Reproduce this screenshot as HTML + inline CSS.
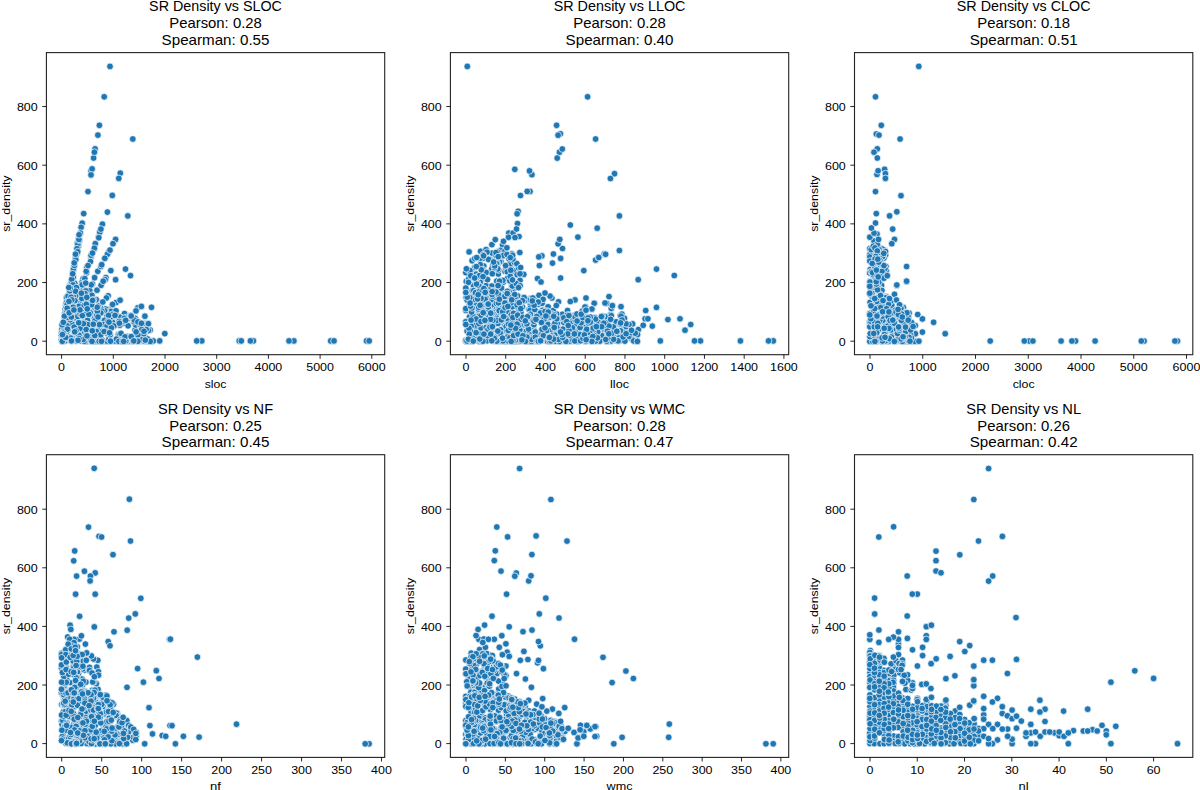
<!DOCTYPE html>
<html><head><meta charset="utf-8"><style>
html,body{margin:0;padding:0;background:#fff;width:1200px;height:790px;overflow:hidden}
svg{display:block}
text{font-family:"Liberation Sans",sans-serif;fill:#000}
</style></head><body>
<svg width="1200" height="790" viewBox="0 0 1200 790">
<defs><clipPath id="c0"><rect x="46.40" y="52.60" width="338.30" height="302.10"/></clipPath><clipPath id="c1"><rect x="450.40" y="52.60" width="338.30" height="302.10"/></clipPath><clipPath id="c2"><rect x="854.50" y="52.60" width="338.30" height="302.10"/></clipPath><clipPath id="c3"><rect x="46.40" y="454.70" width="338.30" height="302.70"/></clipPath><clipPath id="c4"><rect x="450.40" y="454.70" width="338.30" height="302.70"/></clipPath><clipPath id="c5"><rect x="854.50" y="454.70" width="338.30" height="302.70"/></clipPath><filter id="bl" x="0" y="0" width="1200" height="790" filterUnits="userSpaceOnUse"><feGaussianBlur stdDeviation="0"/></filter></defs>
<g>
<rect width="1200" height="790" fill="#fff"/>
<text x="215.55" y="11.20" font-size="14.2" text-anchor="middle" textLength="132.83" lengthAdjust="spacingAndGlyphs">SR Density vs SLOC</text>
<text x="215.55" y="28.30" font-size="14.2" text-anchor="middle" textLength="92.54" lengthAdjust="spacingAndGlyphs">Pearson: 0.28</text>
<text x="215.55" y="45.40" font-size="14.2" text-anchor="middle" textLength="107.91" lengthAdjust="spacingAndGlyphs">Spearman: 0.55</text>
<g clip-path="url(#c0)">

<g fill="#1f77b4" stroke="#fff" stroke-width="0.7">
<circle cx="71.3" cy="340.8" r="3.35"/>
<circle cx="129.6" cy="341.2" r="3.35"/>
<circle cx="108.1" cy="295.8" r="3.35"/>
<circle cx="98.1" cy="319.6" r="3.35"/>
<circle cx="77.0" cy="248.5" r="3.35"/>
<circle cx="119.8" cy="323.2" r="3.35"/>
<circle cx="75.0" cy="317.7" r="3.35"/>
<circle cx="105.4" cy="329.7" r="3.35"/>
<circle cx="150.2" cy="330.0" r="3.35"/>
<circle cx="98.6" cy="237.2" r="3.35"/>
<circle cx="81.9" cy="290.5" r="3.35"/>
<circle cx="100.4" cy="341.4" r="3.35"/>
<circle cx="66.6" cy="338.1" r="3.35"/>
<circle cx="77.3" cy="243.2" r="3.35"/>
<circle cx="65.2" cy="309.0" r="3.35"/>
<circle cx="106.8" cy="341.4" r="3.35"/>
<circle cx="92.5" cy="283.9" r="3.35"/>
<circle cx="72.0" cy="282.0" r="3.35"/>
<circle cx="65.6" cy="321.4" r="3.35"/>
<circle cx="123.3" cy="318.4" r="3.35"/>
<circle cx="104.1" cy="311.0" r="3.35"/>
<circle cx="82.8" cy="311.5" r="3.35"/>
<circle cx="64.4" cy="333.0" r="3.35"/>
<circle cx="75.6" cy="313.6" r="3.35"/>
<circle cx="100.8" cy="341.1" r="3.35"/>
<circle cx="99.8" cy="232.2" r="3.35"/>
<circle cx="108.5" cy="321.6" r="3.35"/>
<circle cx="143.7" cy="334.1" r="3.35"/>
<circle cx="72.7" cy="289.9" r="3.35"/>
<circle cx="95.3" cy="243.7" r="3.35"/>
<circle cx="73.6" cy="285.0" r="3.35"/>
<circle cx="69.4" cy="293.1" r="3.35"/>
<circle cx="84.4" cy="295.4" r="3.35"/>
<circle cx="106.4" cy="298.0" r="3.35"/>
<circle cx="107.0" cy="315.5" r="3.35"/>
<circle cx="73.5" cy="269.1" r="3.35"/>
<circle cx="69.8" cy="285.2" r="3.35"/>
<circle cx="128.1" cy="318.4" r="3.35"/>
<circle cx="70.7" cy="283.9" r="3.35"/>
<circle cx="74.5" cy="296.2" r="3.35"/>
<circle cx="62.6" cy="327.2" r="3.35"/>
<circle cx="68.1" cy="330.1" r="3.35"/>
<circle cx="77.3" cy="335.9" r="3.35"/>
<circle cx="114.3" cy="340.9" r="3.35"/>
<circle cx="85.9" cy="339.0" r="3.35"/>
<circle cx="99.4" cy="125.3" r="3.35"/>
<circle cx="85.3" cy="319.7" r="3.35"/>
<circle cx="148.5" cy="330.6" r="3.35"/>
<circle cx="79.4" cy="309.2" r="3.35"/>
<circle cx="73.0" cy="271.2" r="3.35"/>
<circle cx="65.8" cy="304.0" r="3.35"/>
<circle cx="101.1" cy="334.2" r="3.35"/>
<circle cx="102.3" cy="341.4" r="3.35"/>
<circle cx="78.4" cy="245.9" r="3.35"/>
<circle cx="83.1" cy="278.9" r="3.35"/>
<circle cx="105.0" cy="258.4" r="3.35"/>
<circle cx="131.3" cy="316.9" r="3.35"/>
<circle cx="96.9" cy="300.6" r="3.35"/>
<circle cx="82.8" cy="289.2" r="3.35"/>
<circle cx="144.5" cy="323.7" r="3.35"/>
<circle cx="104.0" cy="341.0" r="3.35"/>
<circle cx="96.0" cy="315.9" r="3.35"/>
<circle cx="138.8" cy="340.9" r="3.35"/>
<circle cx="253.4" cy="340.9" r="3.35"/>
<circle cx="94.1" cy="341.4" r="3.35"/>
<circle cx="129.9" cy="336.8" r="3.35"/>
<circle cx="127.8" cy="215.9" r="3.35"/>
<circle cx="112.1" cy="325.1" r="3.35"/>
<circle cx="62.7" cy="322.8" r="3.35"/>
<circle cx="107.8" cy="309.3" r="3.35"/>
<circle cx="91.2" cy="337.7" r="3.35"/>
<circle cx="107.7" cy="333.8" r="3.35"/>
<circle cx="77.4" cy="308.1" r="3.35"/>
<circle cx="105.5" cy="309.0" r="3.35"/>
<circle cx="71.7" cy="298.9" r="3.35"/>
<circle cx="126.7" cy="340.9" r="3.35"/>
<circle cx="108.0" cy="325.0" r="3.35"/>
<circle cx="81.9" cy="282.7" r="3.35"/>
<circle cx="97.4" cy="321.3" r="3.35"/>
<circle cx="116.1" cy="322.4" r="3.35"/>
<circle cx="100.7" cy="327.1" r="3.35"/>
<circle cx="67.8" cy="296.1" r="3.35"/>
<circle cx="71.3" cy="282.7" r="3.35"/>
<circle cx="91.5" cy="324.6" r="3.35"/>
<circle cx="74.7" cy="283.3" r="3.35"/>
<circle cx="65.1" cy="340.9" r="3.35"/>
<circle cx="104.2" cy="324.9" r="3.35"/>
<circle cx="84.2" cy="332.9" r="3.35"/>
<circle cx="115.6" cy="279.7" r="3.35"/>
<circle cx="120.7" cy="340.9" r="3.35"/>
<circle cx="86.9" cy="267.2" r="3.35"/>
<circle cx="108.6" cy="252.2" r="3.35"/>
<circle cx="66.5" cy="332.4" r="3.35"/>
<circle cx="104.7" cy="310.9" r="3.35"/>
<circle cx="75.1" cy="333.3" r="3.35"/>
<circle cx="74.4" cy="310.1" r="3.35"/>
<circle cx="151.7" cy="341.2" r="3.35"/>
<circle cx="88.0" cy="340.9" r="3.35"/>
<circle cx="84.4" cy="323.1" r="3.35"/>
<circle cx="110.8" cy="270.6" r="3.35"/>
<circle cx="87.3" cy="329.8" r="3.35"/>
<circle cx="82.1" cy="302.7" r="3.35"/>
<circle cx="74.8" cy="303.8" r="3.35"/>
<circle cx="94.5" cy="318.3" r="3.35"/>
<circle cx="80.7" cy="332.4" r="3.35"/>
<circle cx="71.2" cy="297.8" r="3.35"/>
<circle cx="78.8" cy="295.6" r="3.35"/>
<circle cx="81.1" cy="335.2" r="3.35"/>
<circle cx="69.0" cy="294.5" r="3.35"/>
<circle cx="111.5" cy="311.1" r="3.35"/>
<circle cx="87.4" cy="306.1" r="3.35"/>
<circle cx="137.8" cy="307.8" r="3.35"/>
<circle cx="94.0" cy="249.5" r="3.35"/>
<circle cx="66.5" cy="297.5" r="3.35"/>
<circle cx="75.8" cy="302.5" r="3.35"/>
<circle cx="84.7" cy="320.4" r="3.35"/>
<circle cx="88.4" cy="306.2" r="3.35"/>
<circle cx="135.0" cy="330.1" r="3.35"/>
<circle cx="124.2" cy="323.3" r="3.35"/>
<circle cx="135.6" cy="325.0" r="3.35"/>
<circle cx="64.3" cy="318.1" r="3.35"/>
<circle cx="107.6" cy="324.1" r="3.35"/>
<circle cx="74.3" cy="263.7" r="3.35"/>
<circle cx="112.1" cy="305.1" r="3.35"/>
<circle cx="93.3" cy="340.9" r="3.35"/>
<circle cx="72.8" cy="297.2" r="3.35"/>
<circle cx="62.0" cy="328.9" r="3.35"/>
<circle cx="147.1" cy="341.4" r="3.35"/>
<circle cx="64.0" cy="323.6" r="3.35"/>
<circle cx="102.4" cy="224.2" r="3.35"/>
<circle cx="103.4" cy="322.9" r="3.35"/>
<circle cx="104.9" cy="329.6" r="3.35"/>
<circle cx="103.6" cy="330.7" r="3.35"/>
<circle cx="116.1" cy="302.5" r="3.35"/>
<circle cx="330.7" cy="340.9" r="3.35"/>
<circle cx="95.1" cy="148.9" r="3.35"/>
<circle cx="71.7" cy="298.2" r="3.35"/>
<circle cx="146.4" cy="324.3" r="3.35"/>
<circle cx="83.1" cy="303.0" r="3.35"/>
<circle cx="61.4" cy="340.0" r="3.35"/>
<circle cx="79.6" cy="303.2" r="3.35"/>
<circle cx="89.7" cy="290.4" r="3.35"/>
<circle cx="77.8" cy="296.6" r="3.35"/>
<circle cx="100.0" cy="332.4" r="3.35"/>
<circle cx="80.3" cy="290.6" r="3.35"/>
<circle cx="73.5" cy="268.6" r="3.35"/>
<circle cx="98.8" cy="237.7" r="3.35"/>
<circle cx="83.1" cy="303.3" r="3.35"/>
<circle cx="104.5" cy="320.3" r="3.35"/>
<circle cx="135.5" cy="320.1" r="3.35"/>
<circle cx="91.0" cy="256.9" r="3.35"/>
<circle cx="112.3" cy="195.4" r="3.35"/>
<circle cx="293.9" cy="340.9" r="3.35"/>
<circle cx="72.2" cy="324.2" r="3.35"/>
<circle cx="124.5" cy="313.5" r="3.35"/>
<circle cx="77.0" cy="309.9" r="3.35"/>
<circle cx="141.4" cy="337.8" r="3.35"/>
<circle cx="91.0" cy="170.9" r="3.35"/>
<circle cx="84.7" cy="332.9" r="3.35"/>
<circle cx="90.8" cy="336.9" r="3.35"/>
<circle cx="79.3" cy="311.7" r="3.35"/>
<circle cx="91.1" cy="255.3" r="3.35"/>
<circle cx="91.2" cy="284.8" r="3.35"/>
<circle cx="133.8" cy="321.7" r="3.35"/>
<circle cx="79.0" cy="312.9" r="3.35"/>
<circle cx="86.6" cy="272.8" r="3.35"/>
<circle cx="111.7" cy="319.0" r="3.35"/>
<circle cx="148.7" cy="341.0" r="3.35"/>
<circle cx="70.8" cy="336.8" r="3.35"/>
<circle cx="135.2" cy="318.4" r="3.35"/>
<circle cx="78.2" cy="302.6" r="3.35"/>
<circle cx="93.7" cy="308.1" r="3.35"/>
<circle cx="69.7" cy="339.7" r="3.35"/>
<circle cx="107.4" cy="254.3" r="3.35"/>
<circle cx="67.0" cy="309.2" r="3.35"/>
<circle cx="64.5" cy="326.6" r="3.35"/>
<circle cx="140.9" cy="340.9" r="3.35"/>
<circle cx="120.5" cy="340.9" r="3.35"/>
<circle cx="117.9" cy="316.2" r="3.35"/>
<circle cx="97.3" cy="322.1" r="3.35"/>
<circle cx="98.4" cy="313.0" r="3.35"/>
<circle cx="92.0" cy="328.7" r="3.35"/>
<circle cx="63.3" cy="334.2" r="3.35"/>
<circle cx="100.8" cy="308.4" r="3.35"/>
<circle cx="66.9" cy="325.7" r="3.35"/>
<circle cx="118.1" cy="321.4" r="3.35"/>
<circle cx="76.9" cy="315.5" r="3.35"/>
<circle cx="72.3" cy="304.4" r="3.35"/>
<circle cx="133.0" cy="341.3" r="3.35"/>
<circle cx="107.2" cy="341.2" r="3.35"/>
<circle cx="61.4" cy="333.0" r="3.35"/>
<circle cx="120.9" cy="335.4" r="3.35"/>
<circle cx="94.4" cy="248.2" r="3.35"/>
<circle cx="108.9" cy="339.1" r="3.35"/>
<circle cx="85.1" cy="324.3" r="3.35"/>
<circle cx="144.6" cy="335.3" r="3.35"/>
<circle cx="107.4" cy="212.1" r="3.35"/>
<circle cx="67.8" cy="310.9" r="3.35"/>
<circle cx="72.2" cy="307.6" r="3.35"/>
<circle cx="164.8" cy="333.6" r="3.35"/>
<circle cx="64.0" cy="329.5" r="3.35"/>
<circle cx="78.0" cy="306.0" r="3.35"/>
<circle cx="76.5" cy="332.8" r="3.35"/>
<circle cx="99.7" cy="327.6" r="3.35"/>
<circle cx="66.2" cy="303.0" r="3.35"/>
<circle cx="88.1" cy="336.1" r="3.35"/>
<circle cx="101.8" cy="339.6" r="3.35"/>
<circle cx="126.2" cy="317.5" r="3.35"/>
<circle cx="95.5" cy="335.6" r="3.35"/>
<circle cx="77.8" cy="244.3" r="3.35"/>
<circle cx="61.4" cy="335.3" r="3.35"/>
<circle cx="97.9" cy="135.1" r="3.35"/>
<circle cx="70.6" cy="313.6" r="3.35"/>
<circle cx="147.7" cy="339.0" r="3.35"/>
<circle cx="98.4" cy="306.0" r="3.35"/>
<circle cx="64.2" cy="332.9" r="3.35"/>
<circle cx="83.7" cy="213.6" r="3.35"/>
<circle cx="64.3" cy="320.7" r="3.35"/>
<circle cx="91.9" cy="300.5" r="3.35"/>
<circle cx="101.9" cy="311.2" r="3.35"/>
<circle cx="112.5" cy="322.4" r="3.35"/>
<circle cx="97.0" cy="290.2" r="3.35"/>
<circle cx="84.6" cy="314.4" r="3.35"/>
<circle cx="66.2" cy="307.1" r="3.35"/>
<circle cx="101.1" cy="285.3" r="3.35"/>
<circle cx="76.5" cy="298.2" r="3.35"/>
<circle cx="85.7" cy="317.6" r="3.35"/>
<circle cx="106.2" cy="325.5" r="3.35"/>
<circle cx="80.4" cy="297.7" r="3.35"/>
<circle cx="104.8" cy="258.3" r="3.35"/>
<circle cx="65.1" cy="312.8" r="3.35"/>
<circle cx="94.1" cy="307.9" r="3.35"/>
<circle cx="84.8" cy="278.7" r="3.35"/>
<circle cx="102.8" cy="302.0" r="3.35"/>
<circle cx="134.3" cy="320.1" r="3.35"/>
<circle cx="70.9" cy="314.2" r="3.35"/>
<circle cx="66.2" cy="314.0" r="3.35"/>
<circle cx="130.8" cy="315.4" r="3.35"/>
<circle cx="127.3" cy="336.6" r="3.35"/>
<circle cx="62.7" cy="334.8" r="3.35"/>
<circle cx="104.2" cy="96.8" r="3.35"/>
<circle cx="67.0" cy="301.7" r="3.35"/>
<circle cx="68.8" cy="299.1" r="3.35"/>
<circle cx="79.5" cy="339.8" r="3.35"/>
<circle cx="73.6" cy="339.1" r="3.35"/>
<circle cx="148.4" cy="323.7" r="3.35"/>
<circle cx="118.3" cy="334.6" r="3.35"/>
<circle cx="146.2" cy="329.5" r="3.35"/>
<circle cx="74.2" cy="327.1" r="3.35"/>
<circle cx="151.5" cy="307.3" r="3.35"/>
<circle cx="75.8" cy="295.6" r="3.35"/>
<circle cx="116.0" cy="310.8" r="3.35"/>
<circle cx="96.4" cy="315.6" r="3.35"/>
<circle cx="143.7" cy="340.9" r="3.35"/>
<circle cx="96.7" cy="341.4" r="3.35"/>
<circle cx="120.3" cy="173.2" r="3.35"/>
<circle cx="90.9" cy="323.5" r="3.35"/>
<circle cx="125.7" cy="340.3" r="3.35"/>
<circle cx="78.9" cy="237.8" r="3.35"/>
<circle cx="119.3" cy="334.9" r="3.35"/>
<circle cx="80.4" cy="340.8" r="3.35"/>
<circle cx="139.8" cy="324.2" r="3.35"/>
<circle cx="96.6" cy="340.8" r="3.35"/>
<circle cx="86.2" cy="271.3" r="3.35"/>
<circle cx="93.0" cy="338.4" r="3.35"/>
<circle cx="95.9" cy="321.2" r="3.35"/>
<circle cx="85.3" cy="310.3" r="3.35"/>
<circle cx="94.6" cy="277.7" r="3.35"/>
<circle cx="95.0" cy="320.8" r="3.35"/>
<circle cx="87.2" cy="338.5" r="3.35"/>
<circle cx="82.2" cy="223.2" r="3.35"/>
<circle cx="82.1" cy="300.3" r="3.35"/>
<circle cx="153.3" cy="340.9" r="3.35"/>
<circle cx="96.3" cy="309.5" r="3.35"/>
<circle cx="93.8" cy="324.3" r="3.35"/>
<circle cx="78.9" cy="301.9" r="3.35"/>
<circle cx="73.4" cy="296.8" r="3.35"/>
<circle cx="81.1" cy="227.3" r="3.35"/>
<circle cx="85.9" cy="341.4" r="3.35"/>
<circle cx="141.4" cy="306.4" r="3.35"/>
<circle cx="103.0" cy="324.5" r="3.35"/>
<circle cx="75.5" cy="259.5" r="3.35"/>
<circle cx="72.0" cy="292.0" r="3.35"/>
<circle cx="77.6" cy="289.5" r="3.35"/>
<circle cx="121.0" cy="333.4" r="3.35"/>
<circle cx="141.8" cy="329.5" r="3.35"/>
<circle cx="92.1" cy="168.9" r="3.35"/>
<circle cx="115.6" cy="239.4" r="3.35"/>
<circle cx="87.5" cy="339.5" r="3.35"/>
<circle cx="62.7" cy="339.2" r="3.35"/>
<circle cx="88.8" cy="300.3" r="3.35"/>
<circle cx="100.8" cy="313.0" r="3.35"/>
<circle cx="334.0" cy="340.9" r="3.35"/>
<circle cx="105.9" cy="277.7" r="3.35"/>
<circle cx="76.1" cy="340.9" r="3.35"/>
<circle cx="201.8" cy="340.9" r="3.35"/>
<circle cx="89.0" cy="298.0" r="3.35"/>
<circle cx="112.6" cy="304.4" r="3.35"/>
<circle cx="77.8" cy="316.5" r="3.35"/>
<circle cx="110.0" cy="250.1" r="3.35"/>
<circle cx="97.3" cy="311.2" r="3.35"/>
<circle cx="83.2" cy="322.5" r="3.35"/>
<circle cx="80.3" cy="328.2" r="3.35"/>
<circle cx="96.2" cy="299.6" r="3.35"/>
<circle cx="84.2" cy="341.3" r="3.35"/>
<circle cx="87.5" cy="320.3" r="3.35"/>
<circle cx="71.3" cy="317.8" r="3.35"/>
<circle cx="130.5" cy="275.6" r="3.35"/>
<circle cx="102.5" cy="331.2" r="3.35"/>
<circle cx="67.2" cy="304.4" r="3.35"/>
<circle cx="66.8" cy="311.8" r="3.35"/>
<circle cx="132.8" cy="139.0" r="3.35"/>
<circle cx="80.5" cy="338.0" r="3.35"/>
<circle cx="119.8" cy="325.2" r="3.35"/>
<circle cx="79.0" cy="306.3" r="3.35"/>
<circle cx="239.2" cy="340.9" r="3.35"/>
<circle cx="82.0" cy="300.4" r="3.35"/>
<circle cx="99.0" cy="336.7" r="3.35"/>
<circle cx="83.2" cy="312.7" r="3.35"/>
<circle cx="128.1" cy="325.8" r="3.35"/>
<circle cx="62.3" cy="341.4" r="3.35"/>
<circle cx="66.2" cy="315.8" r="3.35"/>
<circle cx="85.8" cy="335.4" r="3.35"/>
<circle cx="70.0" cy="319.8" r="3.35"/>
<circle cx="117.8" cy="340.8" r="3.35"/>
<circle cx="107.0" cy="326.0" r="3.35"/>
<circle cx="85.6" cy="323.6" r="3.35"/>
<circle cx="121.8" cy="320.9" r="3.35"/>
<circle cx="79.4" cy="240.4" r="3.35"/>
<circle cx="69.7" cy="317.5" r="3.35"/>
<circle cx="80.5" cy="337.6" r="3.35"/>
<circle cx="120.4" cy="317.3" r="3.35"/>
<circle cx="66.1" cy="313.9" r="3.35"/>
<circle cx="83.8" cy="283.5" r="3.35"/>
<circle cx="87.6" cy="328.4" r="3.35"/>
<circle cx="96.4" cy="331.5" r="3.35"/>
<circle cx="125.8" cy="341.0" r="3.35"/>
<circle cx="83.4" cy="339.4" r="3.35"/>
<circle cx="99.2" cy="341.3" r="3.35"/>
<circle cx="100.9" cy="229.1" r="3.35"/>
<circle cx="88.8" cy="337.2" r="3.35"/>
<circle cx="92.5" cy="253.1" r="3.35"/>
<circle cx="86.0" cy="304.8" r="3.35"/>
<circle cx="71.9" cy="303.2" r="3.35"/>
<circle cx="70.2" cy="340.1" r="3.35"/>
<circle cx="91.9" cy="295.3" r="3.35"/>
<circle cx="366.5" cy="340.9" r="3.35"/>
<circle cx="77.0" cy="253.6" r="3.35"/>
<circle cx="125.5" cy="269.1" r="3.35"/>
<circle cx="97.8" cy="271.3" r="3.35"/>
<circle cx="66.6" cy="310.3" r="3.35"/>
<circle cx="124.2" cy="318.3" r="3.35"/>
<circle cx="77.0" cy="248.7" r="3.35"/>
<circle cx="71.8" cy="282.9" r="3.35"/>
<circle cx="78.9" cy="335.2" r="3.35"/>
<circle cx="74.9" cy="300.6" r="3.35"/>
<circle cx="63.3" cy="332.0" r="3.35"/>
<circle cx="88.8" cy="336.5" r="3.35"/>
<circle cx="70.2" cy="295.8" r="3.35"/>
<circle cx="88.6" cy="309.8" r="3.35"/>
<circle cx="62.3" cy="341.3" r="3.35"/>
<circle cx="90.8" cy="313.2" r="3.35"/>
<circle cx="85.9" cy="296.5" r="3.35"/>
<circle cx="72.8" cy="275.6" r="3.35"/>
<circle cx="85.3" cy="302.7" r="3.35"/>
<circle cx="105.1" cy="279.8" r="3.35"/>
<circle cx="80.1" cy="314.0" r="3.35"/>
<circle cx="73.4" cy="277.0" r="3.35"/>
<circle cx="69.6" cy="291.9" r="3.35"/>
<circle cx="79.0" cy="338.5" r="3.35"/>
<circle cx="69.6" cy="337.3" r="3.35"/>
<circle cx="81.9" cy="298.4" r="3.35"/>
<circle cx="91.0" cy="339.8" r="3.35"/>
<circle cx="125.0" cy="336.9" r="3.35"/>
<circle cx="82.2" cy="284.8" r="3.35"/>
<circle cx="70.9" cy="338.1" r="3.35"/>
<circle cx="73.9" cy="308.2" r="3.35"/>
<circle cx="136.0" cy="310.9" r="3.35"/>
<circle cx="112.1" cy="314.4" r="3.35"/>
<circle cx="72.4" cy="340.7" r="3.35"/>
<circle cx="118.8" cy="178.4" r="3.35"/>
<circle cx="289.0" cy="340.9" r="3.35"/>
<circle cx="131.2" cy="316.0" r="3.35"/>
<circle cx="85.7" cy="283.1" r="3.35"/>
<circle cx="114.9" cy="341.0" r="3.35"/>
<circle cx="78.0" cy="340.3" r="3.35"/>
<circle cx="75.7" cy="257.3" r="3.35"/>
<circle cx="74.3" cy="265.4" r="3.35"/>
<circle cx="143.5" cy="334.1" r="3.35"/>
<circle cx="75.8" cy="259.8" r="3.35"/>
<circle cx="144.0" cy="331.2" r="3.35"/>
<circle cx="93.6" cy="158.0" r="3.35"/>
<circle cx="82.1" cy="314.5" r="3.35"/>
<circle cx="100.9" cy="266.5" r="3.35"/>
<circle cx="76.0" cy="330.9" r="3.35"/>
<circle cx="90.2" cy="312.8" r="3.35"/>
<circle cx="71.7" cy="279.3" r="3.35"/>
<circle cx="141.4" cy="339.6" r="3.35"/>
<circle cx="120.1" cy="300.2" r="3.35"/>
<circle cx="68.2" cy="317.5" r="3.35"/>
<circle cx="67.5" cy="329.1" r="3.35"/>
<circle cx="101.5" cy="341.3" r="3.35"/>
<circle cx="73.2" cy="307.3" r="3.35"/>
<circle cx="241.3" cy="340.9" r="3.35"/>
<circle cx="72.8" cy="289.9" r="3.35"/>
<circle cx="64.4" cy="316.2" r="3.35"/>
<circle cx="73.0" cy="284.9" r="3.35"/>
<circle cx="71.4" cy="317.0" r="3.35"/>
<circle cx="137.9" cy="321.9" r="3.35"/>
<circle cx="68.0" cy="296.1" r="3.35"/>
<circle cx="62.1" cy="324.8" r="3.35"/>
<circle cx="137.8" cy="334.8" r="3.35"/>
<circle cx="65.7" cy="337.5" r="3.35"/>
<circle cx="91.4" cy="330.9" r="3.35"/>
<circle cx="71.0" cy="297.1" r="3.35"/>
<circle cx="131.2" cy="336.6" r="3.35"/>
<circle cx="137.9" cy="341.3" r="3.35"/>
<circle cx="116.4" cy="339.1" r="3.35"/>
<circle cx="76.4" cy="287.6" r="3.35"/>
<circle cx="123.4" cy="321.3" r="3.35"/>
<circle cx="78.9" cy="239.4" r="3.35"/>
<circle cx="136.1" cy="331.9" r="3.35"/>
<circle cx="84.7" cy="314.6" r="3.35"/>
<circle cx="110.2" cy="334.7" r="3.35"/>
<circle cx="88.0" cy="191.6" r="3.35"/>
<circle cx="74.2" cy="262.9" r="3.35"/>
<circle cx="100.8" cy="334.7" r="3.35"/>
<circle cx="74.7" cy="331.8" r="3.35"/>
<circle cx="84.5" cy="292.9" r="3.35"/>
<circle cx="94.4" cy="152.2" r="3.35"/>
<circle cx="109.9" cy="317.9" r="3.35"/>
<circle cx="68.7" cy="311.0" r="3.35"/>
<circle cx="110.5" cy="341.2" r="3.35"/>
<circle cx="69.8" cy="290.8" r="3.35"/>
<circle cx="105.1" cy="331.2" r="3.35"/>
<circle cx="77.7" cy="251.7" r="3.35"/>
<circle cx="70.9" cy="311.6" r="3.35"/>
<circle cx="85.9" cy="290.9" r="3.35"/>
<circle cx="97.2" cy="307.2" r="3.35"/>
<circle cx="141.4" cy="323.3" r="3.35"/>
<circle cx="90.5" cy="261.6" r="3.35"/>
<circle cx="88.1" cy="324.7" r="3.35"/>
<circle cx="110.0" cy="66.4" r="3.35"/>
<circle cx="91.6" cy="304.7" r="3.35"/>
<circle cx="113.0" cy="243.7" r="3.35"/>
<circle cx="71.8" cy="299.9" r="3.35"/>
<circle cx="82.3" cy="315.6" r="3.35"/>
<circle cx="80.4" cy="233.1" r="3.35"/>
<circle cx="119.1" cy="321.5" r="3.35"/>
<circle cx="93.5" cy="299.7" r="3.35"/>
<circle cx="94.7" cy="335.5" r="3.35"/>
<circle cx="63.3" cy="322.3" r="3.35"/>
<circle cx="114.0" cy="325.9" r="3.35"/>
<circle cx="108.6" cy="315.4" r="3.35"/>
<circle cx="111.4" cy="327.8" r="3.35"/>
<circle cx="85.1" cy="293.6" r="3.35"/>
<circle cx="67.2" cy="308.3" r="3.35"/>
<circle cx="125.7" cy="320.3" r="3.35"/>
<circle cx="83.4" cy="323.7" r="3.35"/>
<circle cx="118.9" cy="341.4" r="3.35"/>
<circle cx="86.2" cy="329.5" r="3.35"/>
<circle cx="71.5" cy="340.9" r="3.35"/>
<circle cx="84.2" cy="305.3" r="3.35"/>
<circle cx="150.2" cy="341.4" r="3.35"/>
<circle cx="86.3" cy="304.3" r="3.35"/>
<circle cx="87.0" cy="335.9" r="3.35"/>
<circle cx="99.5" cy="324.6" r="3.35"/>
<circle cx="92.0" cy="341.4" r="3.35"/>
<circle cx="72.7" cy="273.8" r="3.35"/>
<circle cx="145.3" cy="340.1" r="3.35"/>
<circle cx="69.0" cy="301.4" r="3.35"/>
<circle cx="107.9" cy="321.3" r="3.35"/>
<circle cx="92.3" cy="330.8" r="3.35"/>
<circle cx="369.2" cy="340.9" r="3.35"/>
<circle cx="159.7" cy="340.9" r="3.35"/>
<circle cx="93.3" cy="324.2" r="3.35"/>
<circle cx="122.4" cy="341.4" r="3.35"/>
<circle cx="104.1" cy="331.5" r="3.35"/>
<circle cx="92.5" cy="300.4" r="3.35"/>
<circle cx="79.1" cy="234.8" r="3.35"/>
<circle cx="133.8" cy="340.9" r="3.35"/>
<circle cx="63.3" cy="333.3" r="3.35"/>
<circle cx="109.0" cy="322.1" r="3.35"/>
<circle cx="109.5" cy="332.8" r="3.35"/>
<circle cx="98.0" cy="317.0" r="3.35"/>
<circle cx="80.0" cy="309.9" r="3.35"/>
<circle cx="75.5" cy="291.2" r="3.35"/>
<circle cx="101.7" cy="264.7" r="3.35"/>
<circle cx="88.9" cy="314.3" r="3.35"/>
<circle cx="103.2" cy="281.2" r="3.35"/>
<circle cx="70.3" cy="288.0" r="3.35"/>
<circle cx="144.9" cy="316.2" r="3.35"/>
<circle cx="123.7" cy="341.4" r="3.35"/>
<circle cx="88.0" cy="265.6" r="3.35"/>
<circle cx="250.4" cy="340.9" r="3.35"/>
<circle cx="75.5" cy="254.2" r="3.35"/>
<circle cx="69.2" cy="312.8" r="3.35"/>
<circle cx="62.4" cy="334.6" r="3.35"/>
<circle cx="119.4" cy="323.2" r="3.35"/>
<circle cx="91.0" cy="174.9" r="3.35"/>
<circle cx="73.9" cy="310.0" r="3.35"/>
<circle cx="78.7" cy="322.8" r="3.35"/>
<circle cx="196.7" cy="340.9" r="3.35"/>
<circle cx="86.8" cy="297.3" r="3.35"/>
<circle cx="115.0" cy="315.4" r="3.35"/>
<circle cx="81.4" cy="293.2" r="3.35"/>
<circle cx="87.3" cy="308.9" r="3.35"/>
<circle cx="68.8" cy="287.5" r="3.35"/>
</g></g>
<rect x="46.40" y="52.60" width="338.30" height="302.10" fill="none" stroke="#222" stroke-width="1.1"/>
<line x1="61.60" y1="354.70" x2="61.60" y2="358.80" stroke="#000" stroke-width="0.85"/>
<text x="61.60" y="371.40" font-size="11.8" text-anchor="middle" textLength="6.93" lengthAdjust="spacingAndGlyphs">0</text>
<line x1="113.30" y1="354.70" x2="113.30" y2="358.80" stroke="#000" stroke-width="0.85"/>
<text x="113.30" y="371.40" font-size="11.8" text-anchor="middle" textLength="27.74" lengthAdjust="spacingAndGlyphs">1000</text>
<line x1="165.00" y1="354.70" x2="165.00" y2="358.80" stroke="#000" stroke-width="0.85"/>
<text x="165.00" y="371.40" font-size="11.8" text-anchor="middle" textLength="27.74" lengthAdjust="spacingAndGlyphs">2000</text>
<line x1="216.70" y1="354.70" x2="216.70" y2="358.80" stroke="#000" stroke-width="0.85"/>
<text x="216.70" y="371.40" font-size="11.8" text-anchor="middle" textLength="27.74" lengthAdjust="spacingAndGlyphs">3000</text>
<line x1="268.40" y1="354.70" x2="268.40" y2="358.80" stroke="#000" stroke-width="0.85"/>
<text x="268.40" y="371.40" font-size="11.8" text-anchor="middle" textLength="27.74" lengthAdjust="spacingAndGlyphs">4000</text>
<line x1="320.10" y1="354.70" x2="320.10" y2="358.80" stroke="#000" stroke-width="0.85"/>
<text x="320.10" y="371.40" font-size="11.8" text-anchor="middle" textLength="27.74" lengthAdjust="spacingAndGlyphs">5000</text>
<line x1="371.80" y1="354.70" x2="371.80" y2="358.80" stroke="#000" stroke-width="0.85"/>
<text x="371.80" y="371.40" font-size="11.8" text-anchor="middle" textLength="27.74" lengthAdjust="spacingAndGlyphs">6000</text>
<line x1="42.30" y1="341.20" x2="46.40" y2="341.20" stroke="#000" stroke-width="0.85"/>
<text x="37.70" y="345.70" font-size="11.8" text-anchor="end" textLength="6.93" lengthAdjust="spacingAndGlyphs">0</text>
<line x1="42.30" y1="282.53" x2="46.40" y2="282.53" stroke="#000" stroke-width="0.85"/>
<text x="37.70" y="287.03" font-size="11.8" text-anchor="end" textLength="20.80" lengthAdjust="spacingAndGlyphs">200</text>
<line x1="42.30" y1="223.86" x2="46.40" y2="223.86" stroke="#000" stroke-width="0.85"/>
<text x="37.70" y="228.36" font-size="11.8" text-anchor="end" textLength="20.80" lengthAdjust="spacingAndGlyphs">400</text>
<line x1="42.30" y1="165.19" x2="46.40" y2="165.19" stroke="#000" stroke-width="0.85"/>
<text x="37.70" y="169.69" font-size="11.8" text-anchor="end" textLength="20.80" lengthAdjust="spacingAndGlyphs">600</text>
<line x1="42.30" y1="106.52" x2="46.40" y2="106.52" stroke="#000" stroke-width="0.85"/>
<text x="37.70" y="111.02" font-size="11.8" text-anchor="end" textLength="20.80" lengthAdjust="spacingAndGlyphs">800</text>
<text x="215.55" y="387.60" font-size="11.8" text-anchor="middle" textLength="21.66" lengthAdjust="spacingAndGlyphs">sloc</text>
<g transform="translate(9.80,203.65) rotate(-90)"><text x="0.00" y="0.00" font-size="11.8" text-anchor="middle" textLength="56.34" lengthAdjust="spacingAndGlyphs">sr_density</text></g>
<text x="619.55" y="11.20" font-size="14.2" text-anchor="middle" textLength="131.78" lengthAdjust="spacingAndGlyphs">SR Density vs LLOC</text>
<text x="619.55" y="28.30" font-size="14.2" text-anchor="middle" textLength="92.54" lengthAdjust="spacingAndGlyphs">Pearson: 0.28</text>
<text x="619.55" y="45.40" font-size="14.2" text-anchor="middle" textLength="107.91" lengthAdjust="spacingAndGlyphs">Spearman: 0.40</text>
<g clip-path="url(#c1)">

<g fill="#1f77b4" stroke="#fff" stroke-width="0.7">
<circle cx="531.9" cy="314.5" r="3.35"/>
<circle cx="510.2" cy="271.9" r="3.35"/>
<circle cx="505.0" cy="271.3" r="3.35"/>
<circle cx="512.7" cy="333.2" r="3.35"/>
<circle cx="519.7" cy="273.5" r="3.35"/>
<circle cx="603.8" cy="331.6" r="3.35"/>
<circle cx="599.7" cy="336.2" r="3.35"/>
<circle cx="601.7" cy="335.3" r="3.35"/>
<circle cx="471.5" cy="337.4" r="3.35"/>
<circle cx="565.7" cy="332.8" r="3.35"/>
<circle cx="584.6" cy="337.0" r="3.35"/>
<circle cx="510.2" cy="336.6" r="3.35"/>
<circle cx="534.7" cy="298.9" r="3.35"/>
<circle cx="560.4" cy="133.8" r="3.35"/>
<circle cx="515.5" cy="325.8" r="3.35"/>
<circle cx="519.8" cy="252.5" r="3.35"/>
<circle cx="515.8" cy="341.1" r="3.35"/>
<circle cx="512.2" cy="341.4" r="3.35"/>
<circle cx="472.1" cy="260.7" r="3.35"/>
<circle cx="517.1" cy="319.9" r="3.35"/>
<circle cx="562.2" cy="333.8" r="3.35"/>
<circle cx="503.8" cy="300.9" r="3.35"/>
<circle cx="477.8" cy="337.9" r="3.35"/>
<circle cx="502.6" cy="324.3" r="3.35"/>
<circle cx="581.5" cy="336.3" r="3.35"/>
<circle cx="530.5" cy="313.6" r="3.35"/>
<circle cx="510.0" cy="341.4" r="3.35"/>
<circle cx="529.8" cy="298.5" r="3.35"/>
<circle cx="502.4" cy="293.7" r="3.35"/>
<circle cx="558.5" cy="301.8" r="3.35"/>
<circle cx="469.0" cy="292.1" r="3.35"/>
<circle cx="575.0" cy="299.9" r="3.35"/>
<circle cx="477.9" cy="299.0" r="3.35"/>
<circle cx="494.0" cy="340.4" r="3.35"/>
<circle cx="549.8" cy="340.9" r="3.35"/>
<circle cx="562.5" cy="248.5" r="3.35"/>
<circle cx="600.0" cy="324.2" r="3.35"/>
<circle cx="511.7" cy="329.7" r="3.35"/>
<circle cx="488.2" cy="293.5" r="3.35"/>
<circle cx="570.3" cy="225.0" r="3.35"/>
<circle cx="501.0" cy="261.6" r="3.35"/>
<circle cx="521.4" cy="299.1" r="3.35"/>
<circle cx="584.7" cy="335.9" r="3.35"/>
<circle cx="536.5" cy="316.5" r="3.35"/>
<circle cx="514.2" cy="336.9" r="3.35"/>
<circle cx="467.5" cy="273.1" r="3.35"/>
<circle cx="551.9" cy="298.0" r="3.35"/>
<circle cx="494.8" cy="305.9" r="3.35"/>
<circle cx="523.8" cy="274.4" r="3.35"/>
<circle cx="524.3" cy="331.7" r="3.35"/>
<circle cx="539.0" cy="295.3" r="3.35"/>
<circle cx="490.4" cy="306.1" r="3.35"/>
<circle cx="638.2" cy="279.7" r="3.35"/>
<circle cx="516.7" cy="300.9" r="3.35"/>
<circle cx="474.0" cy="284.9" r="3.35"/>
<circle cx="541.3" cy="330.8" r="3.35"/>
<circle cx="483.8" cy="266.0" r="3.35"/>
<circle cx="539.7" cy="312.3" r="3.35"/>
<circle cx="512.1" cy="293.8" r="3.35"/>
<circle cx="519.8" cy="334.1" r="3.35"/>
<circle cx="528.5" cy="335.8" r="3.35"/>
<circle cx="559.5" cy="152.2" r="3.35"/>
<circle cx="531.9" cy="174.7" r="3.35"/>
<circle cx="524.1" cy="338.7" r="3.35"/>
<circle cx="497.1" cy="259.2" r="3.35"/>
<circle cx="474.7" cy="267.4" r="3.35"/>
<circle cx="493.0" cy="327.6" r="3.35"/>
<circle cx="484.6" cy="287.4" r="3.35"/>
<circle cx="500.2" cy="292.3" r="3.35"/>
<circle cx="479.5" cy="332.4" r="3.35"/>
<circle cx="498.8" cy="307.8" r="3.35"/>
<circle cx="520.4" cy="320.7" r="3.35"/>
<circle cx="536.2" cy="316.4" r="3.35"/>
<circle cx="509.3" cy="297.2" r="3.35"/>
<circle cx="523.8" cy="298.3" r="3.35"/>
<circle cx="510.4" cy="337.9" r="3.35"/>
<circle cx="485.9" cy="303.3" r="3.35"/>
<circle cx="597.2" cy="228.2" r="3.35"/>
<circle cx="588.1" cy="320.2" r="3.35"/>
<circle cx="465.8" cy="321.5" r="3.35"/>
<circle cx="604.0" cy="330.7" r="3.35"/>
<circle cx="496.3" cy="322.5" r="3.35"/>
<circle cx="585.3" cy="341.4" r="3.35"/>
<circle cx="562.4" cy="314.3" r="3.35"/>
<circle cx="740.4" cy="340.9" r="3.35"/>
<circle cx="539.3" cy="333.7" r="3.35"/>
<circle cx="566.8" cy="341.0" r="3.35"/>
<circle cx="486.3" cy="305.4" r="3.35"/>
<circle cx="597.3" cy="330.1" r="3.35"/>
<circle cx="607.1" cy="334.6" r="3.35"/>
<circle cx="480.2" cy="338.4" r="3.35"/>
<circle cx="623.5" cy="318.2" r="3.35"/>
<circle cx="550.0" cy="296.1" r="3.35"/>
<circle cx="526.8" cy="336.0" r="3.35"/>
<circle cx="503.3" cy="330.9" r="3.35"/>
<circle cx="479.1" cy="328.9" r="3.35"/>
<circle cx="636.2" cy="338.9" r="3.35"/>
<circle cx="472.0" cy="316.6" r="3.35"/>
<circle cx="491.6" cy="289.5" r="3.35"/>
<circle cx="573.1" cy="334.0" r="3.35"/>
<circle cx="517.4" cy="274.9" r="3.35"/>
<circle cx="571.3" cy="319.2" r="3.35"/>
<circle cx="577.2" cy="334.1" r="3.35"/>
<circle cx="493.1" cy="293.5" r="3.35"/>
<circle cx="511.1" cy="264.4" r="3.35"/>
<circle cx="512.8" cy="316.2" r="3.35"/>
<circle cx="510.5" cy="312.8" r="3.35"/>
<circle cx="568.9" cy="316.7" r="3.35"/>
<circle cx="538.1" cy="304.4" r="3.35"/>
<circle cx="588.1" cy="322.3" r="3.35"/>
<circle cx="535.5" cy="341.2" r="3.35"/>
<circle cx="513.8" cy="297.2" r="3.35"/>
<circle cx="545.5" cy="332.3" r="3.35"/>
<circle cx="506.0" cy="253.1" r="3.35"/>
<circle cx="517.3" cy="341.4" r="3.35"/>
<circle cx="700.5" cy="340.9" r="3.35"/>
<circle cx="495.9" cy="339.5" r="3.35"/>
<circle cx="512.0" cy="295.0" r="3.35"/>
<circle cx="465.8" cy="272.6" r="3.35"/>
<circle cx="537.2" cy="319.3" r="3.35"/>
<circle cx="606.9" cy="341.4" r="3.35"/>
<circle cx="553.6" cy="331.4" r="3.35"/>
<circle cx="512.5" cy="255.0" r="3.35"/>
<circle cx="538.2" cy="302.3" r="3.35"/>
<circle cx="573.2" cy="317.0" r="3.35"/>
<circle cx="488.2" cy="325.3" r="3.35"/>
<circle cx="519.7" cy="297.6" r="3.35"/>
<circle cx="507.5" cy="341.4" r="3.35"/>
<circle cx="503.7" cy="299.4" r="3.35"/>
<circle cx="510.9" cy="268.1" r="3.35"/>
<circle cx="477.7" cy="309.8" r="3.35"/>
<circle cx="509.6" cy="303.5" r="3.35"/>
<circle cx="548.6" cy="311.8" r="3.35"/>
<circle cx="540.6" cy="302.6" r="3.35"/>
<circle cx="478.2" cy="334.0" r="3.35"/>
<circle cx="527.9" cy="341.4" r="3.35"/>
<circle cx="471.0" cy="317.4" r="3.35"/>
<circle cx="523.8" cy="324.4" r="3.35"/>
<circle cx="529.4" cy="317.3" r="3.35"/>
<circle cx="482.6" cy="290.5" r="3.35"/>
<circle cx="517.7" cy="298.7" r="3.35"/>
<circle cx="511.9" cy="293.0" r="3.35"/>
<circle cx="559.3" cy="319.1" r="3.35"/>
<circle cx="602.9" cy="326.1" r="3.35"/>
<circle cx="530.0" cy="191.4" r="3.35"/>
<circle cx="610.6" cy="328.2" r="3.35"/>
<circle cx="540.9" cy="333.6" r="3.35"/>
<circle cx="487.1" cy="326.2" r="3.35"/>
<circle cx="544.7" cy="330.3" r="3.35"/>
<circle cx="572.9" cy="338.8" r="3.35"/>
<circle cx="467.1" cy="331.0" r="3.35"/>
<circle cx="595.7" cy="260.0" r="3.35"/>
<circle cx="502.1" cy="313.0" r="3.35"/>
<circle cx="562.3" cy="149.0" r="3.35"/>
<circle cx="514.6" cy="298.1" r="3.35"/>
<circle cx="501.7" cy="250.4" r="3.35"/>
<circle cx="585.1" cy="327.4" r="3.35"/>
<circle cx="479.7" cy="335.7" r="3.35"/>
<circle cx="500.8" cy="295.0" r="3.35"/>
<circle cx="469.4" cy="317.0" r="3.35"/>
<circle cx="486.2" cy="304.4" r="3.35"/>
<circle cx="620.2" cy="315.5" r="3.35"/>
<circle cx="545.7" cy="324.8" r="3.35"/>
<circle cx="511.2" cy="314.4" r="3.35"/>
<circle cx="484.6" cy="336.1" r="3.35"/>
<circle cx="486.0" cy="307.9" r="3.35"/>
<circle cx="515.6" cy="341.4" r="3.35"/>
<circle cx="612.9" cy="335.7" r="3.35"/>
<circle cx="467.5" cy="295.1" r="3.35"/>
<circle cx="533.5" cy="328.2" r="3.35"/>
<circle cx="587.6" cy="96.8" r="3.35"/>
<circle cx="607.7" cy="327.7" r="3.35"/>
<circle cx="490.2" cy="295.4" r="3.35"/>
<circle cx="542.1" cy="303.3" r="3.35"/>
<circle cx="495.5" cy="285.8" r="3.35"/>
<circle cx="495.3" cy="320.2" r="3.35"/>
<circle cx="553.4" cy="254.0" r="3.35"/>
<circle cx="600.3" cy="322.3" r="3.35"/>
<circle cx="509.3" cy="293.6" r="3.35"/>
<circle cx="519.2" cy="340.8" r="3.35"/>
<circle cx="577.9" cy="237.1" r="3.35"/>
<circle cx="564.4" cy="333.8" r="3.35"/>
<circle cx="526.5" cy="338.3" r="3.35"/>
<circle cx="496.0" cy="317.2" r="3.35"/>
<circle cx="680.0" cy="318.8" r="3.35"/>
<circle cx="509.1" cy="336.4" r="3.35"/>
<circle cx="600.1" cy="331.0" r="3.35"/>
<circle cx="602.9" cy="329.5" r="3.35"/>
<circle cx="532.7" cy="305.6" r="3.35"/>
<circle cx="511.7" cy="285.7" r="3.35"/>
<circle cx="597.0" cy="321.1" r="3.35"/>
<circle cx="632.6" cy="323.9" r="3.35"/>
<circle cx="483.3" cy="293.3" r="3.35"/>
<circle cx="503.4" cy="282.1" r="3.35"/>
<circle cx="526.8" cy="317.1" r="3.35"/>
<circle cx="471.9" cy="319.9" r="3.35"/>
<circle cx="619.4" cy="336.2" r="3.35"/>
<circle cx="575.0" cy="333.6" r="3.35"/>
<circle cx="479.2" cy="319.8" r="3.35"/>
<circle cx="510.0" cy="263.8" r="3.35"/>
<circle cx="576.1" cy="324.1" r="3.35"/>
<circle cx="527.7" cy="300.1" r="3.35"/>
<circle cx="569.3" cy="319.3" r="3.35"/>
<circle cx="552.8" cy="335.8" r="3.35"/>
<circle cx="488.0" cy="337.2" r="3.35"/>
<circle cx="576.2" cy="315.2" r="3.35"/>
<circle cx="480.3" cy="259.2" r="3.35"/>
<circle cx="499.5" cy="262.0" r="3.35"/>
<circle cx="482.5" cy="294.8" r="3.35"/>
<circle cx="530.5" cy="304.7" r="3.35"/>
<circle cx="556.9" cy="322.0" r="3.35"/>
<circle cx="621.9" cy="314.1" r="3.35"/>
<circle cx="557.8" cy="335.5" r="3.35"/>
<circle cx="503.1" cy="253.5" r="3.35"/>
<circle cx="507.3" cy="278.5" r="3.35"/>
<circle cx="587.0" cy="317.9" r="3.35"/>
<circle cx="466.3" cy="281.4" r="3.35"/>
<circle cx="557.9" cy="323.7" r="3.35"/>
<circle cx="556.5" cy="339.6" r="3.35"/>
<circle cx="482.7" cy="269.6" r="3.35"/>
<circle cx="558.5" cy="340.7" r="3.35"/>
<circle cx="623.2" cy="328.9" r="3.35"/>
<circle cx="557.3" cy="323.6" r="3.35"/>
<circle cx="497.8" cy="341.3" r="3.35"/>
<circle cx="583.6" cy="336.4" r="3.35"/>
<circle cx="490.7" cy="323.8" r="3.35"/>
<circle cx="526.0" cy="321.1" r="3.35"/>
<circle cx="490.4" cy="271.5" r="3.35"/>
<circle cx="502.8" cy="280.4" r="3.35"/>
<circle cx="525.0" cy="318.1" r="3.35"/>
<circle cx="484.1" cy="319.9" r="3.35"/>
<circle cx="508.8" cy="233.1" r="3.35"/>
<circle cx="631.9" cy="339.2" r="3.35"/>
<circle cx="624.5" cy="318.3" r="3.35"/>
<circle cx="485.4" cy="278.8" r="3.35"/>
<circle cx="497.4" cy="265.6" r="3.35"/>
<circle cx="528.5" cy="300.1" r="3.35"/>
<circle cx="513.5" cy="288.3" r="3.35"/>
<circle cx="537.4" cy="313.5" r="3.35"/>
<circle cx="516.4" cy="299.9" r="3.35"/>
<circle cx="516.7" cy="331.3" r="3.35"/>
<circle cx="577.6" cy="330.8" r="3.35"/>
<circle cx="521.0" cy="340.9" r="3.35"/>
<circle cx="472.1" cy="336.3" r="3.35"/>
<circle cx="498.0" cy="332.0" r="3.35"/>
<circle cx="518.4" cy="273.3" r="3.35"/>
<circle cx="565.5" cy="324.6" r="3.35"/>
<circle cx="556.6" cy="314.0" r="3.35"/>
<circle cx="474.3" cy="307.5" r="3.35"/>
<circle cx="517.5" cy="223.5" r="3.35"/>
<circle cx="486.1" cy="285.6" r="3.35"/>
<circle cx="624.4" cy="330.7" r="3.35"/>
<circle cx="484.6" cy="332.3" r="3.35"/>
<circle cx="588.4" cy="335.8" r="3.35"/>
<circle cx="480.6" cy="251.3" r="3.35"/>
<circle cx="501.4" cy="291.2" r="3.35"/>
<circle cx="475.5" cy="328.0" r="3.35"/>
<circle cx="553.1" cy="310.5" r="3.35"/>
<circle cx="507.3" cy="320.3" r="3.35"/>
<circle cx="548.9" cy="317.7" r="3.35"/>
<circle cx="594.6" cy="328.8" r="3.35"/>
<circle cx="515.6" cy="263.8" r="3.35"/>
<circle cx="501.1" cy="308.7" r="3.35"/>
<circle cx="563.8" cy="322.3" r="3.35"/>
<circle cx="567.5" cy="310.5" r="3.35"/>
<circle cx="491.5" cy="305.0" r="3.35"/>
<circle cx="502.5" cy="245.0" r="3.35"/>
<circle cx="548.1" cy="306.8" r="3.35"/>
<circle cx="638.4" cy="329.5" r="3.35"/>
<circle cx="516.9" cy="316.5" r="3.35"/>
<circle cx="572.3" cy="341.0" r="3.35"/>
<circle cx="508.7" cy="326.6" r="3.35"/>
<circle cx="613.7" cy="331.8" r="3.35"/>
<circle cx="511.9" cy="253.9" r="3.35"/>
<circle cx="486.4" cy="335.7" r="3.35"/>
<circle cx="503.9" cy="303.9" r="3.35"/>
<circle cx="515.3" cy="340.2" r="3.35"/>
<circle cx="488.0" cy="316.0" r="3.35"/>
<circle cx="500.7" cy="250.4" r="3.35"/>
<circle cx="496.9" cy="284.3" r="3.35"/>
<circle cx="570.0" cy="323.1" r="3.35"/>
<circle cx="560.6" cy="278.0" r="3.35"/>
<circle cx="509.4" cy="302.0" r="3.35"/>
<circle cx="514.5" cy="271.1" r="3.35"/>
<circle cx="494.3" cy="336.8" r="3.35"/>
<circle cx="488.3" cy="309.1" r="3.35"/>
<circle cx="496.0" cy="293.0" r="3.35"/>
<circle cx="490.2" cy="333.4" r="3.35"/>
<circle cx="561.0" cy="331.8" r="3.35"/>
<circle cx="477.4" cy="283.2" r="3.35"/>
<circle cx="497.9" cy="297.4" r="3.35"/>
<circle cx="557.6" cy="331.6" r="3.35"/>
<circle cx="487.1" cy="300.5" r="3.35"/>
<circle cx="506.0" cy="268.6" r="3.35"/>
<circle cx="500.9" cy="341.1" r="3.35"/>
<circle cx="497.5" cy="251.9" r="3.35"/>
<circle cx="499.7" cy="297.3" r="3.35"/>
<circle cx="619.4" cy="250.5" r="3.35"/>
<circle cx="616.3" cy="340.7" r="3.35"/>
<circle cx="479.8" cy="317.2" r="3.35"/>
<circle cx="536.8" cy="340.3" r="3.35"/>
<circle cx="517.1" cy="298.9" r="3.35"/>
<circle cx="542.5" cy="310.4" r="3.35"/>
<circle cx="562.9" cy="329.2" r="3.35"/>
<circle cx="501.9" cy="319.0" r="3.35"/>
<circle cx="520.5" cy="331.7" r="3.35"/>
<circle cx="532.7" cy="320.6" r="3.35"/>
<circle cx="515.7" cy="316.3" r="3.35"/>
<circle cx="474.7" cy="258.5" r="3.35"/>
<circle cx="488.7" cy="333.6" r="3.35"/>
<circle cx="544.8" cy="332.6" r="3.35"/>
<circle cx="485.5" cy="329.0" r="3.35"/>
<circle cx="525.8" cy="341.0" r="3.35"/>
<circle cx="491.3" cy="271.9" r="3.35"/>
<circle cx="498.5" cy="297.6" r="3.35"/>
<circle cx="518.4" cy="320.8" r="3.35"/>
<circle cx="489.4" cy="335.1" r="3.35"/>
<circle cx="531.3" cy="340.2" r="3.35"/>
<circle cx="507.3" cy="271.8" r="3.35"/>
<circle cx="481.1" cy="341.2" r="3.35"/>
<circle cx="643.2" cy="325.3" r="3.35"/>
<circle cx="500.9" cy="322.4" r="3.35"/>
<circle cx="554.3" cy="332.7" r="3.35"/>
<circle cx="466.8" cy="321.4" r="3.35"/>
<circle cx="486.6" cy="293.5" r="3.35"/>
<circle cx="522.5" cy="306.9" r="3.35"/>
<circle cx="580.2" cy="327.6" r="3.35"/>
<circle cx="574.7" cy="315.3" r="3.35"/>
<circle cx="473.6" cy="285.8" r="3.35"/>
<circle cx="603.5" cy="321.0" r="3.35"/>
<circle cx="621.0" cy="306.7" r="3.35"/>
<circle cx="528.4" cy="325.9" r="3.35"/>
<circle cx="471.1" cy="327.0" r="3.35"/>
<circle cx="471.6" cy="299.5" r="3.35"/>
<circle cx="471.5" cy="333.9" r="3.35"/>
<circle cx="543.8" cy="339.0" r="3.35"/>
<circle cx="518.3" cy="321.5" r="3.35"/>
<circle cx="608.6" cy="334.1" r="3.35"/>
<circle cx="614.5" cy="173.7" r="3.35"/>
<circle cx="588.3" cy="335.3" r="3.35"/>
<circle cx="477.9" cy="288.2" r="3.35"/>
<circle cx="588.6" cy="331.6" r="3.35"/>
<circle cx="690.7" cy="324.5" r="3.35"/>
<circle cx="472.2" cy="310.6" r="3.35"/>
<circle cx="501.4" cy="300.7" r="3.35"/>
<circle cx="473.0" cy="293.2" r="3.35"/>
<circle cx="503.0" cy="255.3" r="3.35"/>
<circle cx="472.8" cy="324.2" r="3.35"/>
<circle cx="537.8" cy="336.3" r="3.35"/>
<circle cx="517.8" cy="303.1" r="3.35"/>
<circle cx="528.9" cy="309.5" r="3.35"/>
<circle cx="505.7" cy="292.3" r="3.35"/>
<circle cx="694.5" cy="340.9" r="3.35"/>
<circle cx="481.3" cy="309.8" r="3.35"/>
<circle cx="546.8" cy="340.9" r="3.35"/>
<circle cx="595.4" cy="322.9" r="3.35"/>
<circle cx="493.1" cy="292.8" r="3.35"/>
<circle cx="541.1" cy="318.0" r="3.35"/>
<circle cx="628.9" cy="336.5" r="3.35"/>
<circle cx="547.2" cy="311.0" r="3.35"/>
<circle cx="526.5" cy="299.9" r="3.35"/>
<circle cx="773.3" cy="340.9" r="3.35"/>
<circle cx="479.6" cy="331.9" r="3.35"/>
<circle cx="507.1" cy="313.5" r="3.35"/>
<circle cx="500.1" cy="312.4" r="3.35"/>
<circle cx="467.3" cy="322.3" r="3.35"/>
<circle cx="520.7" cy="310.4" r="3.35"/>
<circle cx="552.8" cy="340.9" r="3.35"/>
<circle cx="611.7" cy="339.0" r="3.35"/>
<circle cx="480.0" cy="341.4" r="3.35"/>
<circle cx="537.5" cy="278.6" r="3.35"/>
<circle cx="486.5" cy="305.9" r="3.35"/>
<circle cx="473.1" cy="315.7" r="3.35"/>
<circle cx="487.0" cy="252.2" r="3.35"/>
<circle cx="482.8" cy="258.3" r="3.35"/>
<circle cx="610.9" cy="340.9" r="3.35"/>
<circle cx="505.4" cy="341.4" r="3.35"/>
<circle cx="494.4" cy="313.1" r="3.35"/>
<circle cx="497.9" cy="323.4" r="3.35"/>
<circle cx="626.1" cy="326.5" r="3.35"/>
<circle cx="481.4" cy="333.8" r="3.35"/>
<circle cx="508.0" cy="315.4" r="3.35"/>
<circle cx="620.3" cy="330.8" r="3.35"/>
<circle cx="607.4" cy="323.8" r="3.35"/>
<circle cx="478.3" cy="308.9" r="3.35"/>
<circle cx="480.2" cy="264.7" r="3.35"/>
<circle cx="592.1" cy="332.5" r="3.35"/>
<circle cx="592.6" cy="328.0" r="3.35"/>
<circle cx="505.6" cy="265.6" r="3.35"/>
<circle cx="492.1" cy="253.1" r="3.35"/>
<circle cx="564.3" cy="319.4" r="3.35"/>
<circle cx="578.1" cy="341.4" r="3.35"/>
<circle cx="569.7" cy="336.7" r="3.35"/>
<circle cx="465.8" cy="321.8" r="3.35"/>
<circle cx="555.6" cy="341.2" r="3.35"/>
<circle cx="531.6" cy="323.9" r="3.35"/>
<circle cx="468.7" cy="279.0" r="3.35"/>
<circle cx="468.8" cy="306.5" r="3.35"/>
<circle cx="568.7" cy="314.9" r="3.35"/>
<circle cx="547.5" cy="323.3" r="3.35"/>
<circle cx="500.8" cy="292.0" r="3.35"/>
<circle cx="543.1" cy="299.3" r="3.35"/>
<circle cx="491.0" cy="299.7" r="3.35"/>
<circle cx="595.6" cy="260.0" r="3.35"/>
<circle cx="511.3" cy="337.9" r="3.35"/>
<circle cx="513.1" cy="233.1" r="3.35"/>
<circle cx="504.9" cy="251.0" r="3.35"/>
<circle cx="505.1" cy="311.4" r="3.35"/>
<circle cx="598.0" cy="331.6" r="3.35"/>
<circle cx="534.3" cy="332.3" r="3.35"/>
<circle cx="524.5" cy="324.9" r="3.35"/>
<circle cx="471.2" cy="326.6" r="3.35"/>
<circle cx="610.4" cy="314.9" r="3.35"/>
<circle cx="495.2" cy="337.4" r="3.35"/>
<circle cx="519.1" cy="326.3" r="3.35"/>
<circle cx="633.7" cy="340.9" r="3.35"/>
<circle cx="486.3" cy="297.6" r="3.35"/>
<circle cx="580.0" cy="327.6" r="3.35"/>
<circle cx="472.7" cy="273.7" r="3.35"/>
<circle cx="508.0" cy="312.4" r="3.35"/>
<circle cx="507.7" cy="340.7" r="3.35"/>
<circle cx="541.7" cy="340.7" r="3.35"/>
<circle cx="496.3" cy="258.1" r="3.35"/>
<circle cx="491.0" cy="318.5" r="3.35"/>
<circle cx="592.1" cy="337.1" r="3.35"/>
<circle cx="501.0" cy="329.8" r="3.35"/>
<circle cx="593.4" cy="323.9" r="3.35"/>
<circle cx="483.9" cy="290.1" r="3.35"/>
<circle cx="484.6" cy="254.0" r="3.35"/>
<circle cx="485.0" cy="329.1" r="3.35"/>
<circle cx="606.3" cy="322.9" r="3.35"/>
<circle cx="621.0" cy="316.1" r="3.35"/>
<circle cx="465.8" cy="310.5" r="3.35"/>
<circle cx="543.3" cy="321.2" r="3.35"/>
<circle cx="645.1" cy="318.8" r="3.35"/>
<circle cx="508.5" cy="237.3" r="3.35"/>
<circle cx="554.8" cy="335.0" r="3.35"/>
<circle cx="575.5" cy="339.8" r="3.35"/>
<circle cx="489.8" cy="292.9" r="3.35"/>
<circle cx="567.0" cy="315.3" r="3.35"/>
<circle cx="470.4" cy="305.9" r="3.35"/>
<circle cx="490.0" cy="259.4" r="3.35"/>
<circle cx="474.5" cy="333.3" r="3.35"/>
<circle cx="513.9" cy="330.5" r="3.35"/>
<circle cx="518.5" cy="267.8" r="3.35"/>
<circle cx="512.1" cy="286.5" r="3.35"/>
<circle cx="528.6" cy="323.1" r="3.35"/>
<circle cx="569.9" cy="341.2" r="3.35"/>
<circle cx="560.5" cy="341.2" r="3.35"/>
<circle cx="542.0" cy="333.2" r="3.35"/>
<circle cx="548.0" cy="324.5" r="3.35"/>
<circle cx="541.0" cy="339.9" r="3.35"/>
<circle cx="549.5" cy="341.4" r="3.35"/>
<circle cx="523.4" cy="297.3" r="3.35"/>
<circle cx="496.7" cy="281.1" r="3.35"/>
<circle cx="469.8" cy="323.2" r="3.35"/>
<circle cx="529.1" cy="334.3" r="3.35"/>
<circle cx="472.3" cy="290.7" r="3.35"/>
<circle cx="491.2" cy="300.2" r="3.35"/>
<circle cx="479.2" cy="315.9" r="3.35"/>
<circle cx="579.8" cy="336.3" r="3.35"/>
<circle cx="491.8" cy="286.0" r="3.35"/>
<circle cx="617.5" cy="331.8" r="3.35"/>
<circle cx="585.3" cy="319.3" r="3.35"/>
<circle cx="480.4" cy="258.1" r="3.35"/>
<circle cx="600.3" cy="320.9" r="3.35"/>
<circle cx="503.0" cy="340.9" r="3.35"/>
<circle cx="546.0" cy="336.1" r="3.35"/>
<circle cx="585.4" cy="317.4" r="3.35"/>
<circle cx="520.1" cy="321.0" r="3.35"/>
<circle cx="529.5" cy="170.9" r="3.35"/>
<circle cx="551.1" cy="330.2" r="3.35"/>
<circle cx="564.7" cy="339.4" r="3.35"/>
<circle cx="523.8" cy="319.5" r="3.35"/>
<circle cx="629.0" cy="324.5" r="3.35"/>
<circle cx="495.1" cy="341.3" r="3.35"/>
<circle cx="509.3" cy="302.8" r="3.35"/>
<circle cx="506.0" cy="302.9" r="3.35"/>
<circle cx="585.0" cy="341.1" r="3.35"/>
<circle cx="519.0" cy="236.5" r="3.35"/>
<circle cx="477.2" cy="289.8" r="3.35"/>
<circle cx="558.1" cy="135.2" r="3.35"/>
<circle cx="477.2" cy="340.7" r="3.35"/>
<circle cx="582.2" cy="311.2" r="3.35"/>
<circle cx="486.1" cy="249.6" r="3.35"/>
<circle cx="466.1" cy="297.4" r="3.35"/>
<circle cx="507.6" cy="321.1" r="3.35"/>
<circle cx="580.3" cy="335.0" r="3.35"/>
<circle cx="539.8" cy="313.6" r="3.35"/>
<circle cx="466.0" cy="341.4" r="3.35"/>
<circle cx="479.3" cy="301.9" r="3.35"/>
<circle cx="496.1" cy="255.4" r="3.35"/>
<circle cx="578.4" cy="338.4" r="3.35"/>
<circle cx="620.0" cy="340.8" r="3.35"/>
<circle cx="605.2" cy="316.6" r="3.35"/>
<circle cx="600.9" cy="319.9" r="3.35"/>
<circle cx="497.5" cy="300.8" r="3.35"/>
<circle cx="483.8" cy="313.7" r="3.35"/>
<circle cx="492.9" cy="299.6" r="3.35"/>
<circle cx="469.7" cy="296.5" r="3.35"/>
<circle cx="496.8" cy="320.4" r="3.35"/>
<circle cx="551.2" cy="335.6" r="3.35"/>
<circle cx="508.2" cy="310.2" r="3.35"/>
<circle cx="595.0" cy="318.9" r="3.35"/>
<circle cx="528.3" cy="336.8" r="3.35"/>
<circle cx="585.0" cy="333.3" r="3.35"/>
<circle cx="572.9" cy="340.2" r="3.35"/>
<circle cx="471.3" cy="297.7" r="3.35"/>
<circle cx="573.1" cy="329.4" r="3.35"/>
<circle cx="514.0" cy="298.0" r="3.35"/>
<circle cx="481.8" cy="328.0" r="3.35"/>
<circle cx="631.3" cy="332.7" r="3.35"/>
<circle cx="472.0" cy="304.9" r="3.35"/>
<circle cx="656.5" cy="307.4" r="3.35"/>
<circle cx="614.7" cy="326.2" r="3.35"/>
<circle cx="556.3" cy="305.5" r="3.35"/>
<circle cx="585.2" cy="310.8" r="3.35"/>
<circle cx="514.4" cy="262.4" r="3.35"/>
<circle cx="488.1" cy="331.6" r="3.35"/>
<circle cx="471.1" cy="337.2" r="3.35"/>
<circle cx="570.3" cy="301.5" r="3.35"/>
<circle cx="518.2" cy="308.0" r="3.35"/>
<circle cx="586.0" cy="298.0" r="3.35"/>
<circle cx="590.8" cy="340.9" r="3.35"/>
<circle cx="575.2" cy="319.9" r="3.35"/>
<circle cx="610.8" cy="329.8" r="3.35"/>
<circle cx="685.0" cy="330.2" r="3.35"/>
<circle cx="473.7" cy="290.6" r="3.35"/>
<circle cx="618.1" cy="340.9" r="3.35"/>
<circle cx="493.1" cy="312.4" r="3.35"/>
<circle cx="518.1" cy="211.3" r="3.35"/>
<circle cx="611.4" cy="340.9" r="3.35"/>
<circle cx="559.4" cy="341.4" r="3.35"/>
<circle cx="539.2" cy="316.8" r="3.35"/>
<circle cx="478.1" cy="297.6" r="3.35"/>
<circle cx="498.1" cy="270.1" r="3.35"/>
<circle cx="583.7" cy="320.5" r="3.35"/>
<circle cx="558.6" cy="339.5" r="3.35"/>
<circle cx="465.8" cy="308.7" r="3.35"/>
<circle cx="533.6" cy="337.2" r="3.35"/>
<circle cx="540.1" cy="317.4" r="3.35"/>
<circle cx="517.9" cy="319.2" r="3.35"/>
<circle cx="490.0" cy="292.0" r="3.35"/>
<circle cx="565.0" cy="338.4" r="3.35"/>
<circle cx="516.2" cy="331.0" r="3.35"/>
<circle cx="530.4" cy="308.0" r="3.35"/>
<circle cx="512.3" cy="306.8" r="3.35"/>
<circle cx="497.3" cy="263.3" r="3.35"/>
<circle cx="616.1" cy="321.8" r="3.35"/>
<circle cx="539.4" cy="318.8" r="3.35"/>
<circle cx="477.5" cy="305.3" r="3.35"/>
<circle cx="541.3" cy="316.3" r="3.35"/>
<circle cx="569.3" cy="335.3" r="3.35"/>
<circle cx="594.4" cy="303.0" r="3.35"/>
<circle cx="601.4" cy="335.3" r="3.35"/>
<circle cx="626.1" cy="323.8" r="3.35"/>
<circle cx="587.3" cy="331.2" r="3.35"/>
<circle cx="471.8" cy="309.0" r="3.35"/>
<circle cx="541.0" cy="282.0" r="3.35"/>
<circle cx="516.5" cy="229.0" r="3.35"/>
<circle cx="507.0" cy="330.9" r="3.35"/>
<circle cx="597.9" cy="340.1" r="3.35"/>
<circle cx="510.2" cy="295.0" r="3.35"/>
<circle cx="660.3" cy="340.9" r="3.35"/>
<circle cx="598.4" cy="331.1" r="3.35"/>
<circle cx="591.0" cy="319.5" r="3.35"/>
<circle cx="546.5" cy="330.9" r="3.35"/>
<circle cx="584.0" cy="336.0" r="3.35"/>
<circle cx="593.4" cy="318.5" r="3.35"/>
<circle cx="481.0" cy="327.9" r="3.35"/>
<circle cx="475.7" cy="325.0" r="3.35"/>
<circle cx="505.2" cy="325.1" r="3.35"/>
<circle cx="486.2" cy="327.4" r="3.35"/>
<circle cx="497.5" cy="271.3" r="3.35"/>
<circle cx="492.9" cy="329.8" r="3.35"/>
<circle cx="539.5" cy="318.1" r="3.35"/>
<circle cx="593.1" cy="322.4" r="3.35"/>
<circle cx="480.2" cy="282.1" r="3.35"/>
<circle cx="476.7" cy="257.5" r="3.35"/>
<circle cx="496.0" cy="252.6" r="3.35"/>
<circle cx="478.8" cy="323.5" r="3.35"/>
<circle cx="565.9" cy="341.4" r="3.35"/>
<circle cx="586.3" cy="337.4" r="3.35"/>
<circle cx="487.0" cy="340.8" r="3.35"/>
<circle cx="552.2" cy="314.4" r="3.35"/>
<circle cx="556.7" cy="327.6" r="3.35"/>
<circle cx="465.8" cy="340.4" r="3.35"/>
<circle cx="479.6" cy="341.4" r="3.35"/>
<circle cx="551.2" cy="339.7" r="3.35"/>
<circle cx="492.6" cy="290.7" r="3.35"/>
<circle cx="512.9" cy="285.8" r="3.35"/>
<circle cx="476.8" cy="304.3" r="3.35"/>
<circle cx="492.9" cy="320.2" r="3.35"/>
<circle cx="531.9" cy="341.2" r="3.35"/>
<circle cx="476.1" cy="336.1" r="3.35"/>
<circle cx="613.4" cy="327.0" r="3.35"/>
<circle cx="522.7" cy="319.8" r="3.35"/>
<circle cx="637.5" cy="334.6" r="3.35"/>
<circle cx="552.7" cy="337.5" r="3.35"/>
<circle cx="598.5" cy="257.3" r="3.35"/>
<circle cx="563.8" cy="317.8" r="3.35"/>
<circle cx="585.6" cy="306.8" r="3.35"/>
<circle cx="484.6" cy="320.5" r="3.35"/>
<circle cx="529.0" cy="341.4" r="3.35"/>
<circle cx="530.0" cy="310.4" r="3.35"/>
<circle cx="583.9" cy="320.9" r="3.35"/>
<circle cx="491.8" cy="313.7" r="3.35"/>
<circle cx="519.8" cy="329.8" r="3.35"/>
<circle cx="613.6" cy="339.3" r="3.35"/>
<circle cx="516.8" cy="263.6" r="3.35"/>
<circle cx="548.5" cy="336.6" r="3.35"/>
<circle cx="496.3" cy="263.5" r="3.35"/>
<circle cx="528.5" cy="322.9" r="3.35"/>
<circle cx="531.7" cy="319.0" r="3.35"/>
<circle cx="506.7" cy="311.5" r="3.35"/>
<circle cx="502.1" cy="255.9" r="3.35"/>
<circle cx="667.9" cy="319.6" r="3.35"/>
<circle cx="517.5" cy="295.8" r="3.35"/>
<circle cx="520.3" cy="307.1" r="3.35"/>
<circle cx="513.6" cy="338.7" r="3.35"/>
<circle cx="598.6" cy="322.4" r="3.35"/>
<circle cx="552.0" cy="314.0" r="3.35"/>
<circle cx="481.5" cy="297.0" r="3.35"/>
<circle cx="645.7" cy="310.5" r="3.35"/>
<circle cx="502.0" cy="320.2" r="3.35"/>
<circle cx="480.9" cy="340.8" r="3.35"/>
<circle cx="517.2" cy="274.7" r="3.35"/>
<circle cx="468.9" cy="296.3" r="3.35"/>
<circle cx="492.4" cy="327.2" r="3.35"/>
<circle cx="768.5" cy="340.9" r="3.35"/>
<circle cx="498.3" cy="309.7" r="3.35"/>
<circle cx="520.3" cy="324.8" r="3.35"/>
<circle cx="539.1" cy="315.7" r="3.35"/>
<circle cx="558.1" cy="243.8" r="3.35"/>
<circle cx="489.8" cy="330.8" r="3.35"/>
<circle cx="656.5" cy="269.1" r="3.35"/>
<circle cx="476.2" cy="274.2" r="3.35"/>
<circle cx="504.9" cy="294.8" r="3.35"/>
<circle cx="482.6" cy="288.4" r="3.35"/>
<circle cx="496.7" cy="341.1" r="3.35"/>
<circle cx="572.4" cy="327.8" r="3.35"/>
<circle cx="507.6" cy="336.9" r="3.35"/>
<circle cx="480.9" cy="315.8" r="3.35"/>
<circle cx="605.9" cy="329.1" r="3.35"/>
<circle cx="494.3" cy="338.5" r="3.35"/>
<circle cx="652.3" cy="326.1" r="3.35"/>
<circle cx="468.5" cy="282.4" r="3.35"/>
<circle cx="480.0" cy="299.6" r="3.35"/>
<circle cx="606.7" cy="303.3" r="3.35"/>
<circle cx="588.7" cy="334.4" r="3.35"/>
<circle cx="551.0" cy="341.0" r="3.35"/>
<circle cx="467.4" cy="326.0" r="3.35"/>
<circle cx="539.1" cy="312.3" r="3.35"/>
<circle cx="515.0" cy="297.2" r="3.35"/>
<circle cx="520.6" cy="267.5" r="3.35"/>
<circle cx="506.2" cy="326.4" r="3.35"/>
<circle cx="575.0" cy="316.8" r="3.35"/>
<circle cx="506.9" cy="247.8" r="3.35"/>
<circle cx="606.6" cy="341.2" r="3.35"/>
<circle cx="482.7" cy="304.7" r="3.35"/>
<circle cx="532.7" cy="319.8" r="3.35"/>
<circle cx="567.7" cy="332.7" r="3.35"/>
<circle cx="515.3" cy="303.0" r="3.35"/>
<circle cx="547.2" cy="316.4" r="3.35"/>
<circle cx="611.3" cy="308.4" r="3.35"/>
<circle cx="516.3" cy="321.5" r="3.35"/>
<circle cx="490.6" cy="319.4" r="3.35"/>
<circle cx="499.2" cy="310.7" r="3.35"/>
<circle cx="611.7" cy="333.3" r="3.35"/>
<circle cx="500.3" cy="333.3" r="3.35"/>
<circle cx="566.8" cy="321.6" r="3.35"/>
<circle cx="488.0" cy="329.5" r="3.35"/>
<circle cx="501.3" cy="296.6" r="3.35"/>
<circle cx="518.9" cy="312.2" r="3.35"/>
<circle cx="585.6" cy="331.7" r="3.35"/>
<circle cx="580.4" cy="334.5" r="3.35"/>
<circle cx="517.8" cy="320.5" r="3.35"/>
<circle cx="503.0" cy="314.7" r="3.35"/>
<circle cx="478.2" cy="291.5" r="3.35"/>
<circle cx="502.5" cy="338.2" r="3.35"/>
<circle cx="480.6" cy="301.7" r="3.35"/>
<circle cx="467.1" cy="300.0" r="3.35"/>
<circle cx="531.5" cy="341.4" r="3.35"/>
<circle cx="498.7" cy="292.2" r="3.35"/>
<circle cx="492.9" cy="265.6" r="3.35"/>
<circle cx="609.0" cy="296.6" r="3.35"/>
<circle cx="635.2" cy="333.2" r="3.35"/>
<circle cx="468.0" cy="341.4" r="3.35"/>
<circle cx="610.4" cy="178.5" r="3.35"/>
<circle cx="531.6" cy="339.4" r="3.35"/>
<circle cx="487.7" cy="335.6" r="3.35"/>
<circle cx="512.3" cy="286.1" r="3.35"/>
<circle cx="520.9" cy="312.3" r="3.35"/>
<circle cx="527.8" cy="326.3" r="3.35"/>
<circle cx="540.8" cy="315.3" r="3.35"/>
<circle cx="486.3" cy="272.5" r="3.35"/>
<circle cx="471.6" cy="312.0" r="3.35"/>
<circle cx="502.7" cy="311.8" r="3.35"/>
<circle cx="535.2" cy="332.0" r="3.35"/>
<circle cx="538.2" cy="302.0" r="3.35"/>
<circle cx="498.3" cy="291.9" r="3.35"/>
<circle cx="588.5" cy="321.1" r="3.35"/>
<circle cx="511.3" cy="314.8" r="3.35"/>
<circle cx="526.9" cy="337.1" r="3.35"/>
<circle cx="553.4" cy="325.9" r="3.35"/>
<circle cx="609.0" cy="326.1" r="3.35"/>
<circle cx="512.5" cy="322.1" r="3.35"/>
<circle cx="616.8" cy="331.3" r="3.35"/>
<circle cx="477.6" cy="283.6" r="3.35"/>
<circle cx="524.3" cy="300.7" r="3.35"/>
<circle cx="496.4" cy="303.4" r="3.35"/>
<circle cx="489.7" cy="326.3" r="3.35"/>
<circle cx="520.5" cy="195.5" r="3.35"/>
<circle cx="520.0" cy="280.3" r="3.35"/>
<circle cx="594.2" cy="303.3" r="3.35"/>
<circle cx="592.9" cy="319.8" r="3.35"/>
<circle cx="479.0" cy="290.9" r="3.35"/>
<circle cx="540.5" cy="313.0" r="3.35"/>
<circle cx="467.0" cy="341.1" r="3.35"/>
<circle cx="501.3" cy="319.9" r="3.35"/>
<circle cx="605.0" cy="303.0" r="3.35"/>
<circle cx="482.9" cy="341.2" r="3.35"/>
<circle cx="533.9" cy="324.7" r="3.35"/>
<circle cx="556.6" cy="125.3" r="3.35"/>
<circle cx="542.1" cy="329.3" r="3.35"/>
<circle cx="508.5" cy="324.3" r="3.35"/>
<circle cx="595.6" cy="139.0" r="3.35"/>
<circle cx="624.9" cy="341.1" r="3.35"/>
<circle cx="498.3" cy="274.0" r="3.35"/>
<circle cx="513.5" cy="313.3" r="3.35"/>
<circle cx="503.7" cy="316.5" r="3.35"/>
<circle cx="509.9" cy="337.6" r="3.35"/>
<circle cx="471.2" cy="326.1" r="3.35"/>
<circle cx="483.2" cy="312.7" r="3.35"/>
<circle cx="468.5" cy="270.3" r="3.35"/>
<circle cx="512.9" cy="340.9" r="3.35"/>
<circle cx="477.5" cy="276.8" r="3.35"/>
<circle cx="509.3" cy="328.7" r="3.35"/>
<circle cx="509.0" cy="258.8" r="3.35"/>
<circle cx="581.1" cy="322.7" r="3.35"/>
<circle cx="583.8" cy="270.6" r="3.35"/>
<circle cx="512.8" cy="317.5" r="3.35"/>
<circle cx="524.1" cy="297.6" r="3.35"/>
<circle cx="569.0" cy="330.5" r="3.35"/>
<circle cx="472.0" cy="341.4" r="3.35"/>
<circle cx="585.0" cy="307.0" r="3.35"/>
<circle cx="631.5" cy="330.3" r="3.35"/>
<circle cx="503.5" cy="241.3" r="3.35"/>
<circle cx="470.5" cy="331.0" r="3.35"/>
<circle cx="515.6" cy="323.9" r="3.35"/>
<circle cx="541.9" cy="255.9" r="3.35"/>
<circle cx="485.2" cy="299.4" r="3.35"/>
<circle cx="594.9" cy="317.7" r="3.35"/>
<circle cx="557.2" cy="158.1" r="3.35"/>
<circle cx="487.1" cy="291.5" r="3.35"/>
<circle cx="591.9" cy="309.0" r="3.35"/>
<circle cx="474.8" cy="294.6" r="3.35"/>
<circle cx="535.3" cy="337.2" r="3.35"/>
<circle cx="588.5" cy="323.3" r="3.35"/>
<circle cx="504.7" cy="296.5" r="3.35"/>
<circle cx="589.8" cy="332.8" r="3.35"/>
<circle cx="491.9" cy="268.8" r="3.35"/>
<circle cx="599.8" cy="341.2" r="3.35"/>
<circle cx="474.9" cy="299.5" r="3.35"/>
<circle cx="597.7" cy="332.0" r="3.35"/>
<circle cx="545.1" cy="311.5" r="3.35"/>
<circle cx="517.1" cy="213.8" r="3.35"/>
<circle cx="525.9" cy="319.4" r="3.35"/>
<circle cx="488.4" cy="306.9" r="3.35"/>
<circle cx="595.6" cy="319.1" r="3.35"/>
<circle cx="496.0" cy="297.5" r="3.35"/>
<circle cx="489.2" cy="290.1" r="3.35"/>
<circle cx="544.1" cy="319.1" r="3.35"/>
<circle cx="559.8" cy="239.4" r="3.35"/>
<circle cx="512.9" cy="258.9" r="3.35"/>
<circle cx="554.3" cy="314.9" r="3.35"/>
<circle cx="548.2" cy="312.1" r="3.35"/>
<circle cx="607.7" cy="338.2" r="3.35"/>
<circle cx="469.0" cy="328.3" r="3.35"/>
<circle cx="508.3" cy="330.5" r="3.35"/>
<circle cx="513.5" cy="335.7" r="3.35"/>
<circle cx="532.9" cy="319.8" r="3.35"/>
<circle cx="591.9" cy="309.0" r="3.35"/>
<circle cx="469.3" cy="334.2" r="3.35"/>
<circle cx="530.4" cy="314.3" r="3.35"/>
<circle cx="517.6" cy="315.2" r="3.35"/>
<circle cx="487.5" cy="279.6" r="3.35"/>
<circle cx="501.5" cy="288.1" r="3.35"/>
<circle cx="509.8" cy="280.8" r="3.35"/>
<circle cx="479.1" cy="286.2" r="3.35"/>
<circle cx="545.9" cy="316.0" r="3.35"/>
<circle cx="498.7" cy="270.0" r="3.35"/>
<circle cx="492.6" cy="296.2" r="3.35"/>
<circle cx="476.4" cy="292.1" r="3.35"/>
<circle cx="519.0" cy="303.4" r="3.35"/>
<circle cx="528.5" cy="329.0" r="3.35"/>
<circle cx="577.1" cy="321.0" r="3.35"/>
<circle cx="476.5" cy="284.0" r="3.35"/>
<circle cx="598.8" cy="257.5" r="3.35"/>
<circle cx="586.7" cy="329.3" r="3.35"/>
<circle cx="518.5" cy="325.3" r="3.35"/>
<circle cx="554.5" cy="328.4" r="3.35"/>
<circle cx="475.5" cy="292.7" r="3.35"/>
<circle cx="477.5" cy="339.2" r="3.35"/>
<circle cx="528.5" cy="316.0" r="3.35"/>
<circle cx="499.3" cy="302.4" r="3.35"/>
<circle cx="469.9" cy="270.5" r="3.35"/>
<circle cx="472.0" cy="307.9" r="3.35"/>
<circle cx="503.5" cy="255.4" r="3.35"/>
<circle cx="509.0" cy="291.6" r="3.35"/>
<circle cx="537.2" cy="341.0" r="3.35"/>
<circle cx="515.0" cy="237.5" r="3.35"/>
<circle cx="498.3" cy="294.4" r="3.35"/>
<circle cx="465.8" cy="288.1" r="3.35"/>
<circle cx="492.1" cy="294.5" r="3.35"/>
<circle cx="490.7" cy="334.1" r="3.35"/>
<circle cx="511.2" cy="341.4" r="3.35"/>
<circle cx="554.9" cy="323.2" r="3.35"/>
<circle cx="604.4" cy="253.8" r="3.35"/>
<circle cx="507.0" cy="254.5" r="3.35"/>
<circle cx="590.2" cy="317.0" r="3.35"/>
<circle cx="485.6" cy="290.8" r="3.35"/>
<circle cx="611.3" cy="315.7" r="3.35"/>
<circle cx="574.8" cy="341.0" r="3.35"/>
<circle cx="499.5" cy="281.2" r="3.35"/>
<circle cx="470.8" cy="275.7" r="3.35"/>
<circle cx="510.3" cy="276.4" r="3.35"/>
<circle cx="674.3" cy="275.5" r="3.35"/>
<circle cx="541.4" cy="322.5" r="3.35"/>
<circle cx="469.8" cy="297.7" r="3.35"/>
<circle cx="479.9" cy="291.1" r="3.35"/>
<circle cx="605.7" cy="339.5" r="3.35"/>
<circle cx="496.0" cy="292.0" r="3.35"/>
<circle cx="511.3" cy="302.8" r="3.35"/>
<circle cx="514.7" cy="294.5" r="3.35"/>
<circle cx="476.1" cy="332.7" r="3.35"/>
<circle cx="511.7" cy="299.8" r="3.35"/>
<circle cx="491.9" cy="244.6" r="3.35"/>
<circle cx="602.6" cy="323.6" r="3.35"/>
<circle cx="521.2" cy="319.4" r="3.35"/>
<circle cx="504.9" cy="303.0" r="3.35"/>
<circle cx="560.6" cy="258.4" r="3.35"/>
<circle cx="466.4" cy="268.8" r="3.35"/>
<circle cx="637.4" cy="341.4" r="3.35"/>
<circle cx="487.5" cy="304.2" r="3.35"/>
<circle cx="593.0" cy="331.0" r="3.35"/>
<circle cx="479.6" cy="275.5" r="3.35"/>
<circle cx="470.6" cy="306.1" r="3.35"/>
<circle cx="470.1" cy="303.0" r="3.35"/>
<circle cx="594.5" cy="335.6" r="3.35"/>
<circle cx="482.2" cy="290.9" r="3.35"/>
<circle cx="507.3" cy="291.3" r="3.35"/>
<circle cx="556.7" cy="318.8" r="3.35"/>
<circle cx="607.5" cy="331.2" r="3.35"/>
<circle cx="538.5" cy="341.4" r="3.35"/>
<circle cx="622.0" cy="320.0" r="3.35"/>
<circle cx="517.1" cy="304.9" r="3.35"/>
<circle cx="567.8" cy="333.9" r="3.35"/>
<circle cx="623.1" cy="336.9" r="3.35"/>
<circle cx="514.8" cy="169.3" r="3.35"/>
<circle cx="586.0" cy="341.1" r="3.35"/>
<circle cx="526.8" cy="323.8" r="3.35"/>
<circle cx="543.4" cy="335.7" r="3.35"/>
<circle cx="589.0" cy="339.1" r="3.35"/>
<circle cx="549.3" cy="336.8" r="3.35"/>
<circle cx="582.7" cy="317.6" r="3.35"/>
<circle cx="497.8" cy="268.9" r="3.35"/>
<circle cx="476.1" cy="319.0" r="3.35"/>
<circle cx="523.0" cy="317.4" r="3.35"/>
<circle cx="539.4" cy="265.6" r="3.35"/>
<circle cx="468.4" cy="339.2" r="3.35"/>
<circle cx="478.7" cy="307.2" r="3.35"/>
<circle cx="647.9" cy="318.8" r="3.35"/>
<circle cx="605.6" cy="254.3" r="3.35"/>
<circle cx="580.6" cy="340.7" r="3.35"/>
<circle cx="490.7" cy="313.1" r="3.35"/>
<circle cx="518.0" cy="334.1" r="3.35"/>
<circle cx="516.4" cy="283.8" r="3.35"/>
<circle cx="520.1" cy="285.8" r="3.35"/>
<circle cx="602.3" cy="316.0" r="3.35"/>
<circle cx="479.8" cy="339.0" r="3.35"/>
<circle cx="603.8" cy="323.2" r="3.35"/>
<circle cx="595.6" cy="341.1" r="3.35"/>
<circle cx="481.1" cy="298.3" r="3.35"/>
<circle cx="487.0" cy="252.2" r="3.35"/>
<circle cx="588.1" cy="317.9" r="3.35"/>
<circle cx="562.6" cy="337.4" r="3.35"/>
<circle cx="512.6" cy="255.3" r="3.35"/>
<circle cx="626.1" cy="333.7" r="3.35"/>
<circle cx="552.5" cy="263.1" r="3.35"/>
<circle cx="480.9" cy="321.5" r="3.35"/>
<circle cx="536.7" cy="316.5" r="3.35"/>
<circle cx="467.2" cy="297.1" r="3.35"/>
<circle cx="465.8" cy="292.5" r="3.35"/>
<circle cx="553.6" cy="339.1" r="3.35"/>
<circle cx="505.1" cy="307.6" r="3.35"/>
<circle cx="489.9" cy="327.2" r="3.35"/>
<circle cx="612.4" cy="305.7" r="3.35"/>
<circle cx="597.5" cy="337.9" r="3.35"/>
<circle cx="467.3" cy="66.4" r="3.35"/>
<circle cx="507.9" cy="306.4" r="3.35"/>
<circle cx="507.2" cy="293.5" r="3.35"/>
<circle cx="491.8" cy="340.8" r="3.35"/>
<circle cx="590.3" cy="322.2" r="3.35"/>
<circle cx="517.1" cy="324.2" r="3.35"/>
<circle cx="522.5" cy="300.6" r="3.35"/>
<circle cx="534.7" cy="309.5" r="3.35"/>
<circle cx="592.8" cy="336.5" r="3.35"/>
<circle cx="532.8" cy="298.0" r="3.35"/>
<circle cx="480.1" cy="305.3" r="3.35"/>
<circle cx="534.1" cy="305.2" r="3.35"/>
<circle cx="601.4" cy="316.6" r="3.35"/>
<circle cx="534.0" cy="321.2" r="3.35"/>
<circle cx="601.6" cy="326.7" r="3.35"/>
<circle cx="532.3" cy="300.9" r="3.35"/>
<circle cx="512.5" cy="279.9" r="3.35"/>
<circle cx="576.9" cy="314.0" r="3.35"/>
<circle cx="483.3" cy="254.7" r="3.35"/>
<circle cx="540.6" cy="340.8" r="3.35"/>
<circle cx="562.1" cy="334.5" r="3.35"/>
<circle cx="545.0" cy="327.9" r="3.35"/>
<circle cx="469.1" cy="251.9" r="3.35"/>
<circle cx="492.3" cy="273.7" r="3.35"/>
<circle cx="510.8" cy="327.7" r="3.35"/>
<circle cx="481.3" cy="269.8" r="3.35"/>
<circle cx="560.5" cy="332.0" r="3.35"/>
<circle cx="549.4" cy="337.5" r="3.35"/>
<circle cx="515.6" cy="328.3" r="3.35"/>
<circle cx="488.5" cy="259.4" r="3.35"/>
<circle cx="510.8" cy="325.1" r="3.35"/>
<circle cx="494.5" cy="267.6" r="3.35"/>
<circle cx="519.2" cy="302.8" r="3.35"/>
<circle cx="553.7" cy="316.3" r="3.35"/>
<circle cx="494.7" cy="265.9" r="3.35"/>
<circle cx="498.4" cy="302.8" r="3.35"/>
<circle cx="593.2" cy="328.0" r="3.35"/>
<circle cx="608.8" cy="333.8" r="3.35"/>
<circle cx="477.5" cy="298.9" r="3.35"/>
<circle cx="510.3" cy="257.6" r="3.35"/>
<circle cx="520.0" cy="273.8" r="3.35"/>
<circle cx="476.3" cy="266.5" r="3.35"/>
<circle cx="498.2" cy="256.6" r="3.35"/>
<circle cx="620.4" cy="323.8" r="3.35"/>
<circle cx="527.2" cy="191.4" r="3.35"/>
<circle cx="483.9" cy="334.1" r="3.35"/>
<circle cx="535.9" cy="319.4" r="3.35"/>
<circle cx="583.6" cy="336.9" r="3.35"/>
<circle cx="568.3" cy="325.5" r="3.35"/>
<circle cx="471.1" cy="320.1" r="3.35"/>
<circle cx="545.0" cy="293.0" r="3.35"/>
<circle cx="474.7" cy="278.0" r="3.35"/>
<circle cx="478.2" cy="294.7" r="3.35"/>
<circle cx="483.6" cy="255.8" r="3.35"/>
<circle cx="518.6" cy="287.6" r="3.35"/>
<circle cx="538.8" cy="256.9" r="3.35"/>
<circle cx="492.4" cy="326.7" r="3.35"/>
<circle cx="620.3" cy="324.0" r="3.35"/>
<circle cx="483.9" cy="288.5" r="3.35"/>
<circle cx="499.3" cy="299.2" r="3.35"/>
<circle cx="619.4" cy="215.9" r="3.35"/>
<circle cx="493.6" cy="262.0" r="3.35"/>
<circle cx="610.6" cy="319.3" r="3.35"/>
<circle cx="525.5" cy="341.4" r="3.35"/>
<circle cx="527.5" cy="316.8" r="3.35"/>
<circle cx="596.3" cy="326.6" r="3.35"/>
<circle cx="620.6" cy="322.9" r="3.35"/>
<circle cx="582.9" cy="338.4" r="3.35"/>
<circle cx="483.0" cy="276.6" r="3.35"/>
<circle cx="498.1" cy="285.6" r="3.35"/>
<circle cx="473.3" cy="341.1" r="3.35"/>
<circle cx="584.4" cy="334.9" r="3.35"/>
<circle cx="581.2" cy="314.2" r="3.35"/>
<circle cx="587.9" cy="320.8" r="3.35"/>
<circle cx="497.8" cy="331.1" r="3.35"/>
<circle cx="522.9" cy="335.8" r="3.35"/>
<circle cx="495.3" cy="239.6" r="3.35"/>
<circle cx="492.1" cy="291.6" r="3.35"/>
<circle cx="465.8" cy="324.5" r="3.35"/>
<circle cx="521.9" cy="339.9" r="3.35"/>
<circle cx="586.0" cy="310.2" r="3.35"/>
<circle cx="488.2" cy="304.1" r="3.35"/>
<circle cx="554.3" cy="327.5" r="3.35"/>
<circle cx="591.9" cy="341.4" r="3.35"/>
<circle cx="485.2" cy="292.4" r="3.35"/>
<circle cx="484.9" cy="320.4" r="3.35"/>
<circle cx="568.9" cy="315.6" r="3.35"/>
<circle cx="574.4" cy="333.9" r="3.35"/>
<circle cx="586.1" cy="339.7" r="3.35"/>
<circle cx="520.8" cy="308.7" r="3.35"/>
<circle cx="525.3" cy="320.9" r="3.35"/>
<circle cx="510.8" cy="270.2" r="3.35"/>
</g></g>
<rect x="450.40" y="52.60" width="338.30" height="302.10" fill="none" stroke="#222" stroke-width="1.1"/>
<line x1="466.00" y1="354.70" x2="466.00" y2="358.80" stroke="#000" stroke-width="0.85"/>
<text x="466.00" y="371.40" font-size="11.8" text-anchor="middle" textLength="6.93" lengthAdjust="spacingAndGlyphs">0</text>
<line x1="505.74" y1="354.70" x2="505.74" y2="358.80" stroke="#000" stroke-width="0.85"/>
<text x="505.74" y="371.40" font-size="11.8" text-anchor="middle" textLength="20.80" lengthAdjust="spacingAndGlyphs">200</text>
<line x1="545.48" y1="354.70" x2="545.48" y2="358.80" stroke="#000" stroke-width="0.85"/>
<text x="545.48" y="371.40" font-size="11.8" text-anchor="middle" textLength="20.80" lengthAdjust="spacingAndGlyphs">400</text>
<line x1="585.22" y1="354.70" x2="585.22" y2="358.80" stroke="#000" stroke-width="0.85"/>
<text x="585.22" y="371.40" font-size="11.8" text-anchor="middle" textLength="20.80" lengthAdjust="spacingAndGlyphs">600</text>
<line x1="624.96" y1="354.70" x2="624.96" y2="358.80" stroke="#000" stroke-width="0.85"/>
<text x="624.96" y="371.40" font-size="11.8" text-anchor="middle" textLength="20.80" lengthAdjust="spacingAndGlyphs">800</text>
<line x1="664.70" y1="354.70" x2="664.70" y2="358.80" stroke="#000" stroke-width="0.85"/>
<text x="664.70" y="371.40" font-size="11.8" text-anchor="middle" textLength="27.74" lengthAdjust="spacingAndGlyphs">1000</text>
<line x1="704.44" y1="354.70" x2="704.44" y2="358.80" stroke="#000" stroke-width="0.85"/>
<text x="704.44" y="371.40" font-size="11.8" text-anchor="middle" textLength="27.74" lengthAdjust="spacingAndGlyphs">1200</text>
<line x1="744.18" y1="354.70" x2="744.18" y2="358.80" stroke="#000" stroke-width="0.85"/>
<text x="744.18" y="371.40" font-size="11.8" text-anchor="middle" textLength="27.74" lengthAdjust="spacingAndGlyphs">1400</text>
<line x1="783.92" y1="354.70" x2="783.92" y2="358.80" stroke="#000" stroke-width="0.85"/>
<text x="783.92" y="371.40" font-size="11.8" text-anchor="middle" textLength="27.74" lengthAdjust="spacingAndGlyphs">1600</text>
<line x1="446.30" y1="341.20" x2="450.40" y2="341.20" stroke="#000" stroke-width="0.85"/>
<text x="441.70" y="345.70" font-size="11.8" text-anchor="end" textLength="6.93" lengthAdjust="spacingAndGlyphs">0</text>
<line x1="446.30" y1="282.53" x2="450.40" y2="282.53" stroke="#000" stroke-width="0.85"/>
<text x="441.70" y="287.03" font-size="11.8" text-anchor="end" textLength="20.80" lengthAdjust="spacingAndGlyphs">200</text>
<line x1="446.30" y1="223.86" x2="450.40" y2="223.86" stroke="#000" stroke-width="0.85"/>
<text x="441.70" y="228.36" font-size="11.8" text-anchor="end" textLength="20.80" lengthAdjust="spacingAndGlyphs">400</text>
<line x1="446.30" y1="165.19" x2="450.40" y2="165.19" stroke="#000" stroke-width="0.85"/>
<text x="441.70" y="169.69" font-size="11.8" text-anchor="end" textLength="20.80" lengthAdjust="spacingAndGlyphs">600</text>
<line x1="446.30" y1="106.52" x2="450.40" y2="106.52" stroke="#000" stroke-width="0.85"/>
<text x="441.70" y="111.02" font-size="11.8" text-anchor="end" textLength="20.80" lengthAdjust="spacingAndGlyphs">800</text>
<text x="619.55" y="387.60" font-size="11.8" text-anchor="middle" textLength="18.98" lengthAdjust="spacingAndGlyphs">lloc</text>
<g transform="translate(413.80,203.65) rotate(-90)"><text x="0.00" y="0.00" font-size="11.8" text-anchor="middle" textLength="56.34" lengthAdjust="spacingAndGlyphs">sr_density</text></g>
<text x="1023.65" y="11.20" font-size="14.2" text-anchor="middle" textLength="133.69" lengthAdjust="spacingAndGlyphs">SR Density vs CLOC</text>
<text x="1023.65" y="28.30" font-size="14.2" text-anchor="middle" textLength="92.54" lengthAdjust="spacingAndGlyphs">Pearson: 0.18</text>
<text x="1023.65" y="45.40" font-size="14.2" text-anchor="middle" textLength="107.91" lengthAdjust="spacingAndGlyphs">Spearman: 0.51</text>
<g clip-path="url(#c2)">

<g fill="#1f77b4" stroke="#fff" stroke-width="0.7">
<circle cx="875.4" cy="265.4" r="3.35"/>
<circle cx="891.1" cy="326.0" r="3.35"/>
<circle cx="888.6" cy="341.4" r="3.35"/>
<circle cx="869.8" cy="341.4" r="3.35"/>
<circle cx="872.9" cy="275.5" r="3.35"/>
<circle cx="879.7" cy="295.5" r="3.35"/>
<circle cx="876.1" cy="324.3" r="3.35"/>
<circle cx="878.7" cy="247.7" r="3.35"/>
<circle cx="875.6" cy="262.6" r="3.35"/>
<circle cx="880.1" cy="340.5" r="3.35"/>
<circle cx="884.6" cy="251.6" r="3.35"/>
<circle cx="884.7" cy="308.8" r="3.35"/>
<circle cx="879.5" cy="247.9" r="3.35"/>
<circle cx="894.5" cy="294.3" r="3.35"/>
<circle cx="900.5" cy="340.9" r="3.35"/>
<circle cx="893.8" cy="338.3" r="3.35"/>
<circle cx="882.2" cy="306.9" r="3.35"/>
<circle cx="881.3" cy="327.1" r="3.35"/>
<circle cx="872.5" cy="271.1" r="3.35"/>
<circle cx="879.8" cy="255.6" r="3.35"/>
<circle cx="881.5" cy="285.3" r="3.35"/>
<circle cx="908.1" cy="317.2" r="3.35"/>
<circle cx="913.0" cy="327.6" r="3.35"/>
<circle cx="871.9" cy="263.1" r="3.35"/>
<circle cx="873.2" cy="279.1" r="3.35"/>
<circle cx="886.3" cy="272.1" r="3.35"/>
<circle cx="889.9" cy="340.8" r="3.35"/>
<circle cx="909.1" cy="313.1" r="3.35"/>
<circle cx="903.3" cy="307.3" r="3.35"/>
<circle cx="872.0" cy="322.6" r="3.35"/>
<circle cx="889.7" cy="302.8" r="3.35"/>
<circle cx="898.6" cy="319.0" r="3.35"/>
<circle cx="878.8" cy="290.2" r="3.35"/>
<circle cx="878.2" cy="264.7" r="3.35"/>
<circle cx="873.9" cy="274.8" r="3.35"/>
<circle cx="904.9" cy="326.6" r="3.35"/>
<circle cx="877.3" cy="148.9" r="3.35"/>
<circle cx="885.6" cy="255.1" r="3.35"/>
<circle cx="889.6" cy="318.1" r="3.35"/>
<circle cx="870.3" cy="324.2" r="3.35"/>
<circle cx="879.5" cy="280.3" r="3.35"/>
<circle cx="872.8" cy="306.2" r="3.35"/>
<circle cx="879.7" cy="261.1" r="3.35"/>
<circle cx="874.1" cy="298.5" r="3.35"/>
<circle cx="905.2" cy="315.7" r="3.35"/>
<circle cx="871.8" cy="314.1" r="3.35"/>
<circle cx="886.2" cy="296.5" r="3.35"/>
<circle cx="1144.1" cy="341.0" r="3.35"/>
<circle cx="876.3" cy="134.0" r="3.35"/>
<circle cx="886.1" cy="270.6" r="3.35"/>
<circle cx="871.4" cy="261.5" r="3.35"/>
<circle cx="869.8" cy="321.7" r="3.35"/>
<circle cx="869.8" cy="285.2" r="3.35"/>
<circle cx="870.4" cy="253.9" r="3.35"/>
<circle cx="873.0" cy="302.0" r="3.35"/>
<circle cx="1029.2" cy="341.0" r="3.35"/>
<circle cx="869.9" cy="281.3" r="3.35"/>
<circle cx="896.8" cy="285.4" r="3.35"/>
<circle cx="870.1" cy="302.3" r="3.35"/>
<circle cx="870.1" cy="281.9" r="3.35"/>
<circle cx="877.6" cy="303.5" r="3.35"/>
<circle cx="909.6" cy="330.0" r="3.35"/>
<circle cx="908.5" cy="318.1" r="3.35"/>
<circle cx="882.5" cy="325.0" r="3.35"/>
<circle cx="880.1" cy="260.9" r="3.35"/>
<circle cx="878.8" cy="306.7" r="3.35"/>
<circle cx="885.3" cy="340.9" r="3.35"/>
<circle cx="871.9" cy="284.4" r="3.35"/>
<circle cx="901.4" cy="309.5" r="3.35"/>
<circle cx="896.5" cy="340.1" r="3.35"/>
<circle cx="888.0" cy="330.2" r="3.35"/>
<circle cx="876.7" cy="256.0" r="3.35"/>
<circle cx="893.7" cy="323.3" r="3.35"/>
<circle cx="884.7" cy="250.3" r="3.35"/>
<circle cx="892.2" cy="309.6" r="3.35"/>
<circle cx="906.5" cy="314.1" r="3.35"/>
<circle cx="885.4" cy="330.8" r="3.35"/>
<circle cx="907.5" cy="341.3" r="3.35"/>
<circle cx="910.2" cy="338.0" r="3.35"/>
<circle cx="881.2" cy="296.9" r="3.35"/>
<circle cx="869.8" cy="313.4" r="3.35"/>
<circle cx="881.8" cy="341.4" r="3.35"/>
<circle cx="1177.5" cy="341.0" r="3.35"/>
<circle cx="900.4" cy="316.2" r="3.35"/>
<circle cx="897.8" cy="314.2" r="3.35"/>
<circle cx="879.7" cy="288.9" r="3.35"/>
<circle cx="1075.6" cy="341.0" r="3.35"/>
<circle cx="872.6" cy="260.0" r="3.35"/>
<circle cx="896.2" cy="313.1" r="3.35"/>
<circle cx="909.7" cy="340.6" r="3.35"/>
<circle cx="903.7" cy="334.6" r="3.35"/>
<circle cx="870.2" cy="269.6" r="3.35"/>
<circle cx="874.0" cy="241.0" r="3.35"/>
<circle cx="877.4" cy="285.2" r="3.35"/>
<circle cx="873.0" cy="340.1" r="3.35"/>
<circle cx="875.5" cy="253.4" r="3.35"/>
<circle cx="896.8" cy="211.8" r="3.35"/>
<circle cx="882.0" cy="322.7" r="3.35"/>
<circle cx="869.9" cy="272.3" r="3.35"/>
<circle cx="885.9" cy="266.4" r="3.35"/>
<circle cx="895.7" cy="341.2" r="3.35"/>
<circle cx="894.4" cy="336.5" r="3.35"/>
<circle cx="877.7" cy="287.2" r="3.35"/>
<circle cx="869.8" cy="321.9" r="3.35"/>
<circle cx="915.4" cy="333.7" r="3.35"/>
<circle cx="872.8" cy="331.8" r="3.35"/>
<circle cx="876.1" cy="254.1" r="3.35"/>
<circle cx="894.7" cy="328.9" r="3.35"/>
<circle cx="878.5" cy="265.4" r="3.35"/>
<circle cx="896.4" cy="331.5" r="3.35"/>
<circle cx="890.0" cy="338.7" r="3.35"/>
<circle cx="911.9" cy="324.7" r="3.35"/>
<circle cx="896.8" cy="285.0" r="3.35"/>
<circle cx="871.9" cy="335.6" r="3.35"/>
<circle cx="905.4" cy="341.1" r="3.35"/>
<circle cx="876.9" cy="322.0" r="3.35"/>
<circle cx="880.4" cy="319.4" r="3.35"/>
<circle cx="910.8" cy="341.2" r="3.35"/>
<circle cx="922.4" cy="332.1" r="3.35"/>
<circle cx="908.3" cy="340.9" r="3.35"/>
<circle cx="871.0" cy="288.4" r="3.35"/>
<circle cx="869.8" cy="237.2" r="3.35"/>
<circle cx="883.8" cy="322.0" r="3.35"/>
<circle cx="990.2" cy="341.0" r="3.35"/>
<circle cx="900.6" cy="306.0" r="3.35"/>
<circle cx="882.5" cy="341.0" r="3.35"/>
<circle cx="892.2" cy="317.8" r="3.35"/>
<circle cx="869.8" cy="273.0" r="3.35"/>
<circle cx="876.1" cy="321.4" r="3.35"/>
<circle cx="869.8" cy="286.0" r="3.35"/>
<circle cx="885.1" cy="304.9" r="3.35"/>
<circle cx="873.5" cy="297.8" r="3.35"/>
<circle cx="878.2" cy="330.1" r="3.35"/>
<circle cx="874.8" cy="338.7" r="3.35"/>
<circle cx="884.8" cy="332.2" r="3.35"/>
<circle cx="911.7" cy="324.9" r="3.35"/>
<circle cx="880.6" cy="295.3" r="3.35"/>
<circle cx="869.8" cy="326.8" r="3.35"/>
<circle cx="871.9" cy="296.3" r="3.35"/>
<circle cx="877.0" cy="234.1" r="3.35"/>
<circle cx="881.4" cy="294.3" r="3.35"/>
<circle cx="869.8" cy="254.6" r="3.35"/>
<circle cx="883.9" cy="258.0" r="3.35"/>
<circle cx="878.6" cy="257.9" r="3.35"/>
<circle cx="875.6" cy="303.3" r="3.35"/>
<circle cx="892.5" cy="318.1" r="3.35"/>
<circle cx="900.1" cy="318.9" r="3.35"/>
<circle cx="918.8" cy="66.4" r="3.35"/>
<circle cx="903.8" cy="316.0" r="3.35"/>
<circle cx="884.9" cy="268.6" r="3.35"/>
<circle cx="903.4" cy="325.1" r="3.35"/>
<circle cx="882.0" cy="302.4" r="3.35"/>
<circle cx="872.4" cy="322.9" r="3.35"/>
<circle cx="877.8" cy="337.9" r="3.35"/>
<circle cx="882.7" cy="320.7" r="3.35"/>
<circle cx="869.8" cy="257.0" r="3.35"/>
<circle cx="885.7" cy="297.7" r="3.35"/>
<circle cx="902.1" cy="316.5" r="3.35"/>
<circle cx="933.6" cy="322.3" r="3.35"/>
<circle cx="888.1" cy="303.2" r="3.35"/>
<circle cx="915.5" cy="340.9" r="3.35"/>
<circle cx="893.0" cy="313.3" r="3.35"/>
<circle cx="884.6" cy="169.3" r="3.35"/>
<circle cx="885.3" cy="334.0" r="3.35"/>
<circle cx="894.5" cy="239.4" r="3.35"/>
<circle cx="878.2" cy="275.5" r="3.35"/>
<circle cx="874.4" cy="274.4" r="3.35"/>
<circle cx="882.6" cy="278.2" r="3.35"/>
<circle cx="896.8" cy="338.7" r="3.35"/>
<circle cx="877.3" cy="259.2" r="3.35"/>
<circle cx="892.2" cy="335.9" r="3.35"/>
<circle cx="910.0" cy="332.1" r="3.35"/>
<circle cx="901.5" cy="327.2" r="3.35"/>
<circle cx="879.6" cy="275.7" r="3.35"/>
<circle cx="878.0" cy="264.8" r="3.35"/>
<circle cx="888.7" cy="338.5" r="3.35"/>
<circle cx="909.0" cy="338.5" r="3.35"/>
<circle cx="891.1" cy="329.9" r="3.35"/>
<circle cx="891.3" cy="337.0" r="3.35"/>
<circle cx="878.4" cy="261.3" r="3.35"/>
<circle cx="910.6" cy="334.6" r="3.35"/>
<circle cx="896.5" cy="329.6" r="3.35"/>
<circle cx="879.5" cy="304.4" r="3.35"/>
<circle cx="875.5" cy="191.6" r="3.35"/>
<circle cx="900.1" cy="139.0" r="3.35"/>
<circle cx="901.2" cy="314.9" r="3.35"/>
<circle cx="901.9" cy="311.2" r="3.35"/>
<circle cx="879.7" cy="320.6" r="3.35"/>
<circle cx="897.3" cy="314.9" r="3.35"/>
<circle cx="889.6" cy="303.3" r="3.35"/>
<circle cx="884.3" cy="250.0" r="3.35"/>
<circle cx="872.4" cy="272.4" r="3.35"/>
<circle cx="908.0" cy="316.2" r="3.35"/>
<circle cx="872.6" cy="341.3" r="3.35"/>
<circle cx="914.8" cy="341.4" r="3.35"/>
<circle cx="901.0" cy="195.7" r="3.35"/>
<circle cx="873.1" cy="274.6" r="3.35"/>
<circle cx="886.0" cy="327.9" r="3.35"/>
<circle cx="891.8" cy="305.1" r="3.35"/>
<circle cx="911.4" cy="338.0" r="3.35"/>
<circle cx="869.8" cy="286.4" r="3.35"/>
<circle cx="885.5" cy="326.3" r="3.35"/>
<circle cx="885.5" cy="307.2" r="3.35"/>
<circle cx="906.6" cy="266.5" r="3.35"/>
<circle cx="885.1" cy="314.6" r="3.35"/>
<circle cx="876.3" cy="273.0" r="3.35"/>
<circle cx="902.4" cy="341.4" r="3.35"/>
<circle cx="909.1" cy="337.4" r="3.35"/>
<circle cx="882.4" cy="249.1" r="3.35"/>
<circle cx="884.7" cy="313.9" r="3.35"/>
<circle cx="1024.3" cy="341.0" r="3.35"/>
<circle cx="887.8" cy="326.1" r="3.35"/>
<circle cx="882.4" cy="316.2" r="3.35"/>
<circle cx="881.7" cy="263.9" r="3.35"/>
<circle cx="899.9" cy="317.6" r="3.35"/>
<circle cx="877.0" cy="174.4" r="3.35"/>
<circle cx="896.4" cy="300.0" r="3.35"/>
<circle cx="897.6" cy="339.8" r="3.35"/>
<circle cx="909.1" cy="341.4" r="3.35"/>
<circle cx="881.9" cy="290.5" r="3.35"/>
<circle cx="879.7" cy="250.0" r="3.35"/>
<circle cx="871.5" cy="337.4" r="3.35"/>
<circle cx="875.9" cy="300.7" r="3.35"/>
<circle cx="874.6" cy="265.1" r="3.35"/>
<circle cx="897.4" cy="309.3" r="3.35"/>
<circle cx="875.5" cy="223.0" r="3.35"/>
<circle cx="900.0" cy="333.1" r="3.35"/>
<circle cx="1061.1" cy="341.0" r="3.35"/>
<circle cx="876.0" cy="272.8" r="3.35"/>
<circle cx="874.4" cy="269.1" r="3.35"/>
<circle cx="871.0" cy="285.0" r="3.35"/>
<circle cx="882.7" cy="256.5" r="3.35"/>
<circle cx="902.3" cy="322.2" r="3.35"/>
<circle cx="1141.3" cy="341.0" r="3.35"/>
<circle cx="869.8" cy="248.7" r="3.35"/>
<circle cx="877.3" cy="244.4" r="3.35"/>
<circle cx="906.7" cy="281.4" r="3.35"/>
<circle cx="903.2" cy="338.7" r="3.35"/>
<circle cx="890.5" cy="301.4" r="3.35"/>
<circle cx="870.6" cy="321.1" r="3.35"/>
<circle cx="901.2" cy="338.9" r="3.35"/>
<circle cx="871.2" cy="249.6" r="3.35"/>
<circle cx="905.1" cy="336.9" r="3.35"/>
<circle cx="877.1" cy="301.4" r="3.35"/>
<circle cx="897.5" cy="333.6" r="3.35"/>
<circle cx="1095.1" cy="341.0" r="3.35"/>
<circle cx="904.9" cy="323.5" r="3.35"/>
<circle cx="875.3" cy="289.9" r="3.35"/>
<circle cx="905.8" cy="331.5" r="3.35"/>
<circle cx="888.4" cy="304.2" r="3.35"/>
<circle cx="895.5" cy="310.1" r="3.35"/>
<circle cx="899.3" cy="330.1" r="3.35"/>
<circle cx="883.1" cy="312.7" r="3.35"/>
<circle cx="875.4" cy="286.8" r="3.35"/>
<circle cx="881.3" cy="125.3" r="3.35"/>
<circle cx="892.1" cy="323.4" r="3.35"/>
<circle cx="885.1" cy="297.8" r="3.35"/>
<circle cx="915.3" cy="325.6" r="3.35"/>
<circle cx="894.4" cy="323.3" r="3.35"/>
<circle cx="889.4" cy="298.6" r="3.35"/>
<circle cx="880.3" cy="294.5" r="3.35"/>
<circle cx="890.3" cy="313.7" r="3.35"/>
<circle cx="874.5" cy="287.4" r="3.35"/>
<circle cx="871.3" cy="271.8" r="3.35"/>
<circle cx="903.6" cy="336.9" r="3.35"/>
<circle cx="899.2" cy="328.4" r="3.35"/>
<circle cx="872.6" cy="272.7" r="3.35"/>
<circle cx="878.4" cy="325.4" r="3.35"/>
<circle cx="876.1" cy="341.4" r="3.35"/>
<circle cx="910.2" cy="324.1" r="3.35"/>
<circle cx="882.4" cy="306.8" r="3.35"/>
<circle cx="883.0" cy="307.6" r="3.35"/>
<circle cx="888.2" cy="316.8" r="3.35"/>
<circle cx="871.8" cy="293.3" r="3.35"/>
<circle cx="877.3" cy="275.6" r="3.35"/>
<circle cx="900.9" cy="308.1" r="3.35"/>
<circle cx="874.0" cy="152.2" r="3.35"/>
<circle cx="874.5" cy="321.6" r="3.35"/>
<circle cx="903.1" cy="336.8" r="3.35"/>
<circle cx="877.2" cy="297.7" r="3.35"/>
<circle cx="882.7" cy="256.5" r="3.35"/>
<circle cx="882.0" cy="271.3" r="3.35"/>
<circle cx="884.3" cy="334.5" r="3.35"/>
<circle cx="875.1" cy="332.4" r="3.35"/>
<circle cx="945.2" cy="333.7" r="3.35"/>
<circle cx="911.5" cy="323.9" r="3.35"/>
<circle cx="881.8" cy="305.2" r="3.35"/>
<circle cx="878.8" cy="314.6" r="3.35"/>
<circle cx="877.3" cy="158.0" r="3.35"/>
<circle cx="875.6" cy="262.4" r="3.35"/>
<circle cx="880.6" cy="307.7" r="3.35"/>
<circle cx="1032.9" cy="341.0" r="3.35"/>
<circle cx="889.5" cy="338.7" r="3.35"/>
<circle cx="1071.9" cy="341.0" r="3.35"/>
<circle cx="911.6" cy="322.6" r="3.35"/>
<circle cx="874.6" cy="259.2" r="3.35"/>
<circle cx="877.5" cy="289.8" r="3.35"/>
<circle cx="870.9" cy="318.7" r="3.35"/>
<circle cx="1174.9" cy="341.0" r="3.35"/>
<circle cx="918.9" cy="341.2" r="3.35"/>
<circle cx="896.0" cy="312.2" r="3.35"/>
<circle cx="883.5" cy="300.8" r="3.35"/>
<circle cx="880.8" cy="276.7" r="3.35"/>
<circle cx="906.6" cy="281.2" r="3.35"/>
<circle cx="885.4" cy="173.7" r="3.35"/>
<circle cx="875.5" cy="96.8" r="3.35"/>
<circle cx="902.0" cy="314.5" r="3.35"/>
<circle cx="869.9" cy="336.6" r="3.35"/>
<circle cx="906.9" cy="312.8" r="3.35"/>
<circle cx="873.3" cy="246.2" r="3.35"/>
<circle cx="884.5" cy="337.2" r="3.35"/>
<circle cx="878.7" cy="282.3" r="3.35"/>
<circle cx="869.8" cy="294.0" r="3.35"/>
<circle cx="869.8" cy="261.1" r="3.35"/>
<circle cx="890.1" cy="320.5" r="3.35"/>
<circle cx="894.4" cy="341.4" r="3.35"/>
<circle cx="874.9" cy="247.9" r="3.35"/>
<circle cx="873.7" cy="310.7" r="3.35"/>
<circle cx="877.0" cy="339.2" r="3.35"/>
<circle cx="876.7" cy="332.7" r="3.35"/>
<circle cx="880.5" cy="295.6" r="3.35"/>
<circle cx="881.8" cy="252.3" r="3.35"/>
<circle cx="878.3" cy="252.6" r="3.35"/>
<circle cx="874.3" cy="326.9" r="3.35"/>
<circle cx="874.0" cy="233.1" r="3.35"/>
<circle cx="876.3" cy="213.6" r="3.35"/>
<circle cx="879.8" cy="260.3" r="3.35"/>
<circle cx="876.4" cy="284.0" r="3.35"/>
<circle cx="891.8" cy="243.7" r="3.35"/>
<circle cx="885.4" cy="178.4" r="3.35"/>
<circle cx="899.5" cy="304.8" r="3.35"/>
<circle cx="877.3" cy="251.0" r="3.35"/>
<circle cx="874.7" cy="308.6" r="3.35"/>
<circle cx="886.6" cy="308.7" r="3.35"/>
<circle cx="877.3" cy="316.9" r="3.35"/>
<circle cx="870.3" cy="287.3" r="3.35"/>
<circle cx="877.8" cy="323.3" r="3.35"/>
<circle cx="911.2" cy="328.3" r="3.35"/>
<circle cx="875.8" cy="256.5" r="3.35"/>
<circle cx="892.7" cy="229.1" r="3.35"/>
<circle cx="883.9" cy="278.2" r="3.35"/>
<circle cx="910.6" cy="330.0" r="3.35"/>
<circle cx="905.5" cy="327.1" r="3.35"/>
<circle cx="922.4" cy="318.9" r="3.35"/>
<circle cx="878.5" cy="239.4" r="3.35"/>
<circle cx="870.0" cy="282.0" r="3.35"/>
<circle cx="885.5" cy="251.5" r="3.35"/>
<circle cx="887.3" cy="275.7" r="3.35"/>
<circle cx="879.0" cy="135.1" r="3.35"/>
<circle cx="913.1" cy="326.5" r="3.35"/>
<circle cx="875.9" cy="340.9" r="3.35"/>
<circle cx="883.9" cy="265.6" r="3.35"/>
<circle cx="901.4" cy="320.3" r="3.35"/>
<circle cx="908.2" cy="320.1" r="3.35"/>
<circle cx="882.6" cy="311.7" r="3.35"/>
<circle cx="883.8" cy="253.4" r="3.35"/>
<circle cx="889.0" cy="328.4" r="3.35"/>
<circle cx="877.0" cy="316.0" r="3.35"/>
<circle cx="901.8" cy="314.2" r="3.35"/>
<circle cx="876.3" cy="281.7" r="3.35"/>
<circle cx="878.7" cy="262.1" r="3.35"/>
<circle cx="882.1" cy="337.9" r="3.35"/>
<circle cx="888.9" cy="311.9" r="3.35"/>
<circle cx="874.9" cy="341.4" r="3.35"/>
<circle cx="898.4" cy="314.6" r="3.35"/>
<circle cx="877.6" cy="326.8" r="3.35"/>
<circle cx="878.1" cy="170.8" r="3.35"/>
<circle cx="873.5" cy="335.0" r="3.35"/>
<circle cx="898.6" cy="327.0" r="3.35"/>
<circle cx="884.2" cy="328.3" r="3.35"/>
<circle cx="885.0" cy="337.3" r="3.35"/>
<circle cx="871.0" cy="305.8" r="3.35"/>
<circle cx="875.0" cy="259.0" r="3.35"/>
<circle cx="892.8" cy="320.1" r="3.35"/>
<circle cx="917.7" cy="314.5" r="3.35"/>
<circle cx="889.6" cy="215.9" r="3.35"/>
<circle cx="872.2" cy="263.5" r="3.35"/>
<circle cx="898.0" cy="309.4" r="3.35"/>
<circle cx="878.2" cy="276.9" r="3.35"/>
<circle cx="902.3" cy="317.0" r="3.35"/>
<circle cx="869.8" cy="293.2" r="3.35"/>
<circle cx="877.8" cy="259.1" r="3.35"/>
<circle cx="883.0" cy="300.6" r="3.35"/>
<circle cx="870.3" cy="333.6" r="3.35"/>
<circle cx="874.7" cy="298.6" r="3.35"/>
<circle cx="876.4" cy="270.1" r="3.35"/>
<circle cx="871.4" cy="228.0" r="3.35"/>
<circle cx="910.0" cy="341.2" r="3.35"/>
<circle cx="869.8" cy="314.9" r="3.35"/>
<circle cx="869.8" cy="286.3" r="3.35"/>
<circle cx="873.7" cy="333.5" r="3.35"/>
</g></g>
<rect x="854.50" y="52.60" width="338.30" height="302.10" fill="none" stroke="#222" stroke-width="1.1"/>
<line x1="870.00" y1="354.70" x2="870.00" y2="358.80" stroke="#000" stroke-width="0.85"/>
<text x="870.00" y="371.40" font-size="11.8" text-anchor="middle" textLength="6.93" lengthAdjust="spacingAndGlyphs">0</text>
<line x1="922.75" y1="354.70" x2="922.75" y2="358.80" stroke="#000" stroke-width="0.85"/>
<text x="922.75" y="371.40" font-size="11.8" text-anchor="middle" textLength="27.74" lengthAdjust="spacingAndGlyphs">1000</text>
<line x1="975.50" y1="354.70" x2="975.50" y2="358.80" stroke="#000" stroke-width="0.85"/>
<text x="975.50" y="371.40" font-size="11.8" text-anchor="middle" textLength="27.74" lengthAdjust="spacingAndGlyphs">2000</text>
<line x1="1028.25" y1="354.70" x2="1028.25" y2="358.80" stroke="#000" stroke-width="0.85"/>
<text x="1028.25" y="371.40" font-size="11.8" text-anchor="middle" textLength="27.74" lengthAdjust="spacingAndGlyphs">3000</text>
<line x1="1081.00" y1="354.70" x2="1081.00" y2="358.80" stroke="#000" stroke-width="0.85"/>
<text x="1081.00" y="371.40" font-size="11.8" text-anchor="middle" textLength="27.74" lengthAdjust="spacingAndGlyphs">4000</text>
<line x1="1133.75" y1="354.70" x2="1133.75" y2="358.80" stroke="#000" stroke-width="0.85"/>
<text x="1133.75" y="371.40" font-size="11.8" text-anchor="middle" textLength="27.74" lengthAdjust="spacingAndGlyphs">5000</text>
<line x1="1186.50" y1="354.70" x2="1186.50" y2="358.80" stroke="#000" stroke-width="0.85"/>
<text x="1186.50" y="371.40" font-size="11.8" text-anchor="middle" textLength="27.74" lengthAdjust="spacingAndGlyphs">6000</text>
<line x1="850.40" y1="341.20" x2="854.50" y2="341.20" stroke="#000" stroke-width="0.85"/>
<text x="845.80" y="345.70" font-size="11.8" text-anchor="end" textLength="6.93" lengthAdjust="spacingAndGlyphs">0</text>
<line x1="850.40" y1="282.53" x2="854.50" y2="282.53" stroke="#000" stroke-width="0.85"/>
<text x="845.80" y="287.03" font-size="11.8" text-anchor="end" textLength="20.80" lengthAdjust="spacingAndGlyphs">200</text>
<line x1="850.40" y1="223.86" x2="854.50" y2="223.86" stroke="#000" stroke-width="0.85"/>
<text x="845.80" y="228.36" font-size="11.8" text-anchor="end" textLength="20.80" lengthAdjust="spacingAndGlyphs">400</text>
<line x1="850.40" y1="165.19" x2="854.50" y2="165.19" stroke="#000" stroke-width="0.85"/>
<text x="845.80" y="169.69" font-size="11.8" text-anchor="end" textLength="20.80" lengthAdjust="spacingAndGlyphs">600</text>
<line x1="850.40" y1="106.52" x2="854.50" y2="106.52" stroke="#000" stroke-width="0.85"/>
<text x="845.80" y="111.02" font-size="11.8" text-anchor="end" textLength="20.80" lengthAdjust="spacingAndGlyphs">800</text>
<text x="1023.65" y="387.60" font-size="11.8" text-anchor="middle" textLength="21.98" lengthAdjust="spacingAndGlyphs">cloc</text>
<g transform="translate(817.90,203.65) rotate(-90)"><text x="0.00" y="0.00" font-size="11.8" text-anchor="middle" textLength="56.34" lengthAdjust="spacingAndGlyphs">sr_density</text></g>
<text x="215.55" y="413.60" font-size="14.2" text-anchor="middle" textLength="115.03" lengthAdjust="spacingAndGlyphs">SR Density vs NF</text>
<text x="215.55" y="430.50" font-size="14.2" text-anchor="middle" textLength="92.54" lengthAdjust="spacingAndGlyphs">Pearson: 0.25</text>
<text x="215.55" y="447.40" font-size="14.2" text-anchor="middle" textLength="107.91" lengthAdjust="spacingAndGlyphs">Spearman: 0.45</text>
<g clip-path="url(#c3)">

<g fill="#1f77b4" stroke="#fff" stroke-width="0.7">
<circle cx="85.4" cy="644.1" r="3.35"/>
<circle cx="84.6" cy="670.1" r="3.35"/>
<circle cx="111.5" cy="713.5" r="3.35"/>
<circle cx="108.5" cy="725.2" r="3.35"/>
<circle cx="68.6" cy="671.5" r="3.35"/>
<circle cx="71.7" cy="690.0" r="3.35"/>
<circle cx="236.5" cy="724.2" r="3.35"/>
<circle cx="105.5" cy="724.1" r="3.35"/>
<circle cx="114.7" cy="738.3" r="3.35"/>
<circle cx="77.3" cy="732.1" r="3.35"/>
<circle cx="75.6" cy="669.9" r="3.35"/>
<circle cx="127.8" cy="736.3" r="3.35"/>
<circle cx="93.3" cy="716.8" r="3.35"/>
<circle cx="199.1" cy="737.1" r="3.35"/>
<circle cx="89.6" cy="723.5" r="3.35"/>
<circle cx="89.7" cy="743.8" r="3.35"/>
<circle cx="120.5" cy="721.2" r="3.35"/>
<circle cx="61.5" cy="721.1" r="3.35"/>
<circle cx="85.6" cy="722.5" r="3.35"/>
<circle cx="125.7" cy="743.8" r="3.35"/>
<circle cx="81.1" cy="718.6" r="3.35"/>
<circle cx="67.0" cy="693.4" r="3.35"/>
<circle cx="98.8" cy="741.9" r="3.35"/>
<circle cx="78.1" cy="735.7" r="3.35"/>
<circle cx="99.8" cy="695.8" r="3.35"/>
<circle cx="115.4" cy="743.8" r="3.35"/>
<circle cx="75.1" cy="675.3" r="3.35"/>
<circle cx="108.6" cy="733.4" r="3.35"/>
<circle cx="70.0" cy="682.5" r="3.35"/>
<circle cx="110.0" cy="722.3" r="3.35"/>
<circle cx="67.5" cy="693.3" r="3.35"/>
<circle cx="149.0" cy="707.7" r="3.35"/>
<circle cx="110.7" cy="710.6" r="3.35"/>
<circle cx="70.2" cy="646.6" r="3.35"/>
<circle cx="107.1" cy="723.7" r="3.35"/>
<circle cx="100.7" cy="703.0" r="3.35"/>
<circle cx="120.5" cy="741.0" r="3.35"/>
<circle cx="82.8" cy="659.4" r="3.35"/>
<circle cx="74.3" cy="696.2" r="3.35"/>
<circle cx="64.0" cy="705.1" r="3.35"/>
<circle cx="99.1" cy="712.2" r="3.35"/>
<circle cx="78.1" cy="701.6" r="3.35"/>
<circle cx="103.6" cy="725.8" r="3.35"/>
<circle cx="64.0" cy="675.2" r="3.35"/>
<circle cx="175.4" cy="743.8" r="3.35"/>
<circle cx="74.3" cy="728.7" r="3.35"/>
<circle cx="70.6" cy="708.6" r="3.35"/>
<circle cx="90.6" cy="733.0" r="3.35"/>
<circle cx="104.9" cy="706.7" r="3.35"/>
<circle cx="102.8" cy="699.3" r="3.35"/>
<circle cx="113.6" cy="741.3" r="3.35"/>
<circle cx="62.1" cy="724.5" r="3.35"/>
<circle cx="73.6" cy="692.2" r="3.35"/>
<circle cx="95.2" cy="725.5" r="3.35"/>
<circle cx="70.8" cy="717.2" r="3.35"/>
<circle cx="117.2" cy="716.7" r="3.35"/>
<circle cx="90.9" cy="694.4" r="3.35"/>
<circle cx="78.5" cy="673.7" r="3.35"/>
<circle cx="100.6" cy="715.8" r="3.35"/>
<circle cx="63.6" cy="697.7" r="3.35"/>
<circle cx="70.5" cy="670.1" r="3.35"/>
<circle cx="98.0" cy="689.3" r="3.35"/>
<circle cx="66.4" cy="651.2" r="3.35"/>
<circle cx="109.4" cy="719.9" r="3.35"/>
<circle cx="80.6" cy="740.8" r="3.35"/>
<circle cx="170.0" cy="725.6" r="3.35"/>
<circle cx="82.3" cy="727.3" r="3.35"/>
<circle cx="125.1" cy="730.0" r="3.35"/>
<circle cx="72.7" cy="709.0" r="3.35"/>
<circle cx="94.8" cy="659.5" r="3.35"/>
<circle cx="77.8" cy="700.5" r="3.35"/>
<circle cx="127.0" cy="725.7" r="3.35"/>
<circle cx="113.7" cy="716.9" r="3.35"/>
<circle cx="127.0" cy="687.3" r="3.35"/>
<circle cx="92.3" cy="721.2" r="3.35"/>
<circle cx="61.7" cy="704.5" r="3.35"/>
<circle cx="67.1" cy="696.0" r="3.35"/>
<circle cx="91.6" cy="707.0" r="3.35"/>
<circle cx="76.6" cy="576.1" r="3.35"/>
<circle cx="61.8" cy="665.9" r="3.35"/>
<circle cx="68.8" cy="731.2" r="3.35"/>
<circle cx="95.6" cy="702.9" r="3.35"/>
<circle cx="86.9" cy="715.6" r="3.35"/>
<circle cx="116.1" cy="728.2" r="3.35"/>
<circle cx="78.3" cy="694.9" r="3.35"/>
<circle cx="97.8" cy="660.3" r="3.35"/>
<circle cx="76.2" cy="659.9" r="3.35"/>
<circle cx="91.6" cy="694.6" r="3.35"/>
<circle cx="95.5" cy="699.2" r="3.35"/>
<circle cx="110.2" cy="741.5" r="3.35"/>
<circle cx="65.9" cy="743.3" r="3.35"/>
<circle cx="110.9" cy="735.0" r="3.35"/>
<circle cx="118.5" cy="742.2" r="3.35"/>
<circle cx="122.9" cy="728.6" r="3.35"/>
<circle cx="74.4" cy="738.7" r="3.35"/>
<circle cx="96.8" cy="667.1" r="3.35"/>
<circle cx="99.0" cy="696.3" r="3.35"/>
<circle cx="119.3" cy="723.3" r="3.35"/>
<circle cx="88.6" cy="743.8" r="3.35"/>
<circle cx="74.5" cy="706.7" r="3.35"/>
<circle cx="61.5" cy="668.3" r="3.35"/>
<circle cx="77.4" cy="671.2" r="3.35"/>
<circle cx="183.4" cy="736.3" r="3.35"/>
<circle cx="85.1" cy="732.9" r="3.35"/>
<circle cx="93.5" cy="659.0" r="3.35"/>
<circle cx="67.0" cy="713.5" r="3.35"/>
<circle cx="77.5" cy="687.5" r="3.35"/>
<circle cx="78.3" cy="693.9" r="3.35"/>
<circle cx="64.3" cy="686.1" r="3.35"/>
<circle cx="144.7" cy="743.8" r="3.35"/>
<circle cx="93.6" cy="713.2" r="3.35"/>
<circle cx="88.1" cy="707.6" r="3.35"/>
<circle cx="135.3" cy="613.9" r="3.35"/>
<circle cx="64.2" cy="731.0" r="3.35"/>
<circle cx="99.8" cy="735.4" r="3.35"/>
<circle cx="82.0" cy="663.1" r="3.35"/>
<circle cx="152.5" cy="733.9" r="3.35"/>
<circle cx="66.7" cy="679.8" r="3.35"/>
<circle cx="94.3" cy="626.9" r="3.35"/>
<circle cx="95.5" cy="743.8" r="3.35"/>
<circle cx="369.1" cy="743.8" r="3.35"/>
<circle cx="73.5" cy="693.7" r="3.35"/>
<circle cx="61.5" cy="689.2" r="3.35"/>
<circle cx="79.0" cy="693.7" r="3.35"/>
<circle cx="67.0" cy="723.1" r="3.35"/>
<circle cx="100.6" cy="731.1" r="3.35"/>
<circle cx="88.3" cy="717.3" r="3.35"/>
<circle cx="67.1" cy="715.2" r="3.35"/>
<circle cx="98.4" cy="720.8" r="3.35"/>
<circle cx="78.4" cy="663.0" r="3.35"/>
<circle cx="108.2" cy="641.6" r="3.35"/>
<circle cx="66.2" cy="682.2" r="3.35"/>
<circle cx="61.5" cy="653.3" r="3.35"/>
<circle cx="74.7" cy="660.3" r="3.35"/>
<circle cx="63.3" cy="695.6" r="3.35"/>
<circle cx="77.3" cy="662.8" r="3.35"/>
<circle cx="79.4" cy="639.1" r="3.35"/>
<circle cx="112.4" cy="716.2" r="3.35"/>
<circle cx="73.7" cy="560.8" r="3.35"/>
<circle cx="76.4" cy="690.5" r="3.35"/>
<circle cx="90.2" cy="696.2" r="3.35"/>
<circle cx="82.1" cy="685.9" r="3.35"/>
<circle cx="96.0" cy="720.4" r="3.35"/>
<circle cx="129.4" cy="499.2" r="3.35"/>
<circle cx="82.1" cy="679.0" r="3.35"/>
<circle cx="101.6" cy="704.5" r="3.35"/>
<circle cx="102.7" cy="724.0" r="3.35"/>
<circle cx="87.8" cy="695.4" r="3.35"/>
<circle cx="99.5" cy="739.4" r="3.35"/>
<circle cx="62.8" cy="720.3" r="3.35"/>
<circle cx="95.2" cy="594.2" r="3.35"/>
<circle cx="66.0" cy="665.6" r="3.35"/>
<circle cx="88.5" cy="718.1" r="3.35"/>
<circle cx="149.9" cy="725.6" r="3.35"/>
<circle cx="82.9" cy="668.9" r="3.35"/>
<circle cx="93.7" cy="717.8" r="3.35"/>
<circle cx="94.2" cy="468.3" r="3.35"/>
<circle cx="73.5" cy="694.1" r="3.35"/>
<circle cx="100.4" cy="695.5" r="3.35"/>
<circle cx="62.7" cy="672.7" r="3.35"/>
<circle cx="70.4" cy="655.7" r="3.35"/>
<circle cx="109.1" cy="707.2" r="3.35"/>
<circle cx="114.0" cy="631.8" r="3.35"/>
<circle cx="68.9" cy="741.7" r="3.35"/>
<circle cx="71.3" cy="730.3" r="3.35"/>
<circle cx="82.9" cy="716.5" r="3.35"/>
<circle cx="73.5" cy="716.5" r="3.35"/>
<circle cx="83.9" cy="699.0" r="3.35"/>
<circle cx="66.1" cy="699.7" r="3.35"/>
<circle cx="83.6" cy="658.9" r="3.35"/>
<circle cx="62.7" cy="671.4" r="3.35"/>
<circle cx="114.6" cy="734.1" r="3.35"/>
<circle cx="98.3" cy="738.7" r="3.35"/>
<circle cx="83.4" cy="731.8" r="3.35"/>
<circle cx="127.2" cy="630.2" r="3.35"/>
<circle cx="122.3" cy="719.7" r="3.35"/>
<circle cx="112.5" cy="731.1" r="3.35"/>
<circle cx="100.7" cy="736.9" r="3.35"/>
<circle cx="80.5" cy="697.2" r="3.35"/>
<circle cx="69.6" cy="707.5" r="3.35"/>
<circle cx="85.7" cy="740.4" r="3.35"/>
<circle cx="63.6" cy="736.4" r="3.35"/>
<circle cx="97.4" cy="695.6" r="3.35"/>
<circle cx="86.8" cy="743.5" r="3.35"/>
<circle cx="95.5" cy="743.8" r="3.35"/>
<circle cx="65.2" cy="693.1" r="3.35"/>
<circle cx="80.8" cy="667.3" r="3.35"/>
<circle cx="75.3" cy="716.7" r="3.35"/>
<circle cx="67.3" cy="731.3" r="3.35"/>
<circle cx="90.8" cy="739.3" r="3.35"/>
<circle cx="74.7" cy="550.9" r="3.35"/>
<circle cx="63.7" cy="735.8" r="3.35"/>
<circle cx="71.9" cy="708.5" r="3.35"/>
<circle cx="130.5" cy="541.0" r="3.35"/>
<circle cx="91.6" cy="720.4" r="3.35"/>
<circle cx="82.2" cy="738.4" r="3.35"/>
<circle cx="108.3" cy="716.9" r="3.35"/>
<circle cx="96.3" cy="683.7" r="3.35"/>
<circle cx="95.2" cy="572.9" r="3.35"/>
<circle cx="90.7" cy="739.8" r="3.35"/>
<circle cx="80.7" cy="723.9" r="3.35"/>
<circle cx="85.1" cy="691.2" r="3.35"/>
<circle cx="120.7" cy="742.3" r="3.35"/>
<circle cx="64.4" cy="689.6" r="3.35"/>
<circle cx="110.7" cy="716.4" r="3.35"/>
<circle cx="63.3" cy="711.8" r="3.35"/>
<circle cx="76.0" cy="681.6" r="3.35"/>
<circle cx="105.8" cy="695.5" r="3.35"/>
<circle cx="80.0" cy="690.3" r="3.35"/>
<circle cx="137.6" cy="668.6" r="3.35"/>
<circle cx="81.1" cy="712.4" r="3.35"/>
<circle cx="73.4" cy="648.6" r="3.35"/>
<circle cx="122.5" cy="743.8" r="3.35"/>
<circle cx="92.4" cy="690.2" r="3.35"/>
<circle cx="86.0" cy="695.8" r="3.35"/>
<circle cx="105.7" cy="714.3" r="3.35"/>
<circle cx="162.2" cy="735.5" r="3.35"/>
<circle cx="108.4" cy="722.6" r="3.35"/>
<circle cx="65.7" cy="649.7" r="3.35"/>
<circle cx="109.4" cy="717.2" r="3.35"/>
<circle cx="99.0" cy="536.3" r="3.35"/>
<circle cx="108.2" cy="734.5" r="3.35"/>
<circle cx="70.5" cy="743.1" r="3.35"/>
<circle cx="90.5" cy="710.0" r="3.35"/>
<circle cx="65.2" cy="711.7" r="3.35"/>
<circle cx="115.3" cy="743.8" r="3.35"/>
<circle cx="125.5" cy="738.7" r="3.35"/>
<circle cx="113.0" cy="554.7" r="3.35"/>
<circle cx="87.7" cy="733.1" r="3.35"/>
<circle cx="132.8" cy="740.2" r="3.35"/>
<circle cx="94.9" cy="708.4" r="3.35"/>
<circle cx="66.7" cy="741.5" r="3.35"/>
<circle cx="85.0" cy="712.3" r="3.35"/>
<circle cx="66.0" cy="724.1" r="3.35"/>
<circle cx="85.3" cy="738.0" r="3.35"/>
<circle cx="66.5" cy="660.5" r="3.35"/>
<circle cx="74.2" cy="740.6" r="3.35"/>
<circle cx="75.3" cy="688.3" r="3.35"/>
<circle cx="96.1" cy="693.1" r="3.35"/>
<circle cx="108.7" cy="708.9" r="3.35"/>
<circle cx="98.5" cy="718.1" r="3.35"/>
<circle cx="83.4" cy="708.4" r="3.35"/>
<circle cx="197.4" cy="657.1" r="3.35"/>
<circle cx="90.2" cy="695.6" r="3.35"/>
<circle cx="118.4" cy="734.3" r="3.35"/>
<circle cx="93.5" cy="707.5" r="3.35"/>
<circle cx="80.4" cy="694.1" r="3.35"/>
<circle cx="81.1" cy="700.9" r="3.35"/>
<circle cx="108.8" cy="720.1" r="3.35"/>
<circle cx="66.6" cy="700.7" r="3.35"/>
<circle cx="117.3" cy="713.4" r="3.35"/>
<circle cx="112.5" cy="714.4" r="3.35"/>
<circle cx="75.6" cy="594.2" r="3.35"/>
<circle cx="69.0" cy="698.0" r="3.35"/>
<circle cx="61.9" cy="693.8" r="3.35"/>
<circle cx="108.0" cy="702.5" r="3.35"/>
<circle cx="81.9" cy="716.0" r="3.35"/>
<circle cx="90.7" cy="697.7" r="3.35"/>
<circle cx="112.1" cy="713.4" r="3.35"/>
<circle cx="69.3" cy="739.4" r="3.35"/>
<circle cx="112.8" cy="713.8" r="3.35"/>
<circle cx="95.9" cy="713.0" r="3.35"/>
<circle cx="91.4" cy="655.9" r="3.35"/>
<circle cx="109.8" cy="703.6" r="3.35"/>
<circle cx="70.2" cy="654.3" r="3.35"/>
<circle cx="66.4" cy="738.1" r="3.35"/>
<circle cx="82.5" cy="660.4" r="3.35"/>
<circle cx="156.3" cy="670.7" r="3.35"/>
<circle cx="116.3" cy="713.0" r="3.35"/>
<circle cx="96.8" cy="708.0" r="3.35"/>
<circle cx="94.3" cy="691.0" r="3.35"/>
<circle cx="114.6" cy="731.0" r="3.35"/>
<circle cx="117.2" cy="727.0" r="3.35"/>
<circle cx="88.5" cy="527.1" r="3.35"/>
<circle cx="99.7" cy="704.4" r="3.35"/>
<circle cx="62.6" cy="690.5" r="3.35"/>
<circle cx="105.2" cy="739.2" r="3.35"/>
<circle cx="74.1" cy="723.3" r="3.35"/>
<circle cx="77.4" cy="671.9" r="3.35"/>
<circle cx="136.3" cy="732.3" r="3.35"/>
<circle cx="115.0" cy="734.9" r="3.35"/>
<circle cx="125.8" cy="743.8" r="3.35"/>
<circle cx="74.1" cy="639.3" r="3.35"/>
<circle cx="77.5" cy="687.1" r="3.35"/>
<circle cx="169.5" cy="639.3" r="3.35"/>
<circle cx="93.9" cy="706.1" r="3.35"/>
<circle cx="109.4" cy="743.5" r="3.35"/>
<circle cx="97.6" cy="719.1" r="3.35"/>
<circle cx="83.4" cy="740.2" r="3.35"/>
<circle cx="67.7" cy="637.0" r="3.35"/>
<circle cx="89.4" cy="720.9" r="3.35"/>
<circle cx="122.1" cy="743.8" r="3.35"/>
<circle cx="105.0" cy="737.0" r="3.35"/>
<circle cx="126.4" cy="721.2" r="3.35"/>
<circle cx="63.9" cy="676.5" r="3.35"/>
<circle cx="76.6" cy="729.7" r="3.35"/>
<circle cx="103.6" cy="738.1" r="3.35"/>
<circle cx="93.1" cy="739.1" r="3.35"/>
<circle cx="111.9" cy="731.1" r="3.35"/>
<circle cx="61.5" cy="692.8" r="3.35"/>
<circle cx="99.5" cy="743.3" r="3.35"/>
<circle cx="116.0" cy="715.4" r="3.35"/>
<circle cx="91.8" cy="724.9" r="3.35"/>
<circle cx="110.8" cy="714.7" r="3.35"/>
<circle cx="143.4" cy="682.2" r="3.35"/>
<circle cx="133.3" cy="737.3" r="3.35"/>
<circle cx="110.7" cy="743.8" r="3.35"/>
<circle cx="106.0" cy="695.1" r="3.35"/>
<circle cx="68.3" cy="672.9" r="3.35"/>
<circle cx="159.0" cy="678.5" r="3.35"/>
<circle cx="69.7" cy="639.3" r="3.35"/>
<circle cx="86.8" cy="653.3" r="3.35"/>
<circle cx="85.0" cy="736.0" r="3.35"/>
<circle cx="63.4" cy="704.9" r="3.35"/>
<circle cx="85.7" cy="717.7" r="3.35"/>
<circle cx="95.4" cy="731.3" r="3.35"/>
<circle cx="70.1" cy="625.2" r="3.35"/>
<circle cx="78.1" cy="685.7" r="3.35"/>
<circle cx="79.9" cy="727.7" r="3.35"/>
<circle cx="63.5" cy="704.1" r="3.35"/>
<circle cx="66.4" cy="668.4" r="3.35"/>
<circle cx="111.1" cy="706.8" r="3.35"/>
<circle cx="88.6" cy="726.1" r="3.35"/>
<circle cx="82.5" cy="690.5" r="3.35"/>
<circle cx="89.2" cy="741.9" r="3.35"/>
<circle cx="86.0" cy="719.8" r="3.35"/>
<circle cx="95.6" cy="707.4" r="3.35"/>
<circle cx="86.6" cy="652.9" r="3.35"/>
<circle cx="105.4" cy="727.9" r="3.35"/>
<circle cx="80.0" cy="663.7" r="3.35"/>
<circle cx="122.2" cy="733.6" r="3.35"/>
<circle cx="79.3" cy="742.2" r="3.35"/>
<circle cx="69.4" cy="736.5" r="3.35"/>
<circle cx="92.5" cy="742.9" r="3.35"/>
<circle cx="105.2" cy="712.9" r="3.35"/>
<circle cx="93.8" cy="739.3" r="3.35"/>
<circle cx="64.3" cy="704.6" r="3.35"/>
<circle cx="109.4" cy="718.2" r="3.35"/>
<circle cx="64.4" cy="739.0" r="3.35"/>
<circle cx="69.0" cy="731.1" r="3.35"/>
<circle cx="64.5" cy="726.2" r="3.35"/>
<circle cx="73.2" cy="667.1" r="3.35"/>
<circle cx="62.1" cy="736.7" r="3.35"/>
<circle cx="64.6" cy="697.8" r="3.35"/>
<circle cx="73.5" cy="713.5" r="3.35"/>
<circle cx="94.3" cy="697.6" r="3.35"/>
<circle cx="85.9" cy="682.1" r="3.35"/>
<circle cx="80.2" cy="654.2" r="3.35"/>
<circle cx="97.8" cy="715.8" r="3.35"/>
<circle cx="63.7" cy="716.6" r="3.35"/>
<circle cx="88.9" cy="668.4" r="3.35"/>
<circle cx="70.2" cy="743.8" r="3.35"/>
<circle cx="101.8" cy="704.4" r="3.35"/>
<circle cx="170.4" cy="639.2" r="3.35"/>
<circle cx="86.4" cy="735.1" r="3.35"/>
<circle cx="111.9" cy="740.7" r="3.35"/>
<circle cx="81.3" cy="659.8" r="3.35"/>
<circle cx="63.4" cy="694.5" r="3.35"/>
<circle cx="62.8" cy="691.8" r="3.35"/>
<circle cx="105.9" cy="726.4" r="3.35"/>
<circle cx="98.4" cy="704.6" r="3.35"/>
<circle cx="73.3" cy="699.2" r="3.35"/>
<circle cx="110.1" cy="704.5" r="3.35"/>
<circle cx="98.1" cy="710.3" r="3.35"/>
<circle cx="81.1" cy="743.5" r="3.35"/>
<circle cx="90.4" cy="576.1" r="3.35"/>
<circle cx="98.4" cy="671.7" r="3.35"/>
<circle cx="75.5" cy="721.7" r="3.35"/>
<circle cx="106.6" cy="728.9" r="3.35"/>
<circle cx="94.2" cy="712.2" r="3.35"/>
<circle cx="99.9" cy="743.4" r="3.35"/>
<circle cx="109.5" cy="708.3" r="3.35"/>
<circle cx="74.3" cy="671.2" r="3.35"/>
<circle cx="98.3" cy="712.7" r="3.35"/>
<circle cx="73.7" cy="674.7" r="3.35"/>
<circle cx="69.1" cy="690.7" r="3.35"/>
<circle cx="77.3" cy="646.8" r="3.35"/>
<circle cx="77.0" cy="677.5" r="3.35"/>
<circle cx="126.8" cy="720.5" r="3.35"/>
<circle cx="73.7" cy="699.1" r="3.35"/>
<circle cx="121.5" cy="725.9" r="3.35"/>
<circle cx="103.0" cy="697.2" r="3.35"/>
<circle cx="91.5" cy="743.6" r="3.35"/>
<circle cx="106.8" cy="721.7" r="3.35"/>
<circle cx="74.4" cy="743.8" r="3.35"/>
<circle cx="100.8" cy="722.8" r="3.35"/>
<circle cx="88.6" cy="696.0" r="3.35"/>
<circle cx="70.6" cy="690.0" r="3.35"/>
<circle cx="69.0" cy="655.5" r="3.35"/>
<circle cx="76.1" cy="677.9" r="3.35"/>
<circle cx="83.3" cy="695.0" r="3.35"/>
<circle cx="61.5" cy="664.9" r="3.35"/>
<circle cx="88.5" cy="733.5" r="3.35"/>
<circle cx="90.7" cy="697.3" r="3.35"/>
<circle cx="82.2" cy="654.5" r="3.35"/>
<circle cx="77.0" cy="699.3" r="3.35"/>
<circle cx="91.4" cy="731.3" r="3.35"/>
<circle cx="68.8" cy="716.2" r="3.35"/>
<circle cx="71.4" cy="702.4" r="3.35"/>
<circle cx="112.7" cy="713.4" r="3.35"/>
<circle cx="128.7" cy="618.1" r="3.35"/>
<circle cx="100.0" cy="717.5" r="3.35"/>
<circle cx="61.5" cy="654.6" r="3.35"/>
<circle cx="74.7" cy="720.0" r="3.35"/>
<circle cx="74.0" cy="642.6" r="3.35"/>
<circle cx="74.1" cy="717.5" r="3.35"/>
<circle cx="110.0" cy="645.8" r="3.35"/>
<circle cx="93.4" cy="710.0" r="3.35"/>
<circle cx="80.5" cy="666.6" r="3.35"/>
<circle cx="89.0" cy="704.9" r="3.35"/>
<circle cx="79.5" cy="741.0" r="3.35"/>
<circle cx="77.8" cy="728.4" r="3.35"/>
<circle cx="79.0" cy="698.6" r="3.35"/>
<circle cx="114.6" cy="728.4" r="3.35"/>
<circle cx="86.5" cy="692.0" r="3.35"/>
<circle cx="84.8" cy="699.1" r="3.35"/>
<circle cx="68.6" cy="674.2" r="3.35"/>
<circle cx="73.1" cy="661.0" r="3.35"/>
<circle cx="61.5" cy="715.0" r="3.35"/>
<circle cx="80.6" cy="714.6" r="3.35"/>
<circle cx="74.7" cy="687.4" r="3.35"/>
<circle cx="94.9" cy="690.1" r="3.35"/>
<circle cx="108.1" cy="736.9" r="3.35"/>
<circle cx="86.3" cy="730.0" r="3.35"/>
<circle cx="71.4" cy="727.4" r="3.35"/>
<circle cx="71.8" cy="646.0" r="3.35"/>
<circle cx="122.1" cy="718.9" r="3.35"/>
<circle cx="73.5" cy="732.9" r="3.35"/>
<circle cx="76.7" cy="739.7" r="3.35"/>
<circle cx="62.4" cy="672.5" r="3.35"/>
<circle cx="97.7" cy="716.1" r="3.35"/>
<circle cx="128.7" cy="725.3" r="3.35"/>
<circle cx="90.1" cy="580.9" r="3.35"/>
<circle cx="66.1" cy="669.6" r="3.35"/>
<circle cx="81.4" cy="635.8" r="3.35"/>
<circle cx="91.5" cy="716.7" r="3.35"/>
<circle cx="365.2" cy="743.8" r="3.35"/>
<circle cx="85.0" cy="701.2" r="3.35"/>
<circle cx="100.3" cy="713.5" r="3.35"/>
<circle cx="126.8" cy="743.8" r="3.35"/>
<circle cx="67.2" cy="742.8" r="3.35"/>
<circle cx="66.0" cy="693.2" r="3.35"/>
<circle cx="125.7" cy="737.7" r="3.35"/>
<circle cx="70.6" cy="692.4" r="3.35"/>
<circle cx="108.7" cy="701.2" r="3.35"/>
<circle cx="62.4" cy="739.1" r="3.35"/>
<circle cx="76.1" cy="726.4" r="3.35"/>
<circle cx="130.8" cy="727.6" r="3.35"/>
<circle cx="93.4" cy="698.4" r="3.35"/>
<circle cx="89.5" cy="667.4" r="3.35"/>
<circle cx="89.6" cy="670.4" r="3.35"/>
<circle cx="172.0" cy="725.7" r="3.35"/>
<circle cx="94.1" cy="692.5" r="3.35"/>
<circle cx="85.4" cy="724.1" r="3.35"/>
<circle cx="96.2" cy="739.4" r="3.35"/>
<circle cx="95.2" cy="731.1" r="3.35"/>
<circle cx="85.0" cy="737.8" r="3.35"/>
<circle cx="73.4" cy="668.7" r="3.35"/>
<circle cx="75.9" cy="741.2" r="3.35"/>
<circle cx="110.9" cy="720.7" r="3.35"/>
<circle cx="91.0" cy="697.6" r="3.35"/>
<circle cx="66.3" cy="662.0" r="3.35"/>
<circle cx="128.4" cy="732.3" r="3.35"/>
<circle cx="100.3" cy="694.7" r="3.35"/>
<circle cx="106.9" cy="696.0" r="3.35"/>
<circle cx="71.8" cy="705.1" r="3.35"/>
<circle cx="95.0" cy="739.6" r="3.35"/>
<circle cx="69.6" cy="691.7" r="3.35"/>
<circle cx="97.5" cy="736.4" r="3.35"/>
<circle cx="68.2" cy="644.2" r="3.35"/>
<circle cx="92.3" cy="739.9" r="3.35"/>
<circle cx="97.5" cy="708.3" r="3.35"/>
<circle cx="77.4" cy="705.2" r="3.35"/>
<circle cx="104.5" cy="739.8" r="3.35"/>
<circle cx="127.6" cy="737.3" r="3.35"/>
<circle cx="86.5" cy="721.3" r="3.35"/>
<circle cx="83.3" cy="681.2" r="3.35"/>
<circle cx="64.9" cy="726.5" r="3.35"/>
<circle cx="88.8" cy="692.8" r="3.35"/>
<circle cx="112.1" cy="728.1" r="3.35"/>
<circle cx="98.4" cy="708.6" r="3.35"/>
<circle cx="72.3" cy="732.0" r="3.35"/>
<circle cx="124.9" cy="732.1" r="3.35"/>
<circle cx="65.8" cy="654.6" r="3.35"/>
<circle cx="113.5" cy="704.2" r="3.35"/>
<circle cx="91.0" cy="729.9" r="3.35"/>
<circle cx="65.9" cy="730.2" r="3.35"/>
<circle cx="80.2" cy="730.2" r="3.35"/>
<circle cx="130.8" cy="727.0" r="3.35"/>
<circle cx="76.0" cy="742.0" r="3.35"/>
<circle cx="73.9" cy="742.3" r="3.35"/>
<circle cx="124.5" cy="731.0" r="3.35"/>
<circle cx="79.6" cy="730.9" r="3.35"/>
<circle cx="84.4" cy="571.2" r="3.35"/>
<circle cx="93.8" cy="682.0" r="3.35"/>
<circle cx="91.0" cy="694.6" r="3.35"/>
<circle cx="78.4" cy="660.7" r="3.35"/>
<circle cx="71.5" cy="743.8" r="3.35"/>
<circle cx="71.3" cy="648.9" r="3.35"/>
<circle cx="91.1" cy="738.7" r="3.35"/>
<circle cx="108.9" cy="721.2" r="3.35"/>
<circle cx="82.9" cy="722.9" r="3.35"/>
<circle cx="63.7" cy="702.9" r="3.35"/>
<circle cx="69.7" cy="691.2" r="3.35"/>
<circle cx="83.2" cy="661.2" r="3.35"/>
<circle cx="76.7" cy="661.3" r="3.35"/>
<circle cx="110.4" cy="707.0" r="3.35"/>
<circle cx="118.9" cy="727.0" r="3.35"/>
<circle cx="112.0" cy="702.9" r="3.35"/>
<circle cx="92.7" cy="682.0" r="3.35"/>
<circle cx="92.0" cy="673.0" r="3.35"/>
<circle cx="136.1" cy="736.3" r="3.35"/>
<circle cx="75.9" cy="743.8" r="3.35"/>
<circle cx="101.6" cy="537.0" r="3.35"/>
<circle cx="74.0" cy="716.4" r="3.35"/>
<circle cx="82.9" cy="666.2" r="3.35"/>
<circle cx="66.1" cy="715.2" r="3.35"/>
<circle cx="94.5" cy="736.8" r="3.35"/>
<circle cx="75.5" cy="680.5" r="3.35"/>
<circle cx="135.8" cy="739.5" r="3.35"/>
<circle cx="88.0" cy="692.8" r="3.35"/>
<circle cx="69.0" cy="710.4" r="3.35"/>
<circle cx="70.9" cy="734.5" r="3.35"/>
<circle cx="98.5" cy="675.2" r="3.35"/>
<circle cx="84.9" cy="730.7" r="3.35"/>
<circle cx="72.3" cy="693.2" r="3.35"/>
<circle cx="86.3" cy="660.3" r="3.35"/>
<circle cx="61.6" cy="682.2" r="3.35"/>
<circle cx="106.6" cy="711.9" r="3.35"/>
<circle cx="68.0" cy="692.8" r="3.35"/>
<circle cx="102.4" cy="743.8" r="3.35"/>
<circle cx="126.6" cy="743.7" r="3.35"/>
<circle cx="120.2" cy="719.6" r="3.35"/>
<circle cx="65.2" cy="701.2" r="3.35"/>
<circle cx="82.2" cy="691.8" r="3.35"/>
<circle cx="133.7" cy="729.4" r="3.35"/>
<circle cx="81.4" cy="692.0" r="3.35"/>
<circle cx="99.9" cy="743.8" r="3.35"/>
<circle cx="61.6" cy="657.8" r="3.35"/>
<circle cx="98.5" cy="717.2" r="3.35"/>
<circle cx="72.4" cy="692.3" r="3.35"/>
<circle cx="119.7" cy="721.8" r="3.35"/>
<circle cx="61.5" cy="689.3" r="3.35"/>
<circle cx="96.8" cy="738.0" r="3.35"/>
<circle cx="66.6" cy="725.4" r="3.35"/>
<circle cx="71.4" cy="689.8" r="3.35"/>
<circle cx="71.2" cy="671.7" r="3.35"/>
<circle cx="79.6" cy="616.3" r="3.35"/>
<circle cx="76.1" cy="665.5" r="3.35"/>
<circle cx="91.0" cy="701.2" r="3.35"/>
<circle cx="122.0" cy="722.7" r="3.35"/>
<circle cx="74.2" cy="719.2" r="3.35"/>
<circle cx="123.6" cy="738.6" r="3.35"/>
<circle cx="165.7" cy="736.3" r="3.35"/>
<circle cx="108.5" cy="711.5" r="3.35"/>
<circle cx="105.5" cy="743.8" r="3.35"/>
<circle cx="94.2" cy="738.7" r="3.35"/>
<circle cx="74.5" cy="729.9" r="3.35"/>
<circle cx="111.3" cy="720.1" r="3.35"/>
<circle cx="71.3" cy="711.4" r="3.35"/>
<circle cx="70.5" cy="732.5" r="3.35"/>
<circle cx="77.1" cy="656.3" r="3.35"/>
<circle cx="76.1" cy="743.8" r="3.35"/>
<circle cx="83.4" cy="735.4" r="3.35"/>
<circle cx="77.7" cy="733.0" r="3.35"/>
<circle cx="123.1" cy="717.3" r="3.35"/>
<circle cx="73.7" cy="672.4" r="3.35"/>
<circle cx="84.9" cy="703.2" r="3.35"/>
<circle cx="82.0" cy="709.0" r="3.35"/>
<circle cx="82.5" cy="693.9" r="3.35"/>
<circle cx="70.8" cy="629.4" r="3.35"/>
<circle cx="92.3" cy="726.3" r="3.35"/>
<circle cx="104.3" cy="731.4" r="3.35"/>
<circle cx="70.2" cy="657.3" r="3.35"/>
<circle cx="140.8" cy="598.3" r="3.35"/>
<circle cx="135.8" cy="733.4" r="3.35"/>
<circle cx="96.2" cy="732.2" r="3.35"/>
<circle cx="80.7" cy="684.3" r="3.35"/>
<circle cx="110.1" cy="704.7" r="3.35"/>
<circle cx="73.2" cy="655.5" r="3.35"/>
<circle cx="74.2" cy="692.9" r="3.35"/>
<circle cx="113.2" cy="712.4" r="3.35"/>
<circle cx="94.4" cy="676.7" r="3.35"/>
<circle cx="61.5" cy="740.6" r="3.35"/>
<circle cx="94.3" cy="721.2" r="3.35"/>
<circle cx="61.9" cy="730.2" r="3.35"/>
<circle cx="89.1" cy="705.6" r="3.35"/>
<circle cx="123.5" cy="733.4" r="3.35"/>
<circle cx="107.0" cy="700.8" r="3.35"/>
<circle cx="77.8" cy="717.5" r="3.35"/>
<circle cx="105.3" cy="743.8" r="3.35"/>
<circle cx="73.3" cy="702.0" r="3.35"/>
<circle cx="75.3" cy="647.2" r="3.35"/>
<circle cx="75.5" cy="650.7" r="3.35"/>
<circle cx="76.6" cy="743.4" r="3.35"/>
<circle cx="119.4" cy="743.6" r="3.35"/>
</g></g>
<rect x="46.40" y="454.70" width="338.30" height="302.70" fill="none" stroke="#222" stroke-width="1.1"/>
<line x1="61.70" y1="757.40" x2="61.70" y2="761.50" stroke="#000" stroke-width="0.85"/>
<text x="61.70" y="774.10" font-size="11.8" text-anchor="middle" textLength="6.93" lengthAdjust="spacingAndGlyphs">0</text>
<line x1="101.68" y1="757.40" x2="101.68" y2="761.50" stroke="#000" stroke-width="0.85"/>
<text x="101.68" y="774.10" font-size="11.8" text-anchor="middle" textLength="13.87" lengthAdjust="spacingAndGlyphs">50</text>
<line x1="141.66" y1="757.40" x2="141.66" y2="761.50" stroke="#000" stroke-width="0.85"/>
<text x="141.66" y="774.10" font-size="11.8" text-anchor="middle" textLength="20.80" lengthAdjust="spacingAndGlyphs">100</text>
<line x1="181.64" y1="757.40" x2="181.64" y2="761.50" stroke="#000" stroke-width="0.85"/>
<text x="181.64" y="774.10" font-size="11.8" text-anchor="middle" textLength="20.80" lengthAdjust="spacingAndGlyphs">150</text>
<line x1="221.62" y1="757.40" x2="221.62" y2="761.50" stroke="#000" stroke-width="0.85"/>
<text x="221.62" y="774.10" font-size="11.8" text-anchor="middle" textLength="20.80" lengthAdjust="spacingAndGlyphs">200</text>
<line x1="261.60" y1="757.40" x2="261.60" y2="761.50" stroke="#000" stroke-width="0.85"/>
<text x="261.60" y="774.10" font-size="11.8" text-anchor="middle" textLength="20.80" lengthAdjust="spacingAndGlyphs">250</text>
<line x1="301.58" y1="757.40" x2="301.58" y2="761.50" stroke="#000" stroke-width="0.85"/>
<text x="301.58" y="774.10" font-size="11.8" text-anchor="middle" textLength="20.80" lengthAdjust="spacingAndGlyphs">300</text>
<line x1="341.56" y1="757.40" x2="341.56" y2="761.50" stroke="#000" stroke-width="0.85"/>
<text x="341.56" y="774.10" font-size="11.8" text-anchor="middle" textLength="20.80" lengthAdjust="spacingAndGlyphs">350</text>
<line x1="381.54" y1="757.40" x2="381.54" y2="761.50" stroke="#000" stroke-width="0.85"/>
<text x="381.54" y="774.10" font-size="11.8" text-anchor="middle" textLength="20.80" lengthAdjust="spacingAndGlyphs">400</text>
<line x1="42.30" y1="743.60" x2="46.40" y2="743.60" stroke="#000" stroke-width="0.85"/>
<text x="37.70" y="748.10" font-size="11.8" text-anchor="end" textLength="6.93" lengthAdjust="spacingAndGlyphs">0</text>
<line x1="42.30" y1="685.00" x2="46.40" y2="685.00" stroke="#000" stroke-width="0.85"/>
<text x="37.70" y="689.50" font-size="11.8" text-anchor="end" textLength="20.80" lengthAdjust="spacingAndGlyphs">200</text>
<line x1="42.30" y1="626.40" x2="46.40" y2="626.40" stroke="#000" stroke-width="0.85"/>
<text x="37.70" y="630.90" font-size="11.8" text-anchor="end" textLength="20.80" lengthAdjust="spacingAndGlyphs">400</text>
<line x1="42.30" y1="567.80" x2="46.40" y2="567.80" stroke="#000" stroke-width="0.85"/>
<text x="37.70" y="572.30" font-size="11.8" text-anchor="end" textLength="20.80" lengthAdjust="spacingAndGlyphs">600</text>
<line x1="42.30" y1="509.20" x2="46.40" y2="509.20" stroke="#000" stroke-width="0.85"/>
<text x="37.70" y="513.70" font-size="11.8" text-anchor="end" textLength="20.80" lengthAdjust="spacingAndGlyphs">800</text>
<text x="215.55" y="790.30" font-size="11.8" text-anchor="middle" textLength="10.89" lengthAdjust="spacingAndGlyphs">nf</text>
<g transform="translate(9.80,606.05) rotate(-90)"><text x="0.00" y="0.00" font-size="11.8" text-anchor="middle" textLength="56.34" lengthAdjust="spacingAndGlyphs">sr_density</text></g>
<text x="619.55" y="413.60" font-size="14.2" text-anchor="middle" textLength="131.59" lengthAdjust="spacingAndGlyphs">SR Density vs WMC</text>
<text x="619.55" y="430.50" font-size="14.2" text-anchor="middle" textLength="92.54" lengthAdjust="spacingAndGlyphs">Pearson: 0.28</text>
<text x="619.55" y="447.40" font-size="14.2" text-anchor="middle" textLength="107.91" lengthAdjust="spacingAndGlyphs">Spearman: 0.47</text>
<g clip-path="url(#c4)">

<g fill="#1f77b4" stroke="#fff" stroke-width="0.7">
<circle cx="475.4" cy="721.6" r="3.35"/>
<circle cx="507.6" cy="536.9" r="3.35"/>
<circle cx="525.2" cy="706.9" r="3.35"/>
<circle cx="531.8" cy="720.7" r="3.35"/>
<circle cx="533.9" cy="719.0" r="3.35"/>
<circle cx="492.7" cy="658.9" r="3.35"/>
<circle cx="514.5" cy="728.5" r="3.35"/>
<circle cx="501.2" cy="734.7" r="3.35"/>
<circle cx="487.6" cy="740.4" r="3.35"/>
<circle cx="484.0" cy="670.8" r="3.35"/>
<circle cx="474.1" cy="666.9" r="3.35"/>
<circle cx="492.0" cy="699.5" r="3.35"/>
<circle cx="471.2" cy="737.4" r="3.35"/>
<circle cx="468.0" cy="728.9" r="3.35"/>
<circle cx="545.8" cy="598.2" r="3.35"/>
<circle cx="489.6" cy="735.9" r="3.35"/>
<circle cx="547.5" cy="739.9" r="3.35"/>
<circle cx="510.4" cy="713.9" r="3.35"/>
<circle cx="574.5" cy="639.2" r="3.35"/>
<circle cx="482.8" cy="652.4" r="3.35"/>
<circle cx="477.7" cy="732.9" r="3.35"/>
<circle cx="485.2" cy="686.3" r="3.35"/>
<circle cx="540.3" cy="645.8" r="3.35"/>
<circle cx="498.4" cy="716.4" r="3.35"/>
<circle cx="489.5" cy="654.9" r="3.35"/>
<circle cx="561.6" cy="733.4" r="3.35"/>
<circle cx="474.1" cy="743.4" r="3.35"/>
<circle cx="475.4" cy="729.7" r="3.35"/>
<circle cx="534.0" cy="721.3" r="3.35"/>
<circle cx="583.3" cy="736.3" r="3.35"/>
<circle cx="502.6" cy="683.0" r="3.35"/>
<circle cx="509.7" cy="738.4" r="3.35"/>
<circle cx="482.9" cy="709.2" r="3.35"/>
<circle cx="502.6" cy="725.0" r="3.35"/>
<circle cx="509.3" cy="743.8" r="3.35"/>
<circle cx="478.8" cy="704.6" r="3.35"/>
<circle cx="507.0" cy="709.7" r="3.35"/>
<circle cx="513.9" cy="738.5" r="3.35"/>
<circle cx="496.6" cy="674.1" r="3.35"/>
<circle cx="528.7" cy="580.9" r="3.35"/>
<circle cx="469.7" cy="686.1" r="3.35"/>
<circle cx="465.8" cy="703.6" r="3.35"/>
<circle cx="532.0" cy="630.1" r="3.35"/>
<circle cx="541.1" cy="723.2" r="3.35"/>
<circle cx="557.4" cy="733.0" r="3.35"/>
<circle cx="537.5" cy="662.8" r="3.35"/>
<circle cx="596.7" cy="736.3" r="3.35"/>
<circle cx="497.4" cy="697.1" r="3.35"/>
<circle cx="477.5" cy="722.1" r="3.35"/>
<circle cx="515.7" cy="735.3" r="3.35"/>
<circle cx="556.0" cy="743.8" r="3.35"/>
<circle cx="503.9" cy="722.5" r="3.35"/>
<circle cx="545.5" cy="735.3" r="3.35"/>
<circle cx="484.7" cy="743.8" r="3.35"/>
<circle cx="477.7" cy="740.1" r="3.35"/>
<circle cx="493.4" cy="706.6" r="3.35"/>
<circle cx="487.6" cy="718.3" r="3.35"/>
<circle cx="474.0" cy="697.9" r="3.35"/>
<circle cx="503.6" cy="686.5" r="3.35"/>
<circle cx="519.3" cy="733.1" r="3.35"/>
<circle cx="475.7" cy="654.1" r="3.35"/>
<circle cx="477.1" cy="732.7" r="3.35"/>
<circle cx="508.1" cy="696.1" r="3.35"/>
<circle cx="536.6" cy="743.4" r="3.35"/>
<circle cx="472.1" cy="698.7" r="3.35"/>
<circle cx="472.8" cy="718.8" r="3.35"/>
<circle cx="506.0" cy="729.6" r="3.35"/>
<circle cx="562.0" cy="734.2" r="3.35"/>
<circle cx="622.1" cy="737.3" r="3.35"/>
<circle cx="530.3" cy="720.3" r="3.35"/>
<circle cx="532.9" cy="715.7" r="3.35"/>
<circle cx="490.9" cy="726.7" r="3.35"/>
<circle cx="488.3" cy="723.0" r="3.35"/>
<circle cx="485.7" cy="675.8" r="3.35"/>
<circle cx="482.7" cy="700.7" r="3.35"/>
<circle cx="469.2" cy="678.5" r="3.35"/>
<circle cx="528.9" cy="711.0" r="3.35"/>
<circle cx="506.7" cy="730.5" r="3.35"/>
<circle cx="466.5" cy="699.9" r="3.35"/>
<circle cx="578.1" cy="737.7" r="3.35"/>
<circle cx="474.0" cy="685.5" r="3.35"/>
<circle cx="562.5" cy="737.7" r="3.35"/>
<circle cx="477.5" cy="735.9" r="3.35"/>
<circle cx="468.8" cy="661.6" r="3.35"/>
<circle cx="478.4" cy="691.0" r="3.35"/>
<circle cx="470.9" cy="692.2" r="3.35"/>
<circle cx="517.6" cy="718.4" r="3.35"/>
<circle cx="465.8" cy="674.1" r="3.35"/>
<circle cx="468.9" cy="730.3" r="3.35"/>
<circle cx="538.3" cy="740.4" r="3.35"/>
<circle cx="558.7" cy="733.3" r="3.35"/>
<circle cx="531.6" cy="730.6" r="3.35"/>
<circle cx="487.9" cy="706.0" r="3.35"/>
<circle cx="506.9" cy="730.9" r="3.35"/>
<circle cx="509.2" cy="626.8" r="3.35"/>
<circle cx="536.1" cy="725.0" r="3.35"/>
<circle cx="531.4" cy="687.3" r="3.35"/>
<circle cx="521.1" cy="732.4" r="3.35"/>
<circle cx="496.8" cy="718.1" r="3.35"/>
<circle cx="559.2" cy="737.6" r="3.35"/>
<circle cx="497.2" cy="697.2" r="3.35"/>
<circle cx="512.5" cy="742.1" r="3.35"/>
<circle cx="484.3" cy="707.8" r="3.35"/>
<circle cx="499.3" cy="647.3" r="3.35"/>
<circle cx="506.5" cy="708.0" r="3.35"/>
<circle cx="530.5" cy="715.7" r="3.35"/>
<circle cx="500.9" cy="728.1" r="3.35"/>
<circle cx="500.1" cy="719.0" r="3.35"/>
<circle cx="479.2" cy="717.6" r="3.35"/>
<circle cx="516.5" cy="724.3" r="3.35"/>
<circle cx="551.7" cy="739.7" r="3.35"/>
<circle cx="514.7" cy="706.7" r="3.35"/>
<circle cx="468.7" cy="727.8" r="3.35"/>
<circle cx="485.6" cy="738.1" r="3.35"/>
<circle cx="485.0" cy="717.8" r="3.35"/>
<circle cx="474.4" cy="660.0" r="3.35"/>
<circle cx="471.6" cy="715.2" r="3.35"/>
<circle cx="574.6" cy="732.4" r="3.35"/>
<circle cx="474.7" cy="723.5" r="3.35"/>
<circle cx="546.2" cy="726.3" r="3.35"/>
<circle cx="474.8" cy="692.2" r="3.35"/>
<circle cx="477.0" cy="710.2" r="3.35"/>
<circle cx="472.3" cy="730.3" r="3.35"/>
<circle cx="565.0" cy="731.3" r="3.35"/>
<circle cx="545.6" cy="739.6" r="3.35"/>
<circle cx="470.3" cy="722.7" r="3.35"/>
<circle cx="554.4" cy="734.3" r="3.35"/>
<circle cx="555.5" cy="730.7" r="3.35"/>
<circle cx="523.0" cy="631.7" r="3.35"/>
<circle cx="471.2" cy="653.2" r="3.35"/>
<circle cx="471.0" cy="743.4" r="3.35"/>
<circle cx="504.5" cy="740.4" r="3.35"/>
<circle cx="536.1" cy="742.0" r="3.35"/>
<circle cx="498.5" cy="681.1" r="3.35"/>
<circle cx="499.8" cy="731.2" r="3.35"/>
<circle cx="496.4" cy="721.3" r="3.35"/>
<circle cx="531.3" cy="720.7" r="3.35"/>
<circle cx="540.4" cy="735.8" r="3.35"/>
<circle cx="519.5" cy="735.3" r="3.35"/>
<circle cx="469.3" cy="708.0" r="3.35"/>
<circle cx="541.5" cy="743.8" r="3.35"/>
<circle cx="502.9" cy="735.7" r="3.35"/>
<circle cx="526.6" cy="733.9" r="3.35"/>
<circle cx="481.1" cy="743.8" r="3.35"/>
<circle cx="544.3" cy="723.8" r="3.35"/>
<circle cx="497.6" cy="718.3" r="3.35"/>
<circle cx="489.8" cy="679.0" r="3.35"/>
<circle cx="485.3" cy="687.4" r="3.35"/>
<circle cx="496.8" cy="527.0" r="3.35"/>
<circle cx="577.1" cy="743.8" r="3.35"/>
<circle cx="502.9" cy="697.2" r="3.35"/>
<circle cx="506.9" cy="719.8" r="3.35"/>
<circle cx="542.7" cy="698.6" r="3.35"/>
<circle cx="487.8" cy="679.0" r="3.35"/>
<circle cx="489.3" cy="735.5" r="3.35"/>
<circle cx="492.2" cy="720.3" r="3.35"/>
<circle cx="500.4" cy="743.7" r="3.35"/>
<circle cx="550.9" cy="499.5" r="3.35"/>
<circle cx="500.5" cy="697.5" r="3.35"/>
<circle cx="465.8" cy="726.5" r="3.35"/>
<circle cx="518.4" cy="726.4" r="3.35"/>
<circle cx="534.0" cy="717.7" r="3.35"/>
<circle cx="529.3" cy="723.4" r="3.35"/>
<circle cx="500.9" cy="739.4" r="3.35"/>
<circle cx="479.2" cy="743.5" r="3.35"/>
<circle cx="547.8" cy="729.0" r="3.35"/>
<circle cx="595.0" cy="736.5" r="3.35"/>
<circle cx="486.7" cy="728.5" r="3.35"/>
<circle cx="493.4" cy="667.1" r="3.35"/>
<circle cx="479.6" cy="649.6" r="3.35"/>
<circle cx="543.4" cy="668.7" r="3.35"/>
<circle cx="507.2" cy="652.2" r="3.35"/>
<circle cx="525.1" cy="736.5" r="3.35"/>
<circle cx="505.9" cy="643.8" r="3.35"/>
<circle cx="501.1" cy="739.6" r="3.35"/>
<circle cx="481.7" cy="690.4" r="3.35"/>
<circle cx="497.7" cy="697.8" r="3.35"/>
<circle cx="519.8" cy="736.7" r="3.35"/>
<circle cx="515.8" cy="709.6" r="3.35"/>
<circle cx="529.9" cy="713.6" r="3.35"/>
<circle cx="475.6" cy="664.8" r="3.35"/>
<circle cx="515.8" cy="726.5" r="3.35"/>
<circle cx="527.6" cy="720.0" r="3.35"/>
<circle cx="550.6" cy="741.7" r="3.35"/>
<circle cx="519.0" cy="717.5" r="3.35"/>
<circle cx="468.8" cy="698.0" r="3.35"/>
<circle cx="465.8" cy="706.4" r="3.35"/>
<circle cx="512.2" cy="743.8" r="3.35"/>
<circle cx="668.7" cy="737.3" r="3.35"/>
<circle cx="580.4" cy="729.7" r="3.35"/>
<circle cx="574.0" cy="732.4" r="3.35"/>
<circle cx="478.1" cy="629.4" r="3.35"/>
<circle cx="505.4" cy="697.0" r="3.35"/>
<circle cx="493.7" cy="717.2" r="3.35"/>
<circle cx="468.3" cy="737.3" r="3.35"/>
<circle cx="505.9" cy="666.0" r="3.35"/>
<circle cx="773.2" cy="743.8" r="3.35"/>
<circle cx="544.5" cy="718.7" r="3.35"/>
<circle cx="538.5" cy="660.4" r="3.35"/>
<circle cx="515.7" cy="733.5" r="3.35"/>
<circle cx="525.4" cy="679.0" r="3.35"/>
<circle cx="489.6" cy="735.2" r="3.35"/>
<circle cx="498.5" cy="710.2" r="3.35"/>
<circle cx="530.4" cy="742.1" r="3.35"/>
<circle cx="509.0" cy="697.9" r="3.35"/>
<circle cx="465.8" cy="660.0" r="3.35"/>
<circle cx="491.0" cy="698.6" r="3.35"/>
<circle cx="482.9" cy="730.3" r="3.35"/>
<circle cx="471.9" cy="706.5" r="3.35"/>
<circle cx="487.4" cy="655.2" r="3.35"/>
<circle cx="516.0" cy="721.2" r="3.35"/>
<circle cx="633.4" cy="678.5" r="3.35"/>
<circle cx="535.1" cy="729.5" r="3.35"/>
<circle cx="595.9" cy="726.8" r="3.35"/>
<circle cx="481.9" cy="712.6" r="3.35"/>
<circle cx="487.6" cy="657.1" r="3.35"/>
<circle cx="516.1" cy="702.2" r="3.35"/>
<circle cx="549.5" cy="743.8" r="3.35"/>
<circle cx="494.6" cy="715.9" r="3.35"/>
<circle cx="501.0" cy="668.4" r="3.35"/>
<circle cx="478.8" cy="639.3" r="3.35"/>
<circle cx="576.9" cy="743.8" r="3.35"/>
<circle cx="562.2" cy="739.3" r="3.35"/>
<circle cx="501.8" cy="688.2" r="3.35"/>
<circle cx="486.5" cy="657.2" r="3.35"/>
<circle cx="514.2" cy="733.0" r="3.35"/>
<circle cx="478.9" cy="722.0" r="3.35"/>
<circle cx="510.5" cy="721.5" r="3.35"/>
<circle cx="466.8" cy="681.8" r="3.35"/>
<circle cx="514.7" cy="699.0" r="3.35"/>
<circle cx="477.1" cy="709.4" r="3.35"/>
<circle cx="516.7" cy="704.3" r="3.35"/>
<circle cx="467.6" cy="733.4" r="3.35"/>
<circle cx="554.8" cy="728.2" r="3.35"/>
<circle cx="482.8" cy="699.0" r="3.35"/>
<circle cx="473.3" cy="730.4" r="3.35"/>
<circle cx="531.0" cy="743.7" r="3.35"/>
<circle cx="519.6" cy="739.6" r="3.35"/>
<circle cx="554.2" cy="721.3" r="3.35"/>
<circle cx="472.8" cy="698.9" r="3.35"/>
<circle cx="477.9" cy="655.9" r="3.35"/>
<circle cx="495.6" cy="732.5" r="3.35"/>
<circle cx="480.5" cy="732.9" r="3.35"/>
<circle cx="472.3" cy="695.5" r="3.35"/>
<circle cx="521.5" cy="709.5" r="3.35"/>
<circle cx="483.9" cy="663.3" r="3.35"/>
<circle cx="526.1" cy="727.6" r="3.35"/>
<circle cx="483.0" cy="710.8" r="3.35"/>
<circle cx="532.4" cy="714.2" r="3.35"/>
<circle cx="494.1" cy="729.2" r="3.35"/>
<circle cx="471.6" cy="707.8" r="3.35"/>
<circle cx="530.1" cy="727.7" r="3.35"/>
<circle cx="669.3" cy="724.1" r="3.35"/>
<circle cx="519.0" cy="739.6" r="3.35"/>
<circle cx="499.9" cy="695.1" r="3.35"/>
<circle cx="512.6" cy="732.7" r="3.35"/>
<circle cx="501.9" cy="720.2" r="3.35"/>
<circle cx="486.6" cy="653.5" r="3.35"/>
<circle cx="549.5" cy="740.6" r="3.35"/>
<circle cx="552.2" cy="727.2" r="3.35"/>
<circle cx="501.1" cy="707.6" r="3.35"/>
<circle cx="531.9" cy="728.6" r="3.35"/>
<circle cx="495.8" cy="732.6" r="3.35"/>
<circle cx="486.7" cy="727.6" r="3.35"/>
<circle cx="497.7" cy="666.0" r="3.35"/>
<circle cx="493.2" cy="661.1" r="3.35"/>
<circle cx="512.5" cy="704.5" r="3.35"/>
<circle cx="527.0" cy="739.4" r="3.35"/>
<circle cx="554.2" cy="743.8" r="3.35"/>
<circle cx="478.8" cy="724.4" r="3.35"/>
<circle cx="474.1" cy="734.8" r="3.35"/>
<circle cx="489.9" cy="684.7" r="3.35"/>
<circle cx="480.6" cy="722.9" r="3.35"/>
<circle cx="538.1" cy="728.3" r="3.35"/>
<circle cx="556.0" cy="742.7" r="3.35"/>
<circle cx="513.4" cy="727.9" r="3.35"/>
<circle cx="465.8" cy="720.6" r="3.35"/>
<circle cx="526.0" cy="727.8" r="3.35"/>
<circle cx="486.8" cy="733.5" r="3.35"/>
<circle cx="473.4" cy="683.5" r="3.35"/>
<circle cx="475.2" cy="668.8" r="3.35"/>
<circle cx="495.5" cy="667.3" r="3.35"/>
<circle cx="527.3" cy="718.6" r="3.35"/>
<circle cx="533.6" cy="723.7" r="3.35"/>
<circle cx="468.7" cy="743.4" r="3.35"/>
<circle cx="540.9" cy="736.1" r="3.35"/>
<circle cx="465.8" cy="669.1" r="3.35"/>
<circle cx="519.6" cy="730.9" r="3.35"/>
<circle cx="501.8" cy="635.7" r="3.35"/>
<circle cx="544.2" cy="734.2" r="3.35"/>
<circle cx="488.4" cy="661.5" r="3.35"/>
<circle cx="472.2" cy="668.7" r="3.35"/>
<circle cx="497.5" cy="671.5" r="3.35"/>
<circle cx="477.1" cy="729.4" r="3.35"/>
<circle cx="471.9" cy="739.4" r="3.35"/>
<circle cx="474.9" cy="724.7" r="3.35"/>
<circle cx="488.9" cy="685.6" r="3.35"/>
<circle cx="517.7" cy="739.0" r="3.35"/>
<circle cx="471.7" cy="737.1" r="3.35"/>
<circle cx="471.9" cy="743.8" r="3.35"/>
<circle cx="476.3" cy="664.3" r="3.35"/>
<circle cx="517.1" cy="707.9" r="3.35"/>
<circle cx="542.0" cy="731.1" r="3.35"/>
<circle cx="482.8" cy="656.2" r="3.35"/>
<circle cx="487.3" cy="701.4" r="3.35"/>
<circle cx="555.0" cy="742.8" r="3.35"/>
<circle cx="505.4" cy="731.2" r="3.35"/>
<circle cx="552.4" cy="709.1" r="3.35"/>
<circle cx="506.8" cy="704.9" r="3.35"/>
<circle cx="522.8" cy="707.7" r="3.35"/>
<circle cx="505.9" cy="675.6" r="3.35"/>
<circle cx="539.3" cy="613.9" r="3.35"/>
<circle cx="516.6" cy="734.6" r="3.35"/>
<circle cx="482.7" cy="729.9" r="3.35"/>
<circle cx="583.8" cy="731.8" r="3.35"/>
<circle cx="552.7" cy="734.2" r="3.35"/>
<circle cx="524.9" cy="727.6" r="3.35"/>
<circle cx="558.3" cy="722.4" r="3.35"/>
<circle cx="523.5" cy="723.7" r="3.35"/>
<circle cx="508.5" cy="715.5" r="3.35"/>
<circle cx="516.6" cy="732.5" r="3.35"/>
<circle cx="534.2" cy="739.7" r="3.35"/>
<circle cx="517.7" cy="713.1" r="3.35"/>
<circle cx="485.5" cy="666.8" r="3.35"/>
<circle cx="505.9" cy="712.2" r="3.35"/>
<circle cx="494.9" cy="675.4" r="3.35"/>
<circle cx="482.5" cy="656.9" r="3.35"/>
<circle cx="544.8" cy="733.4" r="3.35"/>
<circle cx="551.3" cy="729.0" r="3.35"/>
<circle cx="538.9" cy="712.7" r="3.35"/>
<circle cx="520.3" cy="660.3" r="3.35"/>
<circle cx="509.2" cy="656.4" r="3.35"/>
<circle cx="527.8" cy="721.3" r="3.35"/>
<circle cx="490.7" cy="707.0" r="3.35"/>
<circle cx="472.9" cy="737.9" r="3.35"/>
<circle cx="526.8" cy="741.2" r="3.35"/>
<circle cx="472.4" cy="730.5" r="3.35"/>
<circle cx="483.2" cy="702.2" r="3.35"/>
<circle cx="497.0" cy="673.4" r="3.35"/>
<circle cx="493.5" cy="741.2" r="3.35"/>
<circle cx="471.1" cy="712.0" r="3.35"/>
<circle cx="470.8" cy="707.4" r="3.35"/>
<circle cx="552.3" cy="730.3" r="3.35"/>
<circle cx="519.7" cy="711.9" r="3.35"/>
<circle cx="521.9" cy="743.8" r="3.35"/>
<circle cx="534.4" cy="725.7" r="3.35"/>
<circle cx="556.2" cy="738.8" r="3.35"/>
<circle cx="491.3" cy="737.2" r="3.35"/>
<circle cx="530.1" cy="722.4" r="3.35"/>
<circle cx="477.2" cy="686.7" r="3.35"/>
<circle cx="466.1" cy="673.7" r="3.35"/>
<circle cx="534.4" cy="711.0" r="3.35"/>
<circle cx="473.4" cy="743.4" r="3.35"/>
<circle cx="495.8" cy="666.5" r="3.35"/>
<circle cx="560.8" cy="725.6" r="3.35"/>
<circle cx="531.0" cy="575.8" r="3.35"/>
<circle cx="522.5" cy="732.0" r="3.35"/>
<circle cx="514.2" cy="710.3" r="3.35"/>
<circle cx="473.3" cy="675.7" r="3.35"/>
<circle cx="479.0" cy="671.7" r="3.35"/>
<circle cx="625.9" cy="671.0" r="3.35"/>
<circle cx="612.1" cy="682.6" r="3.35"/>
<circle cx="551.6" cy="734.4" r="3.35"/>
<circle cx="486.1" cy="677.7" r="3.35"/>
<circle cx="491.1" cy="695.6" r="3.35"/>
<circle cx="506.6" cy="594.2" r="3.35"/>
<circle cx="495.0" cy="730.7" r="3.35"/>
<circle cx="522.2" cy="714.4" r="3.35"/>
<circle cx="498.7" cy="689.1" r="3.35"/>
<circle cx="550.8" cy="720.4" r="3.35"/>
<circle cx="506.7" cy="714.3" r="3.35"/>
<circle cx="613.8" cy="743.8" r="3.35"/>
<circle cx="467.4" cy="722.0" r="3.35"/>
<circle cx="553.5" cy="735.6" r="3.35"/>
<circle cx="468.3" cy="707.4" r="3.35"/>
<circle cx="523.9" cy="651.4" r="3.35"/>
<circle cx="496.4" cy="720.9" r="3.35"/>
<circle cx="492.3" cy="655.5" r="3.35"/>
<circle cx="465.8" cy="734.3" r="3.35"/>
<circle cx="477.3" cy="678.0" r="3.35"/>
<circle cx="530.5" cy="739.8" r="3.35"/>
<circle cx="465.8" cy="696.4" r="3.35"/>
<circle cx="524.8" cy="722.3" r="3.35"/>
<circle cx="509.3" cy="705.4" r="3.35"/>
<circle cx="511.7" cy="739.2" r="3.35"/>
<circle cx="485.3" cy="719.9" r="3.35"/>
<circle cx="494.3" cy="560.6" r="3.35"/>
<circle cx="467.6" cy="734.4" r="3.35"/>
<circle cx="552.6" cy="721.8" r="3.35"/>
<circle cx="516.8" cy="707.9" r="3.35"/>
<circle cx="556.0" cy="735.6" r="3.35"/>
<circle cx="500.1" cy="703.5" r="3.35"/>
<circle cx="467.4" cy="732.0" r="3.35"/>
<circle cx="481.5" cy="741.6" r="3.35"/>
<circle cx="495.1" cy="695.0" r="3.35"/>
<circle cx="546.8" cy="711.1" r="3.35"/>
<circle cx="515.0" cy="711.8" r="3.35"/>
<circle cx="530.6" cy="722.1" r="3.35"/>
<circle cx="475.1" cy="694.8" r="3.35"/>
<circle cx="517.4" cy="725.1" r="3.35"/>
<circle cx="541.1" cy="716.1" r="3.35"/>
<circle cx="555.3" cy="722.9" r="3.35"/>
<circle cx="486.7" cy="675.6" r="3.35"/>
<circle cx="486.9" cy="663.5" r="3.35"/>
<circle cx="496.7" cy="704.7" r="3.35"/>
<circle cx="481.8" cy="653.8" r="3.35"/>
<circle cx="580.5" cy="725.3" r="3.35"/>
<circle cx="494.7" cy="732.9" r="3.35"/>
<circle cx="504.7" cy="719.8" r="3.35"/>
<circle cx="516.5" cy="673.6" r="3.35"/>
<circle cx="483.6" cy="702.3" r="3.35"/>
<circle cx="489.9" cy="737.4" r="3.35"/>
<circle cx="530.1" cy="734.2" r="3.35"/>
<circle cx="466.1" cy="739.4" r="3.35"/>
<circle cx="504.1" cy="674.6" r="3.35"/>
<circle cx="471.4" cy="697.1" r="3.35"/>
<circle cx="490.4" cy="709.6" r="3.35"/>
<circle cx="484.4" cy="668.5" r="3.35"/>
<circle cx="550.2" cy="738.4" r="3.35"/>
<circle cx="490.5" cy="703.9" r="3.35"/>
<circle cx="467.1" cy="698.9" r="3.35"/>
<circle cx="513.5" cy="743.8" r="3.35"/>
<circle cx="519.6" cy="701.7" r="3.35"/>
<circle cx="504.3" cy="743.4" r="3.35"/>
<circle cx="524.0" cy="740.2" r="3.35"/>
<circle cx="580.1" cy="729.8" r="3.35"/>
<circle cx="476.1" cy="635.6" r="3.35"/>
<circle cx="507.4" cy="725.3" r="3.35"/>
<circle cx="490.7" cy="658.3" r="3.35"/>
<circle cx="517.0" cy="727.3" r="3.35"/>
<circle cx="485.6" cy="673.7" r="3.35"/>
<circle cx="479.0" cy="702.7" r="3.35"/>
<circle cx="501.8" cy="666.8" r="3.35"/>
<circle cx="552.8" cy="723.5" r="3.35"/>
<circle cx="473.0" cy="734.0" r="3.35"/>
<circle cx="567.0" cy="541.1" r="3.35"/>
<circle cx="470.0" cy="696.3" r="3.35"/>
<circle cx="465.8" cy="699.6" r="3.35"/>
<circle cx="560.6" cy="731.0" r="3.35"/>
<circle cx="485.4" cy="647.3" r="3.35"/>
<circle cx="495.2" cy="694.3" r="3.35"/>
<circle cx="467.2" cy="685.9" r="3.35"/>
<circle cx="479.8" cy="699.5" r="3.35"/>
<circle cx="508.9" cy="717.4" r="3.35"/>
<circle cx="508.9" cy="715.2" r="3.35"/>
<circle cx="512.2" cy="729.1" r="3.35"/>
<circle cx="512.1" cy="711.3" r="3.35"/>
<circle cx="519.6" cy="468.5" r="3.35"/>
<circle cx="529.9" cy="741.0" r="3.35"/>
<circle cx="478.4" cy="700.8" r="3.35"/>
<circle cx="531.9" cy="554.6" r="3.35"/>
<circle cx="539.5" cy="722.8" r="3.35"/>
<circle cx="558.8" cy="713.4" r="3.35"/>
<circle cx="482.5" cy="710.6" r="3.35"/>
<circle cx="498.8" cy="741.1" r="3.35"/>
<circle cx="548.3" cy="734.9" r="3.35"/>
<circle cx="492.0" cy="616.2" r="3.35"/>
<circle cx="494.0" cy="670.4" r="3.35"/>
<circle cx="474.6" cy="712.0" r="3.35"/>
<circle cx="498.9" cy="743.8" r="3.35"/>
<circle cx="506.2" cy="710.8" r="3.35"/>
<circle cx="494.3" cy="639.3" r="3.35"/>
<circle cx="527.9" cy="659.5" r="3.35"/>
<circle cx="491.5" cy="696.1" r="3.35"/>
<circle cx="481.7" cy="740.7" r="3.35"/>
<circle cx="545.2" cy="727.7" r="3.35"/>
<circle cx="496.4" cy="666.8" r="3.35"/>
<circle cx="516.4" cy="731.5" r="3.35"/>
<circle cx="513.6" cy="720.7" r="3.35"/>
<circle cx="521.5" cy="703.5" r="3.35"/>
<circle cx="482.5" cy="671.3" r="3.35"/>
<circle cx="559.2" cy="726.4" r="3.35"/>
<circle cx="536.7" cy="704.1" r="3.35"/>
<circle cx="550.1" cy="737.8" r="3.35"/>
<circle cx="511.4" cy="698.2" r="3.35"/>
<circle cx="489.8" cy="736.4" r="3.35"/>
<circle cx="586.8" cy="725.3" r="3.35"/>
<circle cx="504.2" cy="704.7" r="3.35"/>
<circle cx="475.7" cy="708.9" r="3.35"/>
<circle cx="482.8" cy="653.9" r="3.35"/>
<circle cx="578.1" cy="737.9" r="3.35"/>
<circle cx="517.7" cy="702.0" r="3.35"/>
<circle cx="480.0" cy="675.6" r="3.35"/>
<circle cx="550.0" cy="727.5" r="3.35"/>
<circle cx="522.5" cy="736.8" r="3.35"/>
<circle cx="488.3" cy="729.9" r="3.35"/>
<circle cx="560.3" cy="737.4" r="3.35"/>
<circle cx="483.6" cy="730.7" r="3.35"/>
<circle cx="495.3" cy="740.9" r="3.35"/>
<circle cx="495.0" cy="696.5" r="3.35"/>
<circle cx="493.1" cy="743.8" r="3.35"/>
<circle cx="488.9" cy="661.7" r="3.35"/>
<circle cx="509.7" cy="705.9" r="3.35"/>
<circle cx="482.5" cy="723.8" r="3.35"/>
<circle cx="483.6" cy="697.9" r="3.35"/>
<circle cx="549.7" cy="742.9" r="3.35"/>
<circle cx="523.1" cy="711.4" r="3.35"/>
<circle cx="499.9" cy="732.1" r="3.35"/>
<circle cx="501.9" cy="694.9" r="3.35"/>
<circle cx="479.6" cy="657.4" r="3.35"/>
<circle cx="489.3" cy="696.8" r="3.35"/>
<circle cx="490.6" cy="659.2" r="3.35"/>
<circle cx="465.9" cy="743.3" r="3.35"/>
<circle cx="519.0" cy="739.3" r="3.35"/>
<circle cx="525.7" cy="732.3" r="3.35"/>
<circle cx="498.8" cy="700.6" r="3.35"/>
<circle cx="510.9" cy="720.0" r="3.35"/>
<circle cx="514.2" cy="713.4" r="3.35"/>
<circle cx="483.9" cy="639.0" r="3.35"/>
<circle cx="520.8" cy="731.1" r="3.35"/>
<circle cx="474.5" cy="704.5" r="3.35"/>
<circle cx="528.3" cy="729.6" r="3.35"/>
<circle cx="489.5" cy="719.6" r="3.35"/>
<circle cx="504.2" cy="678.6" r="3.35"/>
<circle cx="492.7" cy="728.5" r="3.35"/>
<circle cx="495.3" cy="550.8" r="3.35"/>
<circle cx="485.7" cy="665.8" r="3.35"/>
<circle cx="473.0" cy="674.9" r="3.35"/>
<circle cx="510.1" cy="737.3" r="3.35"/>
<circle cx="561.7" cy="729.0" r="3.35"/>
<circle cx="501.2" cy="743.1" r="3.35"/>
<circle cx="496.6" cy="700.7" r="3.35"/>
<circle cx="478.7" cy="687.6" r="3.35"/>
<circle cx="765.9" cy="743.8" r="3.35"/>
<circle cx="540.2" cy="736.1" r="3.35"/>
<circle cx="471.2" cy="656.7" r="3.35"/>
<circle cx="490.1" cy="743.6" r="3.35"/>
<circle cx="521.4" cy="740.6" r="3.35"/>
<circle cx="512.2" cy="742.8" r="3.35"/>
<circle cx="476.8" cy="712.1" r="3.35"/>
<circle cx="475.5" cy="720.5" r="3.35"/>
<circle cx="526.9" cy="713.5" r="3.35"/>
<circle cx="501.4" cy="671.4" r="3.35"/>
<circle cx="560.6" cy="721.3" r="3.35"/>
<circle cx="471.2" cy="662.6" r="3.35"/>
<circle cx="497.1" cy="733.7" r="3.35"/>
<circle cx="516.3" cy="573.0" r="3.35"/>
<circle cx="590.3" cy="728.4" r="3.35"/>
<circle cx="502.4" cy="654.7" r="3.35"/>
<circle cx="484.3" cy="655.9" r="3.35"/>
<circle cx="501.2" cy="742.1" r="3.35"/>
<circle cx="471.9" cy="720.0" r="3.35"/>
<circle cx="563.5" cy="739.3" r="3.35"/>
<circle cx="465.8" cy="725.2" r="3.35"/>
<circle cx="468.4" cy="739.8" r="3.35"/>
<circle cx="542.3" cy="727.0" r="3.35"/>
<circle cx="527.1" cy="712.9" r="3.35"/>
<circle cx="480.3" cy="726.3" r="3.35"/>
<circle cx="490.0" cy="718.8" r="3.35"/>
<circle cx="494.1" cy="743.4" r="3.35"/>
<circle cx="590.3" cy="728.9" r="3.35"/>
<circle cx="541.9" cy="706.8" r="3.35"/>
<circle cx="468.9" cy="702.6" r="3.35"/>
<circle cx="498.9" cy="704.1" r="3.35"/>
<circle cx="516.1" cy="730.6" r="3.35"/>
<circle cx="533.4" cy="724.0" r="3.35"/>
<circle cx="556.6" cy="743.8" r="3.35"/>
<circle cx="487.2" cy="666.3" r="3.35"/>
<circle cx="523.3" cy="704.6" r="3.35"/>
<circle cx="512.6" cy="700.0" r="3.35"/>
<circle cx="471.4" cy="720.0" r="3.35"/>
<circle cx="476.5" cy="698.5" r="3.35"/>
<circle cx="520.8" cy="743.6" r="3.35"/>
<circle cx="479.6" cy="683.0" r="3.35"/>
<circle cx="511.3" cy="735.9" r="3.35"/>
<circle cx="487.2" cy="683.3" r="3.35"/>
<circle cx="486.0" cy="706.8" r="3.35"/>
<circle cx="557.5" cy="733.6" r="3.35"/>
<circle cx="486.0" cy="699.9" r="3.35"/>
<circle cx="465.8" cy="743.8" r="3.35"/>
<circle cx="507.4" cy="743.8" r="3.35"/>
<circle cx="466.0" cy="673.8" r="3.35"/>
<circle cx="503.5" cy="692.6" r="3.35"/>
<circle cx="490.6" cy="715.3" r="3.35"/>
<circle cx="484.0" cy="725.5" r="3.35"/>
<circle cx="513.3" cy="730.4" r="3.35"/>
<circle cx="488.4" cy="639.3" r="3.35"/>
<circle cx="474.1" cy="731.3" r="3.35"/>
<circle cx="506.0" cy="730.5" r="3.35"/>
<circle cx="477.7" cy="705.8" r="3.35"/>
<circle cx="483.9" cy="663.7" r="3.35"/>
<circle cx="488.9" cy="686.1" r="3.35"/>
<circle cx="490.9" cy="673.7" r="3.35"/>
<circle cx="546.1" cy="727.5" r="3.35"/>
<circle cx="480.7" cy="727.6" r="3.35"/>
<circle cx="519.0" cy="740.8" r="3.35"/>
<circle cx="533.1" cy="714.8" r="3.35"/>
<circle cx="532.1" cy="739.0" r="3.35"/>
<circle cx="489.7" cy="704.1" r="3.35"/>
<circle cx="595.0" cy="726.6" r="3.35"/>
<circle cx="478.9" cy="743.8" r="3.35"/>
<circle cx="509.9" cy="743.4" r="3.35"/>
<circle cx="517.6" cy="720.8" r="3.35"/>
<circle cx="489.2" cy="729.4" r="3.35"/>
<circle cx="539.3" cy="719.1" r="3.35"/>
<circle cx="562.0" cy="728.7" r="3.35"/>
<circle cx="516.8" cy="743.7" r="3.35"/>
<circle cx="500.9" cy="720.5" r="3.35"/>
<circle cx="528.7" cy="700.3" r="3.35"/>
<circle cx="511.6" cy="706.6" r="3.35"/>
<circle cx="485.0" cy="701.1" r="3.35"/>
<circle cx="550.9" cy="723.1" r="3.35"/>
<circle cx="476.1" cy="653.8" r="3.35"/>
<circle cx="511.7" cy="726.4" r="3.35"/>
<circle cx="586.8" cy="725.4" r="3.35"/>
<circle cx="526.3" cy="726.1" r="3.35"/>
<circle cx="473.0" cy="722.1" r="3.35"/>
<circle cx="514.9" cy="719.9" r="3.35"/>
<circle cx="471.6" cy="697.0" r="3.35"/>
<circle cx="528.1" cy="743.5" r="3.35"/>
<circle cx="502.0" cy="686.4" r="3.35"/>
<circle cx="507.2" cy="743.8" r="3.35"/>
<circle cx="538.5" cy="641.5" r="3.35"/>
<circle cx="514.8" cy="576.2" r="3.35"/>
<circle cx="468.6" cy="716.8" r="3.35"/>
<circle cx="468.4" cy="735.6" r="3.35"/>
<circle cx="482.3" cy="672.4" r="3.35"/>
<circle cx="501.0" cy="571.1" r="3.35"/>
<circle cx="479.6" cy="661.3" r="3.35"/>
<circle cx="467.1" cy="730.1" r="3.35"/>
<circle cx="495.9" cy="738.0" r="3.35"/>
<circle cx="493.0" cy="702.9" r="3.35"/>
<circle cx="512.4" cy="721.1" r="3.35"/>
<circle cx="473.8" cy="665.6" r="3.35"/>
<circle cx="490.2" cy="716.1" r="3.35"/>
<circle cx="564.7" cy="707.6" r="3.35"/>
<circle cx="472.9" cy="656.7" r="3.35"/>
<circle cx="497.5" cy="694.3" r="3.35"/>
<circle cx="489.3" cy="686.2" r="3.35"/>
<circle cx="489.6" cy="683.7" r="3.35"/>
<circle cx="491.4" cy="695.6" r="3.35"/>
<circle cx="484.6" cy="625.1" r="3.35"/>
<circle cx="509.8" cy="709.0" r="3.35"/>
<circle cx="506.0" cy="685.8" r="3.35"/>
<circle cx="498.4" cy="663.7" r="3.35"/>
<circle cx="548.2" cy="733.5" r="3.35"/>
<circle cx="503.6" cy="738.3" r="3.35"/>
<circle cx="482.8" cy="642.5" r="3.35"/>
<circle cx="533.0" cy="714.5" r="3.35"/>
<circle cx="511.7" cy="699.6" r="3.35"/>
<circle cx="476.7" cy="740.9" r="3.35"/>
<circle cx="524.9" cy="703.1" r="3.35"/>
<circle cx="530.6" cy="714.8" r="3.35"/>
<circle cx="513.0" cy="738.5" r="3.35"/>
<circle cx="475.6" cy="682.7" r="3.35"/>
<circle cx="510.9" cy="707.6" r="3.35"/>
<circle cx="500.3" cy="665.0" r="3.35"/>
<circle cx="516.0" cy="723.4" r="3.35"/>
<circle cx="475.7" cy="669.4" r="3.35"/>
<circle cx="490.2" cy="694.7" r="3.35"/>
<circle cx="471.0" cy="671.9" r="3.35"/>
<circle cx="559.0" cy="618.0" r="3.35"/>
<circle cx="539.1" cy="713.2" r="3.35"/>
<circle cx="535.4" cy="742.0" r="3.35"/>
<circle cx="498.3" cy="695.2" r="3.35"/>
<circle cx="483.9" cy="726.7" r="3.35"/>
<circle cx="465.8" cy="743.8" r="3.35"/>
<circle cx="480.3" cy="700.4" r="3.35"/>
<circle cx="557.9" cy="734.8" r="3.35"/>
<circle cx="519.4" cy="711.7" r="3.35"/>
<circle cx="521.5" cy="743.7" r="3.35"/>
<circle cx="485.6" cy="739.2" r="3.35"/>
<circle cx="502.2" cy="670.1" r="3.35"/>
<circle cx="469.7" cy="663.5" r="3.35"/>
<circle cx="469.3" cy="661.6" r="3.35"/>
<circle cx="484.5" cy="690.6" r="3.35"/>
<circle cx="492.8" cy="707.6" r="3.35"/>
<circle cx="483.4" cy="696.2" r="3.35"/>
<circle cx="471.6" cy="722.2" r="3.35"/>
<circle cx="526.8" cy="725.8" r="3.35"/>
<circle cx="473.4" cy="681.6" r="3.35"/>
<circle cx="482.6" cy="695.9" r="3.35"/>
<circle cx="487.7" cy="668.5" r="3.35"/>
<circle cx="568.2" cy="728.3" r="3.35"/>
<circle cx="498.8" cy="742.7" r="3.35"/>
<circle cx="491.6" cy="692.7" r="3.35"/>
<circle cx="518.4" cy="707.7" r="3.35"/>
<circle cx="521.4" cy="725.3" r="3.35"/>
<circle cx="603.0" cy="657.3" r="3.35"/>
<circle cx="508.3" cy="723.6" r="3.35"/>
<circle cx="519.5" cy="729.1" r="3.35"/>
<circle cx="506.9" cy="721.7" r="3.35"/>
<circle cx="515.6" cy="738.0" r="3.35"/>
<circle cx="511.4" cy="742.7" r="3.35"/>
<circle cx="516.0" cy="743.7" r="3.35"/>
<circle cx="474.8" cy="695.8" r="3.35"/>
<circle cx="499.7" cy="717.6" r="3.35"/>
<circle cx="512.8" cy="707.2" r="3.35"/>
<circle cx="492.5" cy="669.6" r="3.35"/>
<circle cx="552.8" cy="731.1" r="3.35"/>
<circle cx="544.9" cy="740.5" r="3.35"/>
<circle cx="520.4" cy="703.6" r="3.35"/>
<circle cx="468.4" cy="726.9" r="3.35"/>
<circle cx="484.8" cy="676.3" r="3.35"/>
<circle cx="482.7" cy="728.1" r="3.35"/>
<circle cx="488.6" cy="695.1" r="3.35"/>
<circle cx="498.7" cy="702.4" r="3.35"/>
<circle cx="473.4" cy="718.4" r="3.35"/>
<circle cx="490.5" cy="724.2" r="3.35"/>
<circle cx="499.3" cy="699.0" r="3.35"/>
<circle cx="471.6" cy="719.6" r="3.35"/>
<circle cx="583.8" cy="736.3" r="3.35"/>
<circle cx="472.9" cy="680.9" r="3.35"/>
<circle cx="502.1" cy="726.9" r="3.35"/>
<circle cx="526.0" cy="714.0" r="3.35"/>
<circle cx="493.3" cy="678.4" r="3.35"/>
<circle cx="479.2" cy="697.4" r="3.35"/>
<circle cx="536.1" cy="535.9" r="3.35"/>
<circle cx="500.5" cy="743.8" r="3.35"/>
<circle cx="549.7" cy="735.5" r="3.35"/>
<circle cx="519.7" cy="743.8" r="3.35"/>
<circle cx="549.5" cy="733.0" r="3.35"/>
<circle cx="542.4" cy="719.0" r="3.35"/>
<circle cx="485.1" cy="696.4" r="3.35"/>
<circle cx="494.6" cy="736.5" r="3.35"/>
<circle cx="538.2" cy="743.7" r="3.35"/>
<circle cx="490.9" cy="729.9" r="3.35"/>
</g></g>
<rect x="450.40" y="454.70" width="338.30" height="302.70" fill="none" stroke="#222" stroke-width="1.1"/>
<line x1="466.00" y1="757.40" x2="466.00" y2="761.50" stroke="#000" stroke-width="0.85"/>
<text x="466.00" y="774.10" font-size="11.8" text-anchor="middle" textLength="6.93" lengthAdjust="spacingAndGlyphs">0</text>
<line x1="505.36" y1="757.40" x2="505.36" y2="761.50" stroke="#000" stroke-width="0.85"/>
<text x="505.36" y="774.10" font-size="11.8" text-anchor="middle" textLength="13.87" lengthAdjust="spacingAndGlyphs">50</text>
<line x1="544.72" y1="757.40" x2="544.72" y2="761.50" stroke="#000" stroke-width="0.85"/>
<text x="544.72" y="774.10" font-size="11.8" text-anchor="middle" textLength="20.80" lengthAdjust="spacingAndGlyphs">100</text>
<line x1="584.08" y1="757.40" x2="584.08" y2="761.50" stroke="#000" stroke-width="0.85"/>
<text x="584.08" y="774.10" font-size="11.8" text-anchor="middle" textLength="20.80" lengthAdjust="spacingAndGlyphs">150</text>
<line x1="623.44" y1="757.40" x2="623.44" y2="761.50" stroke="#000" stroke-width="0.85"/>
<text x="623.44" y="774.10" font-size="11.8" text-anchor="middle" textLength="20.80" lengthAdjust="spacingAndGlyphs">200</text>
<line x1="662.80" y1="757.40" x2="662.80" y2="761.50" stroke="#000" stroke-width="0.85"/>
<text x="662.80" y="774.10" font-size="11.8" text-anchor="middle" textLength="20.80" lengthAdjust="spacingAndGlyphs">250</text>
<line x1="702.16" y1="757.40" x2="702.16" y2="761.50" stroke="#000" stroke-width="0.85"/>
<text x="702.16" y="774.10" font-size="11.8" text-anchor="middle" textLength="20.80" lengthAdjust="spacingAndGlyphs">300</text>
<line x1="741.52" y1="757.40" x2="741.52" y2="761.50" stroke="#000" stroke-width="0.85"/>
<text x="741.52" y="774.10" font-size="11.8" text-anchor="middle" textLength="20.80" lengthAdjust="spacingAndGlyphs">350</text>
<line x1="780.88" y1="757.40" x2="780.88" y2="761.50" stroke="#000" stroke-width="0.85"/>
<text x="780.88" y="774.10" font-size="11.8" text-anchor="middle" textLength="20.80" lengthAdjust="spacingAndGlyphs">400</text>
<line x1="446.30" y1="743.60" x2="450.40" y2="743.60" stroke="#000" stroke-width="0.85"/>
<text x="441.70" y="748.10" font-size="11.8" text-anchor="end" textLength="6.93" lengthAdjust="spacingAndGlyphs">0</text>
<line x1="446.30" y1="685.00" x2="450.40" y2="685.00" stroke="#000" stroke-width="0.85"/>
<text x="441.70" y="689.50" font-size="11.8" text-anchor="end" textLength="20.80" lengthAdjust="spacingAndGlyphs">200</text>
<line x1="446.30" y1="626.40" x2="450.40" y2="626.40" stroke="#000" stroke-width="0.85"/>
<text x="441.70" y="630.90" font-size="11.8" text-anchor="end" textLength="20.80" lengthAdjust="spacingAndGlyphs">400</text>
<line x1="446.30" y1="567.80" x2="450.40" y2="567.80" stroke="#000" stroke-width="0.85"/>
<text x="441.70" y="572.30" font-size="11.8" text-anchor="end" textLength="20.80" lengthAdjust="spacingAndGlyphs">600</text>
<line x1="446.30" y1="509.20" x2="450.40" y2="509.20" stroke="#000" stroke-width="0.85"/>
<text x="441.70" y="513.70" font-size="11.8" text-anchor="end" textLength="20.80" lengthAdjust="spacingAndGlyphs">800</text>
<text x="619.55" y="790.30" font-size="11.8" text-anchor="middle" textLength="25.88" lengthAdjust="spacingAndGlyphs">wmc</text>
<g transform="translate(413.80,606.05) rotate(-90)"><text x="0.00" y="0.00" font-size="11.8" text-anchor="middle" textLength="56.34" lengthAdjust="spacingAndGlyphs">sr_density</text></g>
<text x="1023.65" y="413.60" font-size="14.2" text-anchor="middle" textLength="114.79" lengthAdjust="spacingAndGlyphs">SR Density vs NL</text>
<text x="1023.65" y="430.50" font-size="14.2" text-anchor="middle" textLength="92.54" lengthAdjust="spacingAndGlyphs">Pearson: 0.26</text>
<text x="1023.65" y="447.40" font-size="14.2" text-anchor="middle" textLength="107.91" lengthAdjust="spacingAndGlyphs">Spearman: 0.42</text>
<g clip-path="url(#c5)">

<g fill="#1f77b4" stroke="#fff" stroke-width="0.7">
<circle cx="898.3" cy="704.8" r="3.35"/>
<circle cx="907.4" cy="638.4" r="3.35"/>
<circle cx="927.0" cy="714.9" r="3.35"/>
<circle cx="936.3" cy="714.5" r="3.35"/>
<circle cx="883.9" cy="670.3" r="3.35"/>
<circle cx="912.6" cy="719.3" r="3.35"/>
<circle cx="992.7" cy="576.0" r="3.35"/>
<circle cx="869.8" cy="716.0" r="3.35"/>
<circle cx="870.3" cy="650.5" r="3.35"/>
<circle cx="874.5" cy="700.5" r="3.35"/>
<circle cx="899.6" cy="695.3" r="3.35"/>
<circle cx="917.4" cy="666.0" r="3.35"/>
<circle cx="988.6" cy="724.4" r="3.35"/>
<circle cx="1073.5" cy="730.6" r="3.35"/>
<circle cx="964.6" cy="719.5" r="3.35"/>
<circle cx="888.9" cy="675.3" r="3.35"/>
<circle cx="884.5" cy="681.2" r="3.35"/>
<circle cx="1083.3" cy="731.0" r="3.35"/>
<circle cx="917.5" cy="743.8" r="3.35"/>
<circle cx="1054.5" cy="732.9" r="3.35"/>
<circle cx="908.0" cy="709.5" r="3.35"/>
<circle cx="921.8" cy="684.4" r="3.35"/>
<circle cx="926.5" cy="732.6" r="3.35"/>
<circle cx="889.0" cy="690.2" r="3.35"/>
<circle cx="902.5" cy="663.7" r="3.35"/>
<circle cx="888.3" cy="680.9" r="3.35"/>
<circle cx="884.0" cy="734.2" r="3.35"/>
<circle cx="1040.2" cy="736.3" r="3.35"/>
<circle cx="888.9" cy="720.9" r="3.35"/>
<circle cx="875.0" cy="723.8" r="3.35"/>
<circle cx="893.7" cy="683.6" r="3.35"/>
<circle cx="907.5" cy="732.4" r="3.35"/>
<circle cx="870.0" cy="706.5" r="3.35"/>
<circle cx="917.4" cy="715.7" r="3.35"/>
<circle cx="917.3" cy="594.1" r="3.35"/>
<circle cx="870.0" cy="694.9" r="3.35"/>
<circle cx="1045.0" cy="709.2" r="3.35"/>
<circle cx="936.2" cy="658.8" r="3.35"/>
<circle cx="949.6" cy="743.7" r="3.35"/>
<circle cx="879.7" cy="727.0" r="3.35"/>
<circle cx="945.8" cy="705.4" r="3.35"/>
<circle cx="926.3" cy="635.8" r="3.35"/>
<circle cx="907.6" cy="702.7" r="3.35"/>
<circle cx="902.9" cy="725.3" r="3.35"/>
<circle cx="902.1" cy="697.8" r="3.35"/>
<circle cx="926.3" cy="683.9" r="3.35"/>
<circle cx="917.3" cy="718.2" r="3.35"/>
<circle cx="926.8" cy="737.6" r="3.35"/>
<circle cx="973.7" cy="666.0" r="3.35"/>
<circle cx="893.9" cy="715.0" r="3.35"/>
<circle cx="941.2" cy="712.9" r="3.35"/>
<circle cx="907.7" cy="698.5" r="3.35"/>
<circle cx="922.1" cy="718.0" r="3.35"/>
<circle cx="1012.1" cy="743.7" r="3.35"/>
<circle cx="1110.9" cy="743.7" r="3.35"/>
<circle cx="931.7" cy="715.9" r="3.35"/>
<circle cx="921.9" cy="731.7" r="3.35"/>
<circle cx="898.5" cy="631.8" r="3.35"/>
<circle cx="912.3" cy="726.1" r="3.35"/>
<circle cx="945.7" cy="720.3" r="3.35"/>
<circle cx="879.7" cy="688.7" r="3.35"/>
<circle cx="912.4" cy="722.9" r="3.35"/>
<circle cx="950.6" cy="740.9" r="3.35"/>
<circle cx="907.6" cy="712.2" r="3.35"/>
<circle cx="931.1" cy="743.4" r="3.35"/>
<circle cx="997.5" cy="724.4" r="3.35"/>
<circle cx="931.5" cy="731.9" r="3.35"/>
<circle cx="926.6" cy="712.7" r="3.35"/>
<circle cx="936.0" cy="560.7" r="3.35"/>
<circle cx="922.1" cy="705.5" r="3.35"/>
<circle cx="926.3" cy="626.7" r="3.35"/>
<circle cx="912.5" cy="682.9" r="3.35"/>
<circle cx="1110.9" cy="682.2" r="3.35"/>
<circle cx="888.9" cy="698.6" r="3.35"/>
<circle cx="893.6" cy="736.1" r="3.35"/>
<circle cx="874.9" cy="742.6" r="3.35"/>
<circle cx="983.7" cy="696.3" r="3.35"/>
<circle cx="903.4" cy="741.7" r="3.35"/>
<circle cx="988.6" cy="468.5" r="3.35"/>
<circle cx="926.7" cy="701.8" r="3.35"/>
<circle cx="973.8" cy="743.7" r="3.35"/>
<circle cx="912.5" cy="706.3" r="3.35"/>
<circle cx="1026.0" cy="736.3" r="3.35"/>
<circle cx="902.5" cy="674.8" r="3.35"/>
<circle cx="950.2" cy="723.1" r="3.35"/>
<circle cx="904.7" cy="743.7" r="3.35"/>
<circle cx="884.5" cy="699.8" r="3.35"/>
<circle cx="879.7" cy="730.2" r="3.35"/>
<circle cx="1030.8" cy="724.4" r="3.35"/>
<circle cx="936.0" cy="551.1" r="3.35"/>
<circle cx="955.3" cy="740.6" r="3.35"/>
<circle cx="903.4" cy="730.1" r="3.35"/>
<circle cx="1092.5" cy="729.7" r="3.35"/>
<circle cx="870.0" cy="672.6" r="3.35"/>
<circle cx="870.0" cy="701.8" r="3.35"/>
<circle cx="941.2" cy="741.1" r="3.35"/>
<circle cx="1153.6" cy="678.4" r="3.35"/>
<circle cx="869.9" cy="743.5" r="3.35"/>
<circle cx="945.3" cy="725.9" r="3.35"/>
<circle cx="944.0" cy="743.4" r="3.35"/>
<circle cx="898.8" cy="743.5" r="3.35"/>
<circle cx="898.5" cy="643.9" r="3.35"/>
<circle cx="874.3" cy="743.6" r="3.35"/>
<circle cx="992.4" cy="660.2" r="3.35"/>
<circle cx="890.2" cy="671.2" r="3.35"/>
<circle cx="1016.5" cy="659.4" r="3.35"/>
<circle cx="903.0" cy="705.4" r="3.35"/>
<circle cx="955.2" cy="711.0" r="3.35"/>
<circle cx="945.5" cy="730.6" r="3.35"/>
<circle cx="893.8" cy="675.3" r="3.35"/>
<circle cx="880.0" cy="743.7" r="3.35"/>
<circle cx="903.3" cy="719.8" r="3.35"/>
<circle cx="926.7" cy="729.0" r="3.35"/>
<circle cx="945.6" cy="701.4" r="3.35"/>
<circle cx="905.9" cy="689.5" r="3.35"/>
<circle cx="983.7" cy="714.9" r="3.35"/>
<circle cx="874.9" cy="679.7" r="3.35"/>
<circle cx="869.8" cy="732.9" r="3.35"/>
<circle cx="917.4" cy="698.4" r="3.35"/>
<circle cx="921.8" cy="743.0" r="3.35"/>
<circle cx="917.4" cy="728.2" r="3.35"/>
<circle cx="907.8" cy="722.9" r="3.35"/>
<circle cx="879.6" cy="700.9" r="3.35"/>
<circle cx="922.0" cy="723.8" r="3.35"/>
<circle cx="903.1" cy="727.6" r="3.35"/>
<circle cx="959.8" cy="554.8" r="3.35"/>
<circle cx="910.2" cy="743.6" r="3.35"/>
<circle cx="898.6" cy="700.7" r="3.35"/>
<circle cx="936.2" cy="740.7" r="3.35"/>
<circle cx="870.0" cy="676.6" r="3.35"/>
<circle cx="884.1" cy="721.4" r="3.35"/>
<circle cx="879.5" cy="704.4" r="3.35"/>
<circle cx="907.2" cy="576.0" r="3.35"/>
<circle cx="898.3" cy="697.0" r="3.35"/>
<circle cx="889.1" cy="718.4" r="3.35"/>
<circle cx="879.2" cy="667.0" r="3.35"/>
<circle cx="898.5" cy="736.7" r="3.35"/>
<circle cx="974.3" cy="726.6" r="3.35"/>
<circle cx="954.9" cy="675.8" r="3.35"/>
<circle cx="884.4" cy="743.1" r="3.35"/>
<circle cx="879.3" cy="655.6" r="3.35"/>
<circle cx="874.9" cy="708.3" r="3.35"/>
<circle cx="959.7" cy="714.5" r="3.35"/>
<circle cx="917.3" cy="725.3" r="3.35"/>
<circle cx="899.0" cy="695.3" r="3.35"/>
<circle cx="903.0" cy="702.3" r="3.35"/>
<circle cx="931.2" cy="742.5" r="3.35"/>
<circle cx="888.7" cy="714.5" r="3.35"/>
<circle cx="869.8" cy="652.5" r="3.35"/>
<circle cx="940.8" cy="736.1" r="3.35"/>
<circle cx="1002.3" cy="713.5" r="3.35"/>
<circle cx="945.4" cy="742.7" r="3.35"/>
<circle cx="878.9" cy="642.4" r="3.35"/>
<circle cx="874.7" cy="716.2" r="3.35"/>
<circle cx="884.2" cy="714.6" r="3.35"/>
<circle cx="973.8" cy="666.1" r="3.35"/>
<circle cx="1059.2" cy="735.7" r="3.35"/>
<circle cx="888.9" cy="673.3" r="3.35"/>
<circle cx="922.0" cy="726.7" r="3.35"/>
<circle cx="969.7" cy="705.2" r="3.35"/>
<circle cx="898.4" cy="725.0" r="3.35"/>
<circle cx="889.0" cy="702.7" r="3.35"/>
<circle cx="893.6" cy="724.1" r="3.35"/>
<circle cx="874.6" cy="675.6" r="3.35"/>
<circle cx="869.8" cy="721.1" r="3.35"/>
<circle cx="917.1" cy="731.0" r="3.35"/>
<circle cx="874.6" cy="697.6" r="3.35"/>
<circle cx="870.0" cy="662.0" r="3.35"/>
<circle cx="879.2" cy="662.6" r="3.35"/>
<circle cx="869.8" cy="698.4" r="3.35"/>
<circle cx="903.0" cy="713.2" r="3.35"/>
<circle cx="1030.8" cy="732.9" r="3.35"/>
<circle cx="893.4" cy="687.1" r="3.35"/>
<circle cx="1035.5" cy="743.7" r="3.35"/>
<circle cx="959.7" cy="641.6" r="3.35"/>
<circle cx="878.9" cy="656.1" r="3.35"/>
<circle cx="869.8" cy="655.6" r="3.35"/>
<circle cx="1007.6" cy="729.1" r="3.35"/>
<circle cx="1039.9" cy="700.2" r="3.35"/>
<circle cx="1016.5" cy="728.2" r="3.35"/>
<circle cx="941.0" cy="706.1" r="3.35"/>
<circle cx="950.5" cy="727.0" r="3.35"/>
<circle cx="917.1" cy="732.6" r="3.35"/>
<circle cx="893.4" cy="741.3" r="3.35"/>
<circle cx="936.0" cy="721.6" r="3.35"/>
<circle cx="922.1" cy="738.9" r="3.35"/>
<circle cx="973.7" cy="685.4" r="3.35"/>
<circle cx="888.8" cy="680.8" r="3.35"/>
<circle cx="926.8" cy="708.9" r="3.35"/>
<circle cx="898.5" cy="647.5" r="3.35"/>
<circle cx="874.7" cy="659.8" r="3.35"/>
<circle cx="927.0" cy="706.7" r="3.35"/>
<circle cx="936.4" cy="711.5" r="3.35"/>
<circle cx="922.6" cy="647.3" r="3.35"/>
<circle cx="931.2" cy="724.8" r="3.35"/>
<circle cx="870.0" cy="740.7" r="3.35"/>
<circle cx="931.5" cy="717.2" r="3.35"/>
<circle cx="893.4" cy="690.9" r="3.35"/>
<circle cx="869.9" cy="736.8" r="3.35"/>
<circle cx="931.2" cy="737.1" r="3.35"/>
<circle cx="955.3" cy="727.3" r="3.35"/>
<circle cx="978.7" cy="731.9" r="3.35"/>
<circle cx="936.0" cy="736.2" r="3.35"/>
<circle cx="884.2" cy="697.2" r="3.35"/>
<circle cx="912.5" cy="649.8" r="3.35"/>
<circle cx="874.7" cy="738.1" r="3.35"/>
<circle cx="874.6" cy="613.9" r="3.35"/>
<circle cx="978.5" cy="541.0" r="3.35"/>
<circle cx="955.3" cy="721.2" r="3.35"/>
<circle cx="941.1" cy="728.0" r="3.35"/>
<circle cx="1059.2" cy="732.0" r="3.35"/>
<circle cx="869.8" cy="661.1" r="3.35"/>
<circle cx="893.5" cy="707.2" r="3.35"/>
<circle cx="1068.3" cy="743.7" r="3.35"/>
<circle cx="964.4" cy="727.6" r="3.35"/>
<circle cx="870.0" cy="711.1" r="3.35"/>
<circle cx="983.7" cy="719.2" r="3.35"/>
<circle cx="917.4" cy="709.7" r="3.35"/>
<circle cx="893.5" cy="698.9" r="3.35"/>
<circle cx="893.8" cy="695.9" r="3.35"/>
<circle cx="917.1" cy="699.6" r="3.35"/>
<circle cx="874.6" cy="732.6" r="3.35"/>
<circle cx="907.7" cy="734.7" r="3.35"/>
<circle cx="959.6" cy="733.1" r="3.35"/>
<circle cx="911.2" cy="690.0" r="3.35"/>
<circle cx="950.5" cy="713.6" r="3.35"/>
<circle cx="912.5" cy="688.5" r="3.35"/>
<circle cx="959.9" cy="723.1" r="3.35"/>
<circle cx="912.5" cy="685.4" r="3.35"/>
<circle cx="983.7" cy="660.2" r="3.35"/>
<circle cx="889.5" cy="743.5" r="3.35"/>
<circle cx="898.1" cy="706.3" r="3.35"/>
<circle cx="959.7" cy="727.6" r="3.35"/>
<circle cx="870.1" cy="656.0" r="3.35"/>
<circle cx="922.6" cy="655.6" r="3.35"/>
<circle cx="1007.4" cy="715.8" r="3.35"/>
<circle cx="1064.0" cy="736.3" r="3.35"/>
<circle cx="941.0" cy="743.4" r="3.35"/>
<circle cx="893.6" cy="680.3" r="3.35"/>
<circle cx="898.1" cy="718.2" r="3.35"/>
<circle cx="950.6" cy="734.8" r="3.35"/>
<circle cx="1045.0" cy="721.5" r="3.35"/>
<circle cx="907.7" cy="680.4" r="3.35"/>
<circle cx="926.3" cy="639.4" r="3.35"/>
<circle cx="878.9" cy="661.1" r="3.35"/>
<circle cx="893.4" cy="665.2" r="3.35"/>
<circle cx="884.3" cy="703.6" r="3.35"/>
<circle cx="874.9" cy="665.7" r="3.35"/>
<circle cx="879.3" cy="685.7" r="3.35"/>
<circle cx="997.5" cy="739.9" r="3.35"/>
<circle cx="936.1" cy="725.4" r="3.35"/>
<circle cx="924.7" cy="743.7" r="3.35"/>
<circle cx="922.2" cy="719.4" r="3.35"/>
<circle cx="898.5" cy="639.4" r="3.35"/>
<circle cx="888.9" cy="738.4" r="3.35"/>
<circle cx="964.3" cy="730.9" r="3.35"/>
<circle cx="978.7" cy="728.6" r="3.35"/>
<circle cx="931.3" cy="711.7" r="3.35"/>
<circle cx="936.0" cy="571.0" r="3.35"/>
<circle cx="870.1" cy="728.6" r="3.35"/>
<circle cx="884.2" cy="690.5" r="3.35"/>
<circle cx="969.0" cy="734.5" r="3.35"/>
<circle cx="959.7" cy="736.6" r="3.35"/>
<circle cx="869.8" cy="639.4" r="3.35"/>
<circle cx="917.4" cy="707.7" r="3.35"/>
<circle cx="969.5" cy="740.1" r="3.35"/>
<circle cx="945.6" cy="723.4" r="3.35"/>
<circle cx="893.1" cy="682.3" r="3.35"/>
<circle cx="954.8" cy="736.5" r="3.35"/>
<circle cx="879.6" cy="709.1" r="3.35"/>
<circle cx="973.8" cy="499.5" r="3.35"/>
<circle cx="973.8" cy="733.4" r="3.35"/>
<circle cx="960.1" cy="728.7" r="3.35"/>
<circle cx="879.7" cy="659.9" r="3.35"/>
<circle cx="926.5" cy="723.7" r="3.35"/>
<circle cx="959.8" cy="741.7" r="3.35"/>
<circle cx="898.5" cy="654.6" r="3.35"/>
<circle cx="879.4" cy="672.5" r="3.35"/>
<circle cx="870.3" cy="658.8" r="3.35"/>
<circle cx="922.1" cy="710.9" r="3.35"/>
<circle cx="940.9" cy="716.1" r="3.35"/>
<circle cx="874.8" cy="725.7" r="3.35"/>
<circle cx="973.8" cy="701.2" r="3.35"/>
<circle cx="870.0" cy="682.8" r="3.35"/>
<circle cx="950.1" cy="656.4" r="3.35"/>
<circle cx="899.6" cy="672.7" r="3.35"/>
<circle cx="931.6" cy="705.8" r="3.35"/>
<circle cx="912.7" cy="730.4" r="3.35"/>
<circle cx="884.2" cy="692.6" r="3.35"/>
<circle cx="978.6" cy="736.2" r="3.35"/>
<circle cx="955.0" cy="731.7" r="3.35"/>
<circle cx="898.1" cy="721.7" r="3.35"/>
<circle cx="974.2" cy="736.5" r="3.35"/>
<circle cx="941.2" cy="730.1" r="3.35"/>
<circle cx="893.4" cy="666.3" r="3.35"/>
<circle cx="892.4" cy="665.5" r="3.35"/>
<circle cx="874.9" cy="655.3" r="3.35"/>
<circle cx="926.6" cy="741.4" r="3.35"/>
<circle cx="1030.8" cy="709.2" r="3.35"/>
<circle cx="954.0" cy="743.7" r="3.35"/>
<circle cx="908.0" cy="740.9" r="3.35"/>
<circle cx="926.3" cy="699.4" r="3.35"/>
<circle cx="983.7" cy="728.7" r="3.35"/>
<circle cx="922.3" cy="734.3" r="3.35"/>
<circle cx="992.4" cy="743.7" r="3.35"/>
<circle cx="893.6" cy="526.8" r="3.35"/>
<circle cx="1115.8" cy="726.3" r="3.35"/>
<circle cx="936.0" cy="717.4" r="3.35"/>
<circle cx="895.2" cy="743.4" r="3.35"/>
<circle cx="969.4" cy="725.3" r="3.35"/>
<circle cx="898.5" cy="693.2" r="3.35"/>
<circle cx="1012.1" cy="718.7" r="3.35"/>
<circle cx="978.5" cy="731.0" r="3.35"/>
<circle cx="884.2" cy="719.3" r="3.35"/>
<circle cx="869.9" cy="719.6" r="3.35"/>
<circle cx="964.4" cy="735.6" r="3.35"/>
<circle cx="879.3" cy="722.3" r="3.35"/>
<circle cx="950.5" cy="737.3" r="3.35"/>
<circle cx="1106.3" cy="731.0" r="3.35"/>
<circle cx="945.5" cy="717.6" r="3.35"/>
<circle cx="936.5" cy="732.5" r="3.35"/>
<circle cx="931.4" cy="697.3" r="3.35"/>
<circle cx="903.2" cy="731.8" r="3.35"/>
<circle cx="954.9" cy="724.6" r="3.35"/>
<circle cx="1087.7" cy="731.0" r="3.35"/>
<circle cx="992.8" cy="728.7" r="3.35"/>
<circle cx="1102.0" cy="725.3" r="3.35"/>
<circle cx="888.6" cy="731.3" r="3.35"/>
<circle cx="888.8" cy="687.9" r="3.35"/>
<circle cx="879.6" cy="677.8" r="3.35"/>
<circle cx="888.6" cy="709.3" r="3.35"/>
<circle cx="1030.8" cy="743.7" r="3.35"/>
<circle cx="874.6" cy="720.3" r="3.35"/>
<circle cx="879.2" cy="694.9" r="3.35"/>
<circle cx="891.1" cy="663.8" r="3.35"/>
<circle cx="1012.1" cy="739.2" r="3.35"/>
<circle cx="941.0" cy="572.8" r="3.35"/>
<circle cx="884.2" cy="743.6" r="3.35"/>
<circle cx="973.7" cy="700.9" r="3.35"/>
<circle cx="969.1" cy="729.9" r="3.35"/>
<circle cx="869.8" cy="687.4" r="3.35"/>
<circle cx="879.7" cy="718.0" r="3.35"/>
<circle cx="903.1" cy="710.2" r="3.35"/>
<circle cx="896.0" cy="660.8" r="3.35"/>
<circle cx="893.4" cy="637.1" r="3.35"/>
<circle cx="914.0" cy="743.8" r="3.35"/>
<circle cx="884.1" cy="672.7" r="3.35"/>
<circle cx="907.7" cy="717.7" r="3.35"/>
<circle cx="917.2" cy="740.4" r="3.35"/>
<circle cx="931.4" cy="739.8" r="3.35"/>
<circle cx="964.8" cy="651.5" r="3.35"/>
<circle cx="974.1" cy="723.8" r="3.35"/>
<circle cx="888.7" cy="735.6" r="3.35"/>
<circle cx="874.7" cy="614.0" r="3.35"/>
<circle cx="945.4" cy="708.2" r="3.35"/>
<circle cx="884.2" cy="730.5" r="3.35"/>
<circle cx="895.4" cy="669.3" r="3.35"/>
<circle cx="974.1" cy="740.2" r="3.35"/>
<circle cx="1016.0" cy="617.6" r="3.35"/>
<circle cx="874.6" cy="598.1" r="3.35"/>
<circle cx="888.7" cy="693.5" r="3.35"/>
<circle cx="978.6" cy="740.8" r="3.35"/>
<circle cx="1002.3" cy="706.7" r="3.35"/>
<circle cx="870.1" cy="680.0" r="3.35"/>
<circle cx="945.9" cy="700.1" r="3.35"/>
<circle cx="884.1" cy="728.7" r="3.35"/>
<circle cx="1002.3" cy="729.1" r="3.35"/>
<circle cx="945.4" cy="735.9" r="3.35"/>
<circle cx="1045.0" cy="732.0" r="3.35"/>
<circle cx="898.1" cy="727.4" r="3.35"/>
<circle cx="898.2" cy="741.8" r="3.35"/>
<circle cx="869.8" cy="634.8" r="3.35"/>
<circle cx="884.3" cy="662.0" r="3.35"/>
<circle cx="912.4" cy="714.4" r="3.35"/>
<circle cx="926.7" cy="719.5" r="3.35"/>
<circle cx="1177.5" cy="743.7" r="3.35"/>
<circle cx="960.9" cy="743.5" r="3.35"/>
<circle cx="884.4" cy="739.4" r="3.35"/>
<circle cx="870.0" cy="668.6" r="3.35"/>
<circle cx="893.4" cy="712.6" r="3.35"/>
<circle cx="903.3" cy="736.1" r="3.35"/>
<circle cx="1039.9" cy="712.0" r="3.35"/>
<circle cx="903.2" cy="716.7" r="3.35"/>
<circle cx="888.9" cy="696.7" r="3.35"/>
<circle cx="898.4" cy="713.9" r="3.35"/>
<circle cx="893.4" cy="657.1" r="3.35"/>
<circle cx="959.7" cy="707.3" r="3.35"/>
<circle cx="1087.7" cy="709.2" r="3.35"/>
<circle cx="1021.3" cy="721.1" r="3.35"/>
<circle cx="1026.0" cy="732.9" r="3.35"/>
<circle cx="919.5" cy="743.5" r="3.35"/>
<circle cx="874.5" cy="663.3" r="3.35"/>
<circle cx="898.5" cy="709.9" r="3.35"/>
<circle cx="964.6" cy="733.3" r="3.35"/>
<circle cx="983.7" cy="736.3" r="3.35"/>
<circle cx="945.9" cy="678.7" r="3.35"/>
<circle cx="893.4" cy="703.7" r="3.35"/>
<circle cx="874.5" cy="736.0" r="3.35"/>
<circle cx="940.7" cy="720.4" r="3.35"/>
<circle cx="1007.6" cy="736.3" r="3.35"/>
<circle cx="907.8" cy="726.1" r="3.35"/>
<circle cx="879.6" cy="674.8" r="3.35"/>
<circle cx="888.9" cy="670.0" r="3.35"/>
<circle cx="902.9" cy="700.5" r="3.35"/>
<circle cx="907.6" cy="674.8" r="3.35"/>
<circle cx="931.4" cy="721.2" r="3.35"/>
<circle cx="908.1" cy="737.3" r="3.35"/>
<circle cx="926.7" cy="725.4" r="3.35"/>
<circle cx="888.8" cy="743.1" r="3.35"/>
<circle cx="1068.3" cy="732.9" r="3.35"/>
<circle cx="884.0" cy="658.4" r="3.35"/>
<circle cx="973.8" cy="685.8" r="3.35"/>
<circle cx="997.5" cy="698.3" r="3.35"/>
<circle cx="884.1" cy="678.6" r="3.35"/>
<circle cx="884.3" cy="662.2" r="3.35"/>
<circle cx="879.7" cy="710.9" r="3.35"/>
<circle cx="973.7" cy="679.9" r="3.35"/>
<circle cx="955.0" cy="717.6" r="3.35"/>
<circle cx="902.5" cy="660.1" r="3.35"/>
<circle cx="965.6" cy="743.6" r="3.35"/>
<circle cx="931.3" cy="733.9" r="3.35"/>
<circle cx="973.8" cy="719.2" r="3.35"/>
<circle cx="945.6" cy="712.2" r="3.35"/>
<circle cx="879.5" cy="657.2" r="3.35"/>
<circle cx="878.8" cy="537.0" r="3.35"/>
<circle cx="936.4" cy="706.2" r="3.35"/>
<circle cx="1063.6" cy="711.1" r="3.35"/>
<circle cx="931.1" cy="663.7" r="3.35"/>
<circle cx="891.6" cy="671.5" r="3.35"/>
<circle cx="917.5" cy="701.7" r="3.35"/>
<circle cx="888.9" cy="724.0" r="3.35"/>
<circle cx="1002.4" cy="536.4" r="3.35"/>
<circle cx="945.8" cy="727.5" r="3.35"/>
<circle cx="884.0" cy="708.3" r="3.35"/>
<circle cx="899.1" cy="663.6" r="3.35"/>
<circle cx="1007.4" cy="673.5" r="3.35"/>
<circle cx="988.6" cy="743.7" r="3.35"/>
<circle cx="874.7" cy="683.7" r="3.35"/>
<circle cx="912.5" cy="742.6" r="3.35"/>
<circle cx="941.0" cy="737.9" r="3.35"/>
<circle cx="904.9" cy="683.1" r="3.35"/>
<circle cx="950.5" cy="731.8" r="3.35"/>
<circle cx="912.5" cy="736.8" r="3.35"/>
<circle cx="874.7" cy="729.2" r="3.35"/>
<circle cx="917.1" cy="721.7" r="3.35"/>
<circle cx="912.6" cy="739.6" r="3.35"/>
<circle cx="950.2" cy="719.1" r="3.35"/>
<circle cx="879.4" cy="732.7" r="3.35"/>
<circle cx="903.2" cy="723.6" r="3.35"/>
<circle cx="912.3" cy="734.3" r="3.35"/>
<circle cx="874.7" cy="689.8" r="3.35"/>
<circle cx="930.9" cy="688.5" r="3.35"/>
<circle cx="888.8" cy="683.8" r="3.35"/>
<circle cx="922.1" cy="708.5" r="3.35"/>
<circle cx="988.6" cy="581.1" r="3.35"/>
<circle cx="917.5" cy="738.5" r="3.35"/>
<circle cx="884.2" cy="683.8" r="3.35"/>
<circle cx="964.5" cy="741.1" r="3.35"/>
<circle cx="884.2" cy="676.2" r="3.35"/>
<circle cx="870.1" cy="713.1" r="3.35"/>
<circle cx="874.7" cy="712.9" r="3.35"/>
<circle cx="888.6" cy="707.1" r="3.35"/>
<circle cx="907.2" cy="616.0" r="3.35"/>
<circle cx="907.7" cy="704.3" r="3.35"/>
<circle cx="898.5" cy="669.5" r="3.35"/>
<circle cx="884.3" cy="724.5" r="3.35"/>
<circle cx="917.3" cy="735.0" r="3.35"/>
<circle cx="884.1" cy="687.8" r="3.35"/>
<circle cx="904.2" cy="675.3" r="3.35"/>
<circle cx="907.6" cy="730.2" r="3.35"/>
<circle cx="902.5" cy="681.4" r="3.35"/>
<circle cx="940.8" cy="732.4" r="3.35"/>
<circle cx="970.3" cy="743.8" r="3.35"/>
<circle cx="870.1" cy="723.8" r="3.35"/>
<circle cx="888.8" cy="692.4" r="3.35"/>
<circle cx="1012.1" cy="710.1" r="3.35"/>
<circle cx="902.5" cy="664.0" r="3.35"/>
<circle cx="1097.2" cy="731.0" r="3.35"/>
<circle cx="1049.7" cy="732.0" r="3.35"/>
<circle cx="969.7" cy="645.6" r="3.35"/>
<circle cx="912.3" cy="594.1" r="3.35"/>
<circle cx="902.1" cy="665.4" r="3.35"/>
<circle cx="973.8" cy="679.7" r="3.35"/>
<circle cx="969.1" cy="722.8" r="3.35"/>
<circle cx="955.3" cy="737.8" r="3.35"/>
<circle cx="893.5" cy="727.8" r="3.35"/>
<circle cx="983.7" cy="708.6" r="3.35"/>
<circle cx="901.1" cy="669.6" r="3.35"/>
<circle cx="934.3" cy="743.4" r="3.35"/>
<circle cx="888.3" cy="692.0" r="3.35"/>
<circle cx="1134.8" cy="670.8" r="3.35"/>
<circle cx="1035.5" cy="732.0" r="3.35"/>
<circle cx="869.9" cy="664.7" r="3.35"/>
<circle cx="879.3" cy="681.2" r="3.35"/>
<circle cx="959.6" cy="718.5" r="3.35"/>
<circle cx="874.6" cy="704.7" r="3.35"/>
<circle cx="964.7" cy="723.1" r="3.35"/>
<circle cx="969.3" cy="737.3" r="3.35"/>
<circle cx="888.7" cy="639.4" r="3.35"/>
<circle cx="912.7" cy="716.4" r="3.35"/>
<circle cx="878.9" cy="630.0" r="3.35"/>
<circle cx="888.7" cy="728.6" r="3.35"/>
<circle cx="931.7" cy="728.9" r="3.35"/>
<circle cx="931.6" cy="709.4" r="3.35"/>
<circle cx="940.9" cy="709.5" r="3.35"/>
<circle cx="874.5" cy="672.7" r="3.35"/>
<circle cx="988.6" cy="738.6" r="3.35"/>
<circle cx="974.2" cy="718.6" r="3.35"/>
<circle cx="899.3" cy="697.4" r="3.35"/>
<circle cx="879.4" cy="691.2" r="3.35"/>
<circle cx="1016.5" cy="716.2" r="3.35"/>
<circle cx="974.0" cy="729.0" r="3.35"/>
<circle cx="936.3" cy="730.3" r="3.35"/>
<circle cx="912.6" cy="709.2" r="3.35"/>
<circle cx="889.1" cy="740.0" r="3.35"/>
<circle cx="1106.3" cy="734.8" r="3.35"/>
<circle cx="884.2" cy="713.2" r="3.35"/>
<circle cx="907.8" cy="715.6" r="3.35"/>
<circle cx="893.7" cy="719.3" r="3.35"/>
<circle cx="931.4" cy="625.2" r="3.35"/>
<circle cx="941.1" cy="743.8" r="3.35"/>
<circle cx="992.4" cy="702.0" r="3.35"/>
<circle cx="874.6" cy="686.9" r="3.35"/>
<circle cx="874.5" cy="668.2" r="3.35"/>
<circle cx="879.3" cy="715.4" r="3.35"/>
</g></g>
<rect x="854.50" y="454.70" width="338.30" height="302.70" fill="none" stroke="#222" stroke-width="1.1"/>
<line x1="870.00" y1="757.40" x2="870.00" y2="761.50" stroke="#000" stroke-width="0.85"/>
<text x="870.00" y="774.10" font-size="11.8" text-anchor="middle" textLength="6.93" lengthAdjust="spacingAndGlyphs">0</text>
<line x1="917.27" y1="757.40" x2="917.27" y2="761.50" stroke="#000" stroke-width="0.85"/>
<text x="917.27" y="774.10" font-size="11.8" text-anchor="middle" textLength="13.87" lengthAdjust="spacingAndGlyphs">10</text>
<line x1="964.54" y1="757.40" x2="964.54" y2="761.50" stroke="#000" stroke-width="0.85"/>
<text x="964.54" y="774.10" font-size="11.8" text-anchor="middle" textLength="13.87" lengthAdjust="spacingAndGlyphs">20</text>
<line x1="1011.81" y1="757.40" x2="1011.81" y2="761.50" stroke="#000" stroke-width="0.85"/>
<text x="1011.81" y="774.10" font-size="11.8" text-anchor="middle" textLength="13.87" lengthAdjust="spacingAndGlyphs">30</text>
<line x1="1059.08" y1="757.40" x2="1059.08" y2="761.50" stroke="#000" stroke-width="0.85"/>
<text x="1059.08" y="774.10" font-size="11.8" text-anchor="middle" textLength="13.87" lengthAdjust="spacingAndGlyphs">40</text>
<line x1="1106.35" y1="757.40" x2="1106.35" y2="761.50" stroke="#000" stroke-width="0.85"/>
<text x="1106.35" y="774.10" font-size="11.8" text-anchor="middle" textLength="13.87" lengthAdjust="spacingAndGlyphs">50</text>
<line x1="1153.62" y1="757.40" x2="1153.62" y2="761.50" stroke="#000" stroke-width="0.85"/>
<text x="1153.62" y="774.10" font-size="11.8" text-anchor="middle" textLength="13.87" lengthAdjust="spacingAndGlyphs">60</text>
<line x1="850.40" y1="743.60" x2="854.50" y2="743.60" stroke="#000" stroke-width="0.85"/>
<text x="845.80" y="748.10" font-size="11.8" text-anchor="end" textLength="6.93" lengthAdjust="spacingAndGlyphs">0</text>
<line x1="850.40" y1="685.00" x2="854.50" y2="685.00" stroke="#000" stroke-width="0.85"/>
<text x="845.80" y="689.50" font-size="11.8" text-anchor="end" textLength="20.80" lengthAdjust="spacingAndGlyphs">200</text>
<line x1="850.40" y1="626.40" x2="854.50" y2="626.40" stroke="#000" stroke-width="0.85"/>
<text x="845.80" y="630.90" font-size="11.8" text-anchor="end" textLength="20.80" lengthAdjust="spacingAndGlyphs">400</text>
<line x1="850.40" y1="567.80" x2="854.50" y2="567.80" stroke="#000" stroke-width="0.85"/>
<text x="845.80" y="572.30" font-size="11.8" text-anchor="end" textLength="20.80" lengthAdjust="spacingAndGlyphs">600</text>
<line x1="850.40" y1="509.20" x2="854.50" y2="509.20" stroke="#000" stroke-width="0.85"/>
<text x="845.80" y="513.70" font-size="11.8" text-anchor="end" textLength="20.80" lengthAdjust="spacingAndGlyphs">800</text>
<text x="1023.65" y="790.30" font-size="11.8" text-anchor="middle" textLength="10.07" lengthAdjust="spacingAndGlyphs">nl</text>
<g transform="translate(817.90,606.05) rotate(-90)"><text x="0.00" y="0.00" font-size="11.8" text-anchor="middle" textLength="56.34" lengthAdjust="spacingAndGlyphs">sr_density</text></g>
</g>
</svg>
</body></html>
